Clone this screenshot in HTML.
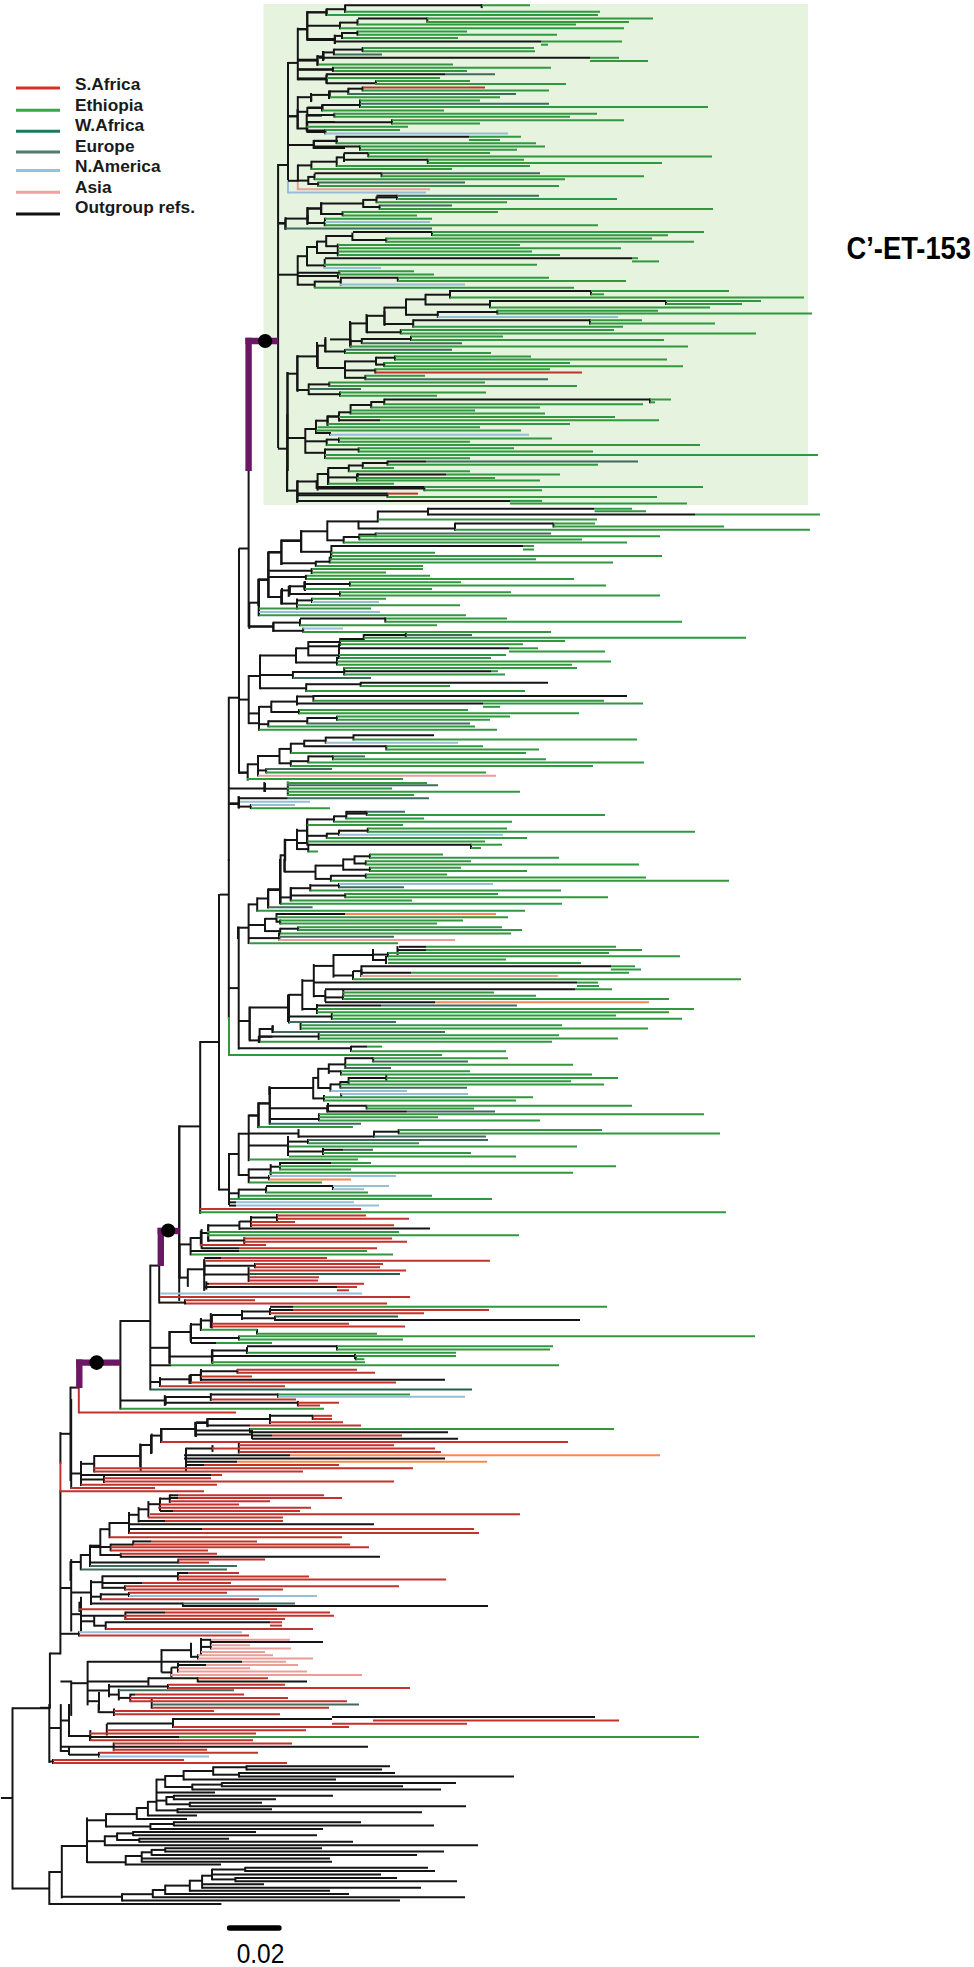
<!DOCTYPE html>
<html><head><meta charset="utf-8"><style>
html,body{margin:0;padding:0;background:#fff;}
body{width:974px;height:1967px;overflow:hidden;position:relative;font-family:"Liberation Sans",sans-serif;}
svg{position:absolute;left:0;top:0;}
.lg{font-family:"Liberation Sans",sans-serif;font-weight:bold;font-size:17.3px;fill:#1a1a1a;}
</style></head><body>
<svg width="974" height="1967" viewBox="0 0 974 1967" shape-rendering="geometricPrecision">
<rect x="263.5" y="4" width="544.5" height="501" fill="#e5f3df"/>
<g stroke-linecap="butt">
<line x1="60.4" y1="1432.1" x2="60.4" y2="1463.7" stroke="#151515" stroke-width="2.0"/>
<line x1="71.2" y1="1399.1" x2="71.2" y2="1488.9" stroke="#151515" stroke-width="2.0"/>
<line x1="81.0" y1="1461.1" x2="81.0" y2="1485.9" stroke="#151515" stroke-width="2.0"/>
<line x1="94.2" y1="1455.1" x2="94.2" y2="1472.5" stroke="#151515" stroke-width="2.0"/>
<line x1="140.2" y1="1443.5" x2="140.2" y2="1466.9" stroke="#151515" stroke-width="2.0"/>
<line x1="151.7" y1="1433.6" x2="151.7" y2="1453.5" stroke="#151515" stroke-width="2.0"/>
<line x1="161.5" y1="1428.7" x2="161.5" y2="1441.9" stroke="#151515" stroke-width="2.0"/>
<line x1="196.0" y1="1422.1" x2="196.0" y2="1436.9" stroke="#151515" stroke-width="2.0"/>
<line x1="207.5" y1="1418.8" x2="207.5" y2="1427.2" stroke="#151515" stroke-width="2.0"/>
<line x1="212.5" y1="1445.1" x2="212.5" y2="1451.9" stroke="#151515" stroke-width="2.0"/>
<line x1="238.8" y1="1441.8" x2="238.8" y2="1453.5" stroke="#151515" stroke-width="2.0"/>
<line x1="252.0" y1="1430.1" x2="252.0" y2="1438.9" stroke="#151515" stroke-width="2.0"/>
<line x1="270.0" y1="1413.9" x2="270.0" y2="1423.9" stroke="#151515" stroke-width="2.0"/>
<line x1="104.0" y1="1476.1" x2="104.0" y2="1482.9" stroke="#151515" stroke-width="2.0"/>
<line x1="138.6" y1="1507.1" x2="138.6" y2="1522.4" stroke="#151515" stroke-width="2.0"/>
<line x1="148.4" y1="1501.1" x2="148.4" y2="1517.5" stroke="#151515" stroke-width="2.0"/>
<line x1="160.0" y1="1497.6" x2="160.0" y2="1510.9" stroke="#151515" stroke-width="2.0"/>
<line x1="169.8" y1="1494.4" x2="169.8" y2="1502.9" stroke="#151515" stroke-width="2.0"/>
<line x1="60.4" y1="1490.4" x2="60.4" y2="1654.4" stroke="#151515" stroke-width="2.0"/>
<line x1="49.9" y1="1652.6" x2="49.9" y2="1708.7" stroke="#151515" stroke-width="2.0"/>
<line x1="71.2" y1="1559.1" x2="71.2" y2="1631.5" stroke="#151515" stroke-width="2.0"/>
<line x1="81.0" y1="1596.8" x2="81.0" y2="1631.5" stroke="#151515" stroke-width="2.0"/>
<line x1="79.4" y1="1601.7" x2="79.4" y2="1611.9" stroke="#151515" stroke-width="2.0"/>
<line x1="91.0" y1="1580.1" x2="91.0" y2="1604.9" stroke="#151515" stroke-width="2.0"/>
<line x1="102.4" y1="1575.5" x2="102.4" y2="1588.9" stroke="#151515" stroke-width="2.0"/>
<line x1="100.8" y1="1593.1" x2="100.8" y2="1600.2" stroke="#151515" stroke-width="2.0"/>
<line x1="94.2" y1="1616.1" x2="94.2" y2="1626.5" stroke="#151515" stroke-width="2.0"/>
<line x1="125.4" y1="1611.6" x2="125.4" y2="1619.9" stroke="#151515" stroke-width="2.0"/>
<line x1="105.7" y1="1621.4" x2="105.7" y2="1629.9" stroke="#151515" stroke-width="2.0"/>
<line x1="87.6" y1="1660.9" x2="87.6" y2="1705.4" stroke="#151515" stroke-width="2.0"/>
<line x1="161.5" y1="1649.1" x2="161.5" y2="1672.5" stroke="#151515" stroke-width="2.0"/>
<line x1="191.0" y1="1642.8" x2="191.0" y2="1657.7" stroke="#151515" stroke-width="2.0"/>
<line x1="201.0" y1="1638.1" x2="201.0" y2="1654.9" stroke="#151515" stroke-width="2.0"/>
<line x1="210.8" y1="1639.1" x2="210.8" y2="1645.9" stroke="#151515" stroke-width="2.0"/>
<line x1="171.4" y1="1667.4" x2="171.4" y2="1677.5" stroke="#151515" stroke-width="2.0"/>
<line x1="178.0" y1="1662.5" x2="178.0" y2="1672.5" stroke="#151515" stroke-width="2.0"/>
<line x1="71.2" y1="1680.6" x2="71.2" y2="1715.9" stroke="#151515" stroke-width="2.0"/>
<line x1="99.0" y1="1692.1" x2="99.0" y2="1710.3" stroke="#151515" stroke-width="2.0"/>
<line x1="109.0" y1="1683.9" x2="109.0" y2="1697.2" stroke="#151515" stroke-width="2.0"/>
<line x1="118.8" y1="1688.8" x2="118.8" y2="1700.4" stroke="#151515" stroke-width="2.0"/>
<line x1="130.3" y1="1693.7" x2="130.3" y2="1702.1" stroke="#151515" stroke-width="2.0"/>
<line x1="151.7" y1="1698.6" x2="151.7" y2="1708.7" stroke="#151515" stroke-width="2.0"/>
<line x1="148.4" y1="1677.3" x2="148.4" y2="1685.7" stroke="#151515" stroke-width="2.0"/>
<line x1="114.0" y1="1708.5" x2="114.0" y2="1715.9" stroke="#151515" stroke-width="2.0"/>
<line x1="12.5" y1="1707.4" x2="12.5" y2="1889.5" stroke="#151515" stroke-width="2.0"/>
<line x1="49.3" y1="1704.1" x2="49.3" y2="1762.9" stroke="#151515" stroke-width="2.0"/>
<line x1="60.8" y1="1704.1" x2="60.8" y2="1751.9" stroke="#151515" stroke-width="2.0"/>
<line x1="69.0" y1="1704.1" x2="69.0" y2="1736.9" stroke="#151515" stroke-width="2.0"/>
<line x1="90.3" y1="1730.1" x2="90.3" y2="1739.9" stroke="#151515" stroke-width="2.0"/>
<line x1="106.8" y1="1723.8" x2="106.8" y2="1735.5" stroke="#151515" stroke-width="2.0"/>
<line x1="98.6" y1="1704.1" x2="98.6" y2="1712.9" stroke="#151515" stroke-width="2.0"/>
<line x1="69.0" y1="1747.1" x2="69.0" y2="1754.9" stroke="#151515" stroke-width="2.0"/>
<line x1="61.8" y1="1845.1" x2="61.8" y2="1898.4" stroke="#151515" stroke-width="2.0"/>
<line x1="106.0" y1="1813.2" x2="106.0" y2="1827.4" stroke="#151515" stroke-width="2.0"/>
<line x1="136.8" y1="1807.1" x2="136.8" y2="1819.9" stroke="#151515" stroke-width="2.0"/>
<line x1="147.9" y1="1800.9" x2="147.9" y2="1816.4" stroke="#151515" stroke-width="2.0"/>
<line x1="156.5" y1="1778.7" x2="156.5" y2="1811.3" stroke="#151515" stroke-width="2.0"/>
<line x1="165.2" y1="1775.1" x2="165.2" y2="1787.9" stroke="#151515" stroke-width="2.0"/>
<line x1="183.6" y1="1770.1" x2="183.6" y2="1780.5" stroke="#151515" stroke-width="2.0"/>
<line x1="213.2" y1="1766.4" x2="213.2" y2="1775.6" stroke="#151515" stroke-width="2.0"/>
<line x1="246.5" y1="1765.3" x2="246.5" y2="1770.5" stroke="#151515" stroke-width="2.0"/>
<line x1="239.0" y1="1772.0" x2="239.0" y2="1777.5" stroke="#151515" stroke-width="2.0"/>
<line x1="192.3" y1="1783.7" x2="192.3" y2="1790.4" stroke="#151515" stroke-width="2.0"/>
<line x1="221.8" y1="1782.2" x2="221.8" y2="1787.2" stroke="#151515" stroke-width="2.0"/>
<line x1="166.4" y1="1796.1" x2="166.4" y2="1805.2" stroke="#151515" stroke-width="2.0"/>
<line x1="173.8" y1="1794.9" x2="173.8" y2="1800.2" stroke="#151515" stroke-width="2.0"/>
<line x1="189.8" y1="1801.9" x2="189.8" y2="1807.1" stroke="#151515" stroke-width="2.0"/>
<line x1="177.5" y1="1808.3" x2="177.5" y2="1813.2" stroke="#151515" stroke-width="2.0"/>
<line x1="150.4" y1="1823.1" x2="150.4" y2="1829.8" stroke="#151515" stroke-width="2.0"/>
<line x1="173.8" y1="1821.3" x2="173.8" y2="1826.3" stroke="#151515" stroke-width="2.0"/>
<line x1="87.0" y1="1817.4" x2="87.0" y2="1863.1" stroke="#151515" stroke-width="2.0"/>
<line x1="104.8" y1="1835.4" x2="104.8" y2="1846.1" stroke="#151515" stroke-width="2.0"/>
<line x1="117.1" y1="1832.5" x2="117.1" y2="1840.9" stroke="#151515" stroke-width="2.0"/>
<line x1="133.1" y1="1831.1" x2="133.1" y2="1836.1" stroke="#151515" stroke-width="2.0"/>
<line x1="139.3" y1="1837.8" x2="139.3" y2="1842.7" stroke="#151515" stroke-width="2.0"/>
<line x1="125.7" y1="1855.1" x2="125.7" y2="1865.5" stroke="#151515" stroke-width="2.0"/>
<line x1="141.7" y1="1851.4" x2="141.7" y2="1862.6" stroke="#151515" stroke-width="2.0"/>
<line x1="151.6" y1="1849.0" x2="151.6" y2="1855.8" stroke="#151515" stroke-width="2.0"/>
<line x1="165.2" y1="1847.4" x2="165.2" y2="1852.5" stroke="#151515" stroke-width="2.0"/>
<line x1="49.3" y1="1871.1" x2="49.3" y2="1904.9" stroke="#151515" stroke-width="2.0"/>
<line x1="122.0" y1="1893.3" x2="122.0" y2="1901.4" stroke="#151515" stroke-width="2.0"/>
<line x1="152.8" y1="1889.1" x2="152.8" y2="1898.1" stroke="#151515" stroke-width="2.0"/>
<line x1="165.2" y1="1884.7" x2="165.2" y2="1895.0" stroke="#151515" stroke-width="2.0"/>
<line x1="189.8" y1="1879.8" x2="189.8" y2="1891.7" stroke="#151515" stroke-width="2.0"/>
<line x1="202.1" y1="1874.8" x2="202.1" y2="1888.7" stroke="#151515" stroke-width="2.0"/>
<line x1="212.0" y1="1868.7" x2="212.0" y2="1880.3" stroke="#151515" stroke-width="2.0"/>
<line x1="245.2" y1="1866.9" x2="245.2" y2="1872.0" stroke="#151515" stroke-width="2.0"/>
<line x1="235.4" y1="1877.0" x2="235.4" y2="1882.2" stroke="#151515" stroke-width="2.0"/>
<line x1="384.5" y1="311.1" x2="384.5" y2="325.9" stroke="#151515" stroke-width="2.0"/>
<line x1="366.5" y1="314.1" x2="366.5" y2="332.9" stroke="#151515" stroke-width="2.0"/>
<line x1="350.0" y1="321.1" x2="350.0" y2="345.9" stroke="#151515" stroke-width="2.0"/>
<line x1="325.4" y1="337.1" x2="325.4" y2="351.9" stroke="#151515" stroke-width="2.0"/>
<line x1="317.0" y1="342.1" x2="317.0" y2="366.9" stroke="#151515" stroke-width="2.0"/>
<line x1="297.5" y1="355.1" x2="297.5" y2="391.9" stroke="#151515" stroke-width="2.0"/>
<line x1="287.6" y1="372.1" x2="287.6" y2="470.9" stroke="#151515" stroke-width="2.0"/>
<line x1="287.0" y1="467.1" x2="287.0" y2="491.9" stroke="#151515" stroke-width="2.0"/>
<line x1="297.6" y1="480.1" x2="297.6" y2="501.9" stroke="#151515" stroke-width="2.0"/>
<line x1="316.6" y1="480.1" x2="316.6" y2="488.9" stroke="#151515" stroke-width="2.0"/>
<line x1="328.0" y1="469.1" x2="328.0" y2="484.9" stroke="#151515" stroke-width="2.0"/>
<line x1="357.7" y1="473.1" x2="357.7" y2="479.9" stroke="#151515" stroke-width="2.0"/>
<line x1="248.6" y1="470.1" x2="248.6" y2="627.2" stroke="#151515" stroke-width="2.0"/>
<line x1="239.0" y1="548.5" x2="239.0" y2="773.7" stroke="#151515" stroke-width="2.0"/>
<line x1="259.0" y1="579.1" x2="259.0" y2="614.9" stroke="#151515" stroke-width="2.0"/>
<line x1="249.3" y1="602.1" x2="249.3" y2="628.9" stroke="#151515" stroke-width="2.0"/>
<line x1="282.0" y1="588.1" x2="282.0" y2="603.9" stroke="#151515" stroke-width="2.0"/>
<line x1="288.7" y1="586.1" x2="288.7" y2="596.9" stroke="#151515" stroke-width="2.0"/>
<line x1="305.0" y1="581.1" x2="305.0" y2="590.9" stroke="#151515" stroke-width="2.0"/>
<line x1="297.0" y1="599.1" x2="297.0" y2="606.9" stroke="#151515" stroke-width="2.0"/>
<line x1="264.3" y1="782.1" x2="264.3" y2="791.9" stroke="#151515" stroke-width="2.0"/>
<line x1="238.0" y1="926.6" x2="238.0" y2="938.9" stroke="#151515" stroke-width="2.0"/>
<line x1="249.7" y1="1007.1" x2="249.7" y2="1039.9" stroke="#151515" stroke-width="2.0"/>
<line x1="272.7" y1="1025.1" x2="272.7" y2="1032.9" stroke="#151515" stroke-width="2.0"/>
<line x1="289.0" y1="994.1" x2="289.0" y2="1023.6" stroke="#151515" stroke-width="2.0"/>
<line x1="302.3" y1="979.1" x2="302.3" y2="1010.5" stroke="#151515" stroke-width="2.0"/>
<line x1="313.8" y1="964.1" x2="313.8" y2="997.3" stroke="#151515" stroke-width="2.0"/>
<line x1="333.5" y1="954.1" x2="333.5" y2="977.6" stroke="#151515" stroke-width="2.0"/>
<line x1="373.0" y1="949.1" x2="373.0" y2="960.9" stroke="#151515" stroke-width="2.0"/>
<line x1="397.5" y1="946.1" x2="397.5" y2="954.9" stroke="#151515" stroke-width="2.0"/>
<line x1="386.0" y1="956.1" x2="386.0" y2="963.9" stroke="#151515" stroke-width="2.0"/>
<line x1="353.0" y1="971.1" x2="353.0" y2="979.9" stroke="#151515" stroke-width="2.0"/>
<line x1="361.4" y1="969.1" x2="361.4" y2="976.9" stroke="#151515" stroke-width="2.0"/>
<line x1="325.3" y1="990.1" x2="325.3" y2="1001.9" stroke="#151515" stroke-width="2.0"/>
<line x1="343.3" y1="989.1" x2="343.3" y2="996.9" stroke="#151515" stroke-width="2.0"/>
<line x1="317.0" y1="1004.1" x2="317.0" y2="1013.9" stroke="#151515" stroke-width="2.0"/>
<line x1="331.8" y1="1013.1" x2="331.8" y2="1019.9" stroke="#151515" stroke-width="2.0"/>
<line x1="300.6" y1="1022.1" x2="300.6" y2="1029.9" stroke="#151515" stroke-width="2.0"/>
<line x1="318.7" y1="1033.1" x2="318.7" y2="1039.9" stroke="#151515" stroke-width="2.0"/>
<line x1="259.6" y1="1028.1" x2="259.6" y2="1042.9" stroke="#151515" stroke-width="2.0"/>
<line x1="269.4" y1="1086.1" x2="269.4" y2="1094.9" stroke="#151515" stroke-width="2.0"/>
<line x1="298.5" y1="1129.1" x2="298.5" y2="1137.9" stroke="#151515" stroke-width="2.0"/>
<line x1="328.0" y1="1103.1" x2="328.0" y2="1111.9" stroke="#151515" stroke-width="2.0"/>
<line x1="323.0" y1="1148.1" x2="323.0" y2="1154.9" stroke="#151515" stroke-width="2.0"/>
<line x1="201.6" y1="1229.1" x2="201.6" y2="1248.9" stroke="#151515" stroke-width="2.0"/>
<line x1="208.2" y1="1224.1" x2="208.2" y2="1241.9" stroke="#151515" stroke-width="2.0"/>
<line x1="239.4" y1="1221.1" x2="239.4" y2="1229.9" stroke="#151515" stroke-width="2.0"/>
<line x1="251.0" y1="1216.1" x2="251.0" y2="1226.9" stroke="#151515" stroke-width="2.0"/>
<line x1="277.0" y1="1214.1" x2="277.0" y2="1220.9" stroke="#151515" stroke-width="2.0"/>
<line x1="244.3" y1="1237.1" x2="244.3" y2="1243.9" stroke="#151515" stroke-width="2.0"/>
<line x1="179.6" y1="1244.1" x2="179.6" y2="1278.9" stroke="#151515" stroke-width="2.0"/>
<line x1="204.2" y1="1259.1" x2="204.2" y2="1290.9" stroke="#151515" stroke-width="2.0"/>
<line x1="248.6" y1="1267.1" x2="248.6" y2="1281.9" stroke="#151515" stroke-width="2.0"/>
<line x1="201.0" y1="1318.1" x2="201.0" y2="1330.9" stroke="#151515" stroke-width="2.0"/>
<line x1="191.0" y1="1323.1" x2="191.0" y2="1342.9" stroke="#151515" stroke-width="2.0"/>
<line x1="210.8" y1="1313.1" x2="210.8" y2="1327.9" stroke="#151515" stroke-width="2.0"/>
<line x1="242.0" y1="1310.1" x2="242.0" y2="1319.9" stroke="#151515" stroke-width="2.0"/>
<line x1="270.0" y1="1308.1" x2="270.0" y2="1314.9" stroke="#151515" stroke-width="2.0"/>
<line x1="169.7" y1="1331.1" x2="169.7" y2="1363.9" stroke="#151515" stroke-width="2.0"/>
<line x1="212.4" y1="1349.1" x2="212.4" y2="1363.9" stroke="#151515" stroke-width="2.0"/>
<line x1="247.0" y1="1347.1" x2="247.0" y2="1353.9" stroke="#151515" stroke-width="2.0"/>
<line x1="355.0" y1="1354.1" x2="355.0" y2="1358.9" stroke="#151515" stroke-width="2.0"/>
<line x1="160.0" y1="1377.1" x2="160.0" y2="1386.9" stroke="#151515" stroke-width="2.0"/>
<line x1="189.4" y1="1375.1" x2="189.4" y2="1383.9" stroke="#151515" stroke-width="2.0"/>
<line x1="201.0" y1="1369.1" x2="201.0" y2="1380.9" stroke="#151515" stroke-width="2.0"/>
<line x1="164.8" y1="1395.1" x2="164.8" y2="1405.9" stroke="#151515" stroke-width="2.0"/>
<line x1="210.8" y1="1393.1" x2="210.8" y2="1400.9" stroke="#151515" stroke-width="2.0"/>
<line x1="237.5" y1="1368.9" x2="237.5" y2="1373.7" stroke="#151515" stroke-width="2.0"/>
<line x1="355.8" y1="1355.3" x2="355.8" y2="1360.3" stroke="#151515" stroke-width="2.0"/>
<line x1="190.7" y1="1376.1" x2="190.7" y2="1383.5" stroke="#151515" stroke-width="2.0"/>
<line x1="297.9" y1="1400.9" x2="297.9" y2="1406.4" stroke="#151515" stroke-width="2.0"/>
<line x1="278.0" y1="1393.6" x2="278.0" y2="1397.7" stroke="#151515" stroke-width="2.0"/>
<line x1="307.3" y1="11.1" x2="307.3" y2="40.9" stroke="#151515" stroke-width="2.0"/>
<line x1="297.8" y1="27.7" x2="297.8" y2="80.3" stroke="#151515" stroke-width="2.0"/>
<line x1="288.0" y1="62.0" x2="288.0" y2="181.9" stroke="#151515" stroke-width="2.0"/>
<line x1="297.8" y1="96.1" x2="297.8" y2="128.9" stroke="#151515" stroke-width="2.0"/>
<line x1="307.3" y1="107.1" x2="307.3" y2="116.5" stroke="#151515" stroke-width="2.0"/>
<line x1="307.3" y1="121.1" x2="307.3" y2="132.9" stroke="#151515" stroke-width="2.0"/>
<line x1="313.7" y1="140.1" x2="313.7" y2="148.9" stroke="#151515" stroke-width="2.0"/>
<line x1="278.1" y1="164.1" x2="278.1" y2="447.9" stroke="#151515" stroke-width="2.0"/>
<line x1="297.8" y1="179.1" x2="297.8" y2="190.2" stroke="#e99e98" stroke-width="2.0"/>
<line x1="288.0" y1="180.1" x2="288.0" y2="193.4" stroke="#95bfd6" stroke-width="2.0"/>
<line x1="285.5" y1="217.1" x2="285.5" y2="229.9" stroke="#151515" stroke-width="2.0"/>
<line x1="307.3" y1="207.1" x2="307.3" y2="224.9" stroke="#151515" stroke-width="2.0"/>
<line x1="321.3" y1="202.1" x2="321.3" y2="214.9" stroke="#151515" stroke-width="2.0"/>
<line x1="334.7" y1="34.7" x2="334.7" y2="43.9" stroke="#151515" stroke-width="2.0"/>
<line x1="317.5" y1="55.1" x2="317.5" y2="65.9" stroke="#151515" stroke-width="2.0"/>
<line x1="323.0" y1="51.1" x2="323.0" y2="60.9" stroke="#151515" stroke-width="2.0"/>
<line x1="326.4" y1="75.1" x2="326.4" y2="83.5" stroke="#151515" stroke-width="2.0"/>
<line x1="311.0" y1="93.1" x2="311.0" y2="101.9" stroke="#151515" stroke-width="2.0"/>
<line x1="329.0" y1="90.6" x2="329.0" y2="98.9" stroke="#151515" stroke-width="2.0"/>
<line x1="322.0" y1="104.6" x2="322.0" y2="111.4" stroke="#151515" stroke-width="2.0"/>
<line x1="326.4" y1="9.1" x2="326.4" y2="15.9" stroke="#151515" stroke-width="2.0"/>
<line x1="345.0" y1="4.4" x2="345.0" y2="12.7" stroke="#151515" stroke-width="2.0"/>
<line x1="287.2" y1="414.1" x2="287.2" y2="491.5" stroke="#151515" stroke-width="2.0"/>
<line x1="305.3" y1="428.1" x2="305.3" y2="453.7" stroke="#151515" stroke-width="2.0"/>
<line x1="316.0" y1="419.8" x2="316.0" y2="433.9" stroke="#151515" stroke-width="2.0"/>
<line x1="327.5" y1="415.7" x2="327.5" y2="424.9" stroke="#151515" stroke-width="2.0"/>
<line x1="339.0" y1="414.1" x2="339.0" y2="421.6" stroke="#151515" stroke-width="2.0"/>
<line x1="330.0" y1="432.1" x2="330.0" y2="435.6" stroke="#151515" stroke-width="2.0"/>
<line x1="326.7" y1="438.7" x2="326.7" y2="445.9" stroke="#151515" stroke-width="2.0"/>
<line x1="339.0" y1="437.6" x2="339.0" y2="442.7" stroke="#151515" stroke-width="2.0"/>
<line x1="325.0" y1="448.6" x2="325.0" y2="459.1" stroke="#151515" stroke-width="2.0"/>
<line x1="358.7" y1="447.4" x2="358.7" y2="452.5" stroke="#151515" stroke-width="2.0"/>
<line x1="387.5" y1="460.6" x2="387.5" y2="465.7" stroke="#151515" stroke-width="2.0"/>
<line x1="362.8" y1="462.1" x2="362.8" y2="468.9" stroke="#151515" stroke-width="2.0"/>
<line x1="348.8" y1="464.6" x2="348.8" y2="472.2" stroke="#151515" stroke-width="2.0"/>
<line x1="328.3" y1="467.1" x2="328.3" y2="484.9" stroke="#151515" stroke-width="2.0"/>
<line x1="357.0" y1="473.7" x2="357.0" y2="481.4" stroke="#151515" stroke-width="2.0"/>
<line x1="317.6" y1="473.1" x2="317.6" y2="490.6" stroke="#151515" stroke-width="2.0"/>
<line x1="424.4" y1="486.1" x2="424.4" y2="491.2" stroke="#151515" stroke-width="2.0"/>
<line x1="297.1" y1="480.6" x2="297.1" y2="502.9" stroke="#151515" stroke-width="2.0"/>
<line x1="387.5" y1="492.7" x2="387.5" y2="497.9" stroke="#151515" stroke-width="2.0"/>
<line x1="351.0" y1="1045.7" x2="351.0" y2="1052.1" stroke="#151515" stroke-width="2.0"/>
<line x1="345.3" y1="1057.3" x2="345.3" y2="1068.9" stroke="#151515" stroke-width="2.0"/>
<line x1="373.2" y1="1057.3" x2="373.2" y2="1062.4" stroke="#151515" stroke-width="2.0"/>
<line x1="328.8" y1="1063.5" x2="328.8" y2="1073.9" stroke="#151515" stroke-width="2.0"/>
<line x1="341.0" y1="1070.4" x2="341.0" y2="1075.5" stroke="#151515" stroke-width="2.0"/>
<line x1="318.2" y1="1067.9" x2="318.2" y2="1088.9" stroke="#151515" stroke-width="2.0"/>
<line x1="330.5" y1="1083.5" x2="330.5" y2="1091.9" stroke="#151515" stroke-width="2.0"/>
<line x1="340.3" y1="1081.1" x2="340.3" y2="1088.6" stroke="#151515" stroke-width="2.0"/>
<line x1="348.6" y1="1077.0" x2="348.6" y2="1084.5" stroke="#151515" stroke-width="2.0"/>
<line x1="386.3" y1="1075.1" x2="386.3" y2="1080.9" stroke="#151515" stroke-width="2.0"/>
<line x1="313.2" y1="1077.0" x2="313.2" y2="1099.3" stroke="#151515" stroke-width="2.0"/>
<line x1="324.0" y1="1095.1" x2="324.0" y2="1101.4" stroke="#151515" stroke-width="2.0"/>
<line x1="341.2" y1="1093.1" x2="341.2" y2="1098.1" stroke="#151515" stroke-width="2.0"/>
<line x1="269.7" y1="1087.1" x2="269.7" y2="1124.7" stroke="#151515" stroke-width="2.0"/>
<line x1="327.2" y1="1104.9" x2="327.2" y2="1112.5" stroke="#151515" stroke-width="2.0"/>
<line x1="366.6" y1="1104.9" x2="366.6" y2="1109.5" stroke="#151515" stroke-width="2.0"/>
<line x1="319.0" y1="1113.3" x2="319.0" y2="1121.3" stroke="#151515" stroke-width="2.0"/>
<line x1="258.2" y1="1102.4" x2="258.2" y2="1128.0" stroke="#151515" stroke-width="2.0"/>
<line x1="428.0" y1="507.8" x2="428.0" y2="515.4" stroke="#151515" stroke-width="2.0"/>
<line x1="377.8" y1="510.7" x2="377.8" y2="522.4" stroke="#151515" stroke-width="2.0"/>
<line x1="358.5" y1="520.6" x2="358.5" y2="529.4" stroke="#151515" stroke-width="2.0"/>
<line x1="455.0" y1="522.7" x2="455.0" y2="530.7" stroke="#151515" stroke-width="2.0"/>
<line x1="553.5" y1="522.7" x2="553.5" y2="527.5" stroke="#151515" stroke-width="2.0"/>
<line x1="258.3" y1="578.8" x2="258.3" y2="605.9" stroke="#151515" stroke-width="2.0"/>
<line x1="268.1" y1="551.7" x2="268.1" y2="597.9" stroke="#151515" stroke-width="2.0"/>
<line x1="281.3" y1="539.4" x2="281.3" y2="565.0" stroke="#151515" stroke-width="2.0"/>
<line x1="301.0" y1="530.4" x2="301.0" y2="552.7" stroke="#151515" stroke-width="2.0"/>
<line x1="327.3" y1="520.5" x2="327.3" y2="541.2" stroke="#151515" stroke-width="2.0"/>
<line x1="343.7" y1="536.1" x2="343.7" y2="543.5" stroke="#151515" stroke-width="2.0"/>
<line x1="359.3" y1="533.7" x2="359.3" y2="540.3" stroke="#151515" stroke-width="2.0"/>
<line x1="375.7" y1="532.5" x2="375.7" y2="537.2" stroke="#151515" stroke-width="2.0"/>
<line x1="331.4" y1="545.1" x2="331.4" y2="555.2" stroke="#151515" stroke-width="2.0"/>
<line x1="315.8" y1="560.8" x2="315.8" y2="566.8" stroke="#151515" stroke-width="2.0"/>
<line x1="329.7" y1="556.7" x2="329.7" y2="563.5" stroke="#151515" stroke-width="2.0"/>
<line x1="311.7" y1="568.1" x2="311.7" y2="574.1" stroke="#151515" stroke-width="2.0"/>
<line x1="305.9" y1="574.8" x2="305.9" y2="579.9" stroke="#151515" stroke-width="2.0"/>
<line x1="289.5" y1="585.4" x2="289.5" y2="595.4" stroke="#151515" stroke-width="2.0"/>
<line x1="304.3" y1="581.4" x2="304.3" y2="589.9" stroke="#151515" stroke-width="2.0"/>
<line x1="281.3" y1="589.5" x2="281.3" y2="604.5" stroke="#151515" stroke-width="2.0"/>
<line x1="297.0" y1="598.6" x2="297.0" y2="609.5" stroke="#151515" stroke-width="2.0"/>
<line x1="273.4" y1="621.7" x2="273.4" y2="631.7" stroke="#151515" stroke-width="2.0"/>
<line x1="300.0" y1="619.1" x2="300.0" y2="626.2" stroke="#151515" stroke-width="2.0"/>
<line x1="385.3" y1="617.6" x2="385.3" y2="622.6" stroke="#151515" stroke-width="2.0"/>
<line x1="303.2" y1="627.7" x2="303.2" y2="632.8" stroke="#151515" stroke-width="2.0"/>
<line x1="260.0" y1="654.5" x2="260.0" y2="689.2" stroke="#151515" stroke-width="2.0"/>
<line x1="296.0" y1="647.4" x2="296.0" y2="663.5" stroke="#151515" stroke-width="2.0"/>
<line x1="308.3" y1="641.1" x2="308.3" y2="656.3" stroke="#151515" stroke-width="2.0"/>
<line x1="340.1" y1="638.1" x2="340.1" y2="646.1" stroke="#151515" stroke-width="2.0"/>
<line x1="363.7" y1="634.2" x2="363.7" y2="641.9" stroke="#151515" stroke-width="2.0"/>
<line x1="405.8" y1="632.6" x2="405.8" y2="637.9" stroke="#151515" stroke-width="2.0"/>
<line x1="339.0" y1="647.4" x2="339.0" y2="658.9" stroke="#151515" stroke-width="2.0"/>
<line x1="337.0" y1="660.5" x2="337.0" y2="665.6" stroke="#151515" stroke-width="2.0"/>
<line x1="292.9" y1="671.0" x2="292.9" y2="678.9" stroke="#151515" stroke-width="2.0"/>
<line x1="344.2" y1="667.1" x2="344.2" y2="675.5" stroke="#151515" stroke-width="2.0"/>
<line x1="306.2" y1="683.3" x2="306.2" y2="691.9" stroke="#151515" stroke-width="2.0"/>
<line x1="360.7" y1="681.9" x2="360.7" y2="686.9" stroke="#151515" stroke-width="2.0"/>
<line x1="271.3" y1="700.7" x2="271.3" y2="712.9" stroke="#151515" stroke-width="2.0"/>
<line x1="297.0" y1="695.6" x2="297.0" y2="705.6" stroke="#151515" stroke-width="2.0"/>
<line x1="313.4" y1="695.1" x2="313.4" y2="701.7" stroke="#151515" stroke-width="2.0"/>
<line x1="299.0" y1="709.1" x2="299.0" y2="714.2" stroke="#151515" stroke-width="2.0"/>
<line x1="259.0" y1="705.9" x2="259.0" y2="720.9" stroke="#151515" stroke-width="2.0"/>
<line x1="248.7" y1="675.1" x2="248.7" y2="724.1" stroke="#151515" stroke-width="2.0"/>
<line x1="259.0" y1="714.1" x2="259.0" y2="730.7" stroke="#151515" stroke-width="2.0"/>
<line x1="268.3" y1="720.3" x2="268.3" y2="727.3" stroke="#151515" stroke-width="2.0"/>
<line x1="307.3" y1="717.1" x2="307.3" y2="724.3" stroke="#151515" stroke-width="2.0"/>
<line x1="337.0" y1="715.7" x2="337.0" y2="720.7" stroke="#151515" stroke-width="2.0"/>
<line x1="247.7" y1="763.4" x2="247.7" y2="780.6" stroke="#151515" stroke-width="2.0"/>
<line x1="258.0" y1="755.1" x2="258.0" y2="776.6" stroke="#151515" stroke-width="2.0"/>
<line x1="266.2" y1="768.1" x2="266.2" y2="773.4" stroke="#151515" stroke-width="2.0"/>
<line x1="279.5" y1="748.0" x2="279.5" y2="764.2" stroke="#151515" stroke-width="2.0"/>
<line x1="290.8" y1="742.8" x2="290.8" y2="753.8" stroke="#151515" stroke-width="2.0"/>
<line x1="304.2" y1="739.8" x2="304.2" y2="747.1" stroke="#151515" stroke-width="2.0"/>
<line x1="325.7" y1="736.7" x2="325.7" y2="743.7" stroke="#151515" stroke-width="2.0"/>
<line x1="353.5" y1="734.4" x2="353.5" y2="740.5" stroke="#151515" stroke-width="2.0"/>
<line x1="386.3" y1="745.3" x2="386.3" y2="750.4" stroke="#151515" stroke-width="2.0"/>
<line x1="290.8" y1="760.3" x2="290.8" y2="766.8" stroke="#151515" stroke-width="2.0"/>
<line x1="308.3" y1="755.5" x2="308.3" y2="763.3" stroke="#151515" stroke-width="2.0"/>
<line x1="333.0" y1="755.5" x2="333.0" y2="760.2" stroke="#151515" stroke-width="2.0"/>
<line x1="287.8" y1="781.5" x2="287.8" y2="795.9" stroke="#151515" stroke-width="2.0"/>
<line x1="238.5" y1="796.1" x2="238.5" y2="808.3" stroke="#151515" stroke-width="2.0"/>
<line x1="250.8" y1="804.1" x2="250.8" y2="809.1" stroke="#151515" stroke-width="2.0"/>
<line x1="307.3" y1="818.5" x2="307.3" y2="842.9" stroke="#151515" stroke-width="2.0"/>
<line x1="334.0" y1="815.4" x2="334.0" y2="822.6" stroke="#151515" stroke-width="2.0"/>
<line x1="346.3" y1="810.9" x2="346.3" y2="819.3" stroke="#151515" stroke-width="2.0"/>
<line x1="366.8" y1="810.9" x2="366.8" y2="815.9" stroke="#151515" stroke-width="2.0"/>
<line x1="326.8" y1="832.8" x2="326.8" y2="838.9" stroke="#151515" stroke-width="2.0"/>
<line x1="339.0" y1="829.8" x2="339.0" y2="835.7" stroke="#151515" stroke-width="2.0"/>
<line x1="367.8" y1="827.7" x2="367.8" y2="832.7" stroke="#151515" stroke-width="2.0"/>
<line x1="297.0" y1="829.8" x2="297.0" y2="850.0" stroke="#151515" stroke-width="2.0"/>
<line x1="308.3" y1="843.8" x2="308.3" y2="852.4" stroke="#151515" stroke-width="2.0"/>
<line x1="471.0" y1="843.8" x2="471.0" y2="848.9" stroke="#151515" stroke-width="2.0"/>
<line x1="284.7" y1="839.1" x2="284.7" y2="872.6" stroke="#151515" stroke-width="2.0"/>
<line x1="315.5" y1="864.7" x2="315.5" y2="879.8" stroke="#151515" stroke-width="2.0"/>
<line x1="343.2" y1="858.5" x2="343.2" y2="870.6" stroke="#151515" stroke-width="2.0"/>
<line x1="354.5" y1="855.4" x2="354.5" y2="864.4" stroke="#151515" stroke-width="2.0"/>
<line x1="369.9" y1="853.7" x2="369.9" y2="858.7" stroke="#151515" stroke-width="2.0"/>
<line x1="365.8" y1="860.3" x2="365.8" y2="865.3" stroke="#151515" stroke-width="2.0"/>
<line x1="369.9" y1="866.8" x2="369.9" y2="871.9" stroke="#151515" stroke-width="2.0"/>
<line x1="330.9" y1="874.9" x2="330.9" y2="881.7" stroke="#151515" stroke-width="2.0"/>
<line x1="365.8" y1="873.5" x2="365.8" y2="878.4" stroke="#151515" stroke-width="2.0"/>
<line x1="280.6" y1="854.4" x2="280.6" y2="904.7" stroke="#151515" stroke-width="2.0"/>
<line x1="268.3" y1="888.3" x2="268.3" y2="905.9" stroke="#151515" stroke-width="2.0"/>
<line x1="290.8" y1="887.3" x2="290.8" y2="901.4" stroke="#151515" stroke-width="2.0"/>
<line x1="310.3" y1="884.1" x2="310.3" y2="891.4" stroke="#151515" stroke-width="2.0"/>
<line x1="339.0" y1="883.1" x2="339.0" y2="888.2" stroke="#151515" stroke-width="2.0"/>
<line x1="345.3" y1="893.1" x2="345.3" y2="898.2" stroke="#151515" stroke-width="2.0"/>
<line x1="60.4" y1="1461.9" x2="60.4" y2="1492.2" stroke="#c2332b" stroke-width="2.0"/>
<line x1="70.5" y1="1561.1" x2="70.5" y2="1580.9" stroke="#151515" stroke-width="2.0"/>
<line x1="80.8" y1="1554.1" x2="80.8" y2="1570.3" stroke="#151515" stroke-width="2.0"/>
<line x1="90.0" y1="1544.8" x2="90.0" y2="1566.9" stroke="#151515" stroke-width="2.0"/>
<line x1="100.3" y1="1528.3" x2="100.3" y2="1555.9" stroke="#151515" stroke-width="2.0"/>
<line x1="120.8" y1="1552.8" x2="120.8" y2="1557.7" stroke="#151515" stroke-width="2.0"/>
<line x1="109.5" y1="1522.1" x2="109.5" y2="1538.2" stroke="#151515" stroke-width="2.0"/>
<line x1="129.0" y1="1512.1" x2="129.0" y2="1533.9" stroke="#151515" stroke-width="2.0"/>
<line x1="110.6" y1="1543.7" x2="110.6" y2="1551.3" stroke="#151515" stroke-width="2.0"/>
<line x1="133.2" y1="1540.5" x2="133.2" y2="1545.3" stroke="#151515" stroke-width="2.0"/>
<line x1="178.3" y1="1558.7" x2="178.3" y2="1563.5" stroke="#151515" stroke-width="2.0"/>
<line x1="432.0" y1="231.0" x2="432.0" y2="236.1" stroke="#151515" stroke-width="2.0"/>
<line x1="398.7" y1="1129.1" x2="398.7" y2="1134.3" stroke="#151515" stroke-width="2.0"/>
<line x1="374.0" y1="1130.8" x2="374.0" y2="1137.5" stroke="#151515" stroke-width="2.0"/>
<line x1="333.0" y1="1185.1" x2="333.0" y2="1190.1" stroke="#151515" stroke-width="2.0"/>
<line x1="257.0" y1="1328.9" x2="257.0" y2="1334.6" stroke="#151515" stroke-width="2.0"/>
<line x1="337.0" y1="1345.3" x2="337.0" y2="1350.4" stroke="#151515" stroke-width="2.0"/>
<line x1="183.0" y1="1602.7" x2="183.0" y2="1606.9" stroke="#151515" stroke-width="2.0"/>
<line x1="173.0" y1="1718.1" x2="173.0" y2="1727.9" stroke="#151515" stroke-width="2.0"/>
<line x1="113.7" y1="1742.5" x2="113.7" y2="1751.2" stroke="#151515" stroke-width="2.0"/>
<line x1="361.4" y1="965.4" x2="361.4" y2="976.9" stroke="#151515" stroke-width="2.0"/>
<line x1="312.7" y1="1414.9" x2="312.7" y2="1419.9" stroke="#151515" stroke-width="2.0"/>
<line x1="197.7" y1="1677.3" x2="197.7" y2="1682.4" stroke="#151515" stroke-width="2.0"/>
<line x1="248.6" y1="903.5" x2="248.6" y2="944.1" stroke="#151515" stroke-width="2.0"/>
<line x1="257.2" y1="897.4" x2="257.2" y2="911.7" stroke="#151515" stroke-width="2.0"/>
<line x1="265.0" y1="917.9" x2="265.0" y2="932.0" stroke="#151515" stroke-width="2.0"/>
<line x1="276.5" y1="913.1" x2="276.5" y2="922.6" stroke="#151515" stroke-width="2.0"/>
<line x1="280.2" y1="919.5" x2="280.2" y2="924.5" stroke="#151515" stroke-width="2.0"/>
<line x1="280.2" y1="927.8" x2="280.2" y2="934.4" stroke="#151515" stroke-width="2.0"/>
<line x1="298.2" y1="926.3" x2="298.2" y2="931.0" stroke="#151515" stroke-width="2.0"/>
<line x1="279.4" y1="935.8" x2="279.4" y2="940.8" stroke="#151515" stroke-width="2.0"/>
<line x1="228.8" y1="696.8" x2="228.8" y2="860.9" stroke="#151515" stroke-width="2.0"/>
<line x1="258.7" y1="578.7" x2="258.7" y2="616.3" stroke="#151515" stroke-width="2.0"/>
<line x1="268.7" y1="551.1" x2="268.7" y2="596.9" stroke="#151515" stroke-width="2.0"/>
<line x1="281.5" y1="540.1" x2="281.5" y2="564.9" stroke="#151515" stroke-width="2.0"/>
<line x1="301.3" y1="530.1" x2="301.3" y2="551.9" stroke="#151515" stroke-width="2.0"/>
<line x1="281.5" y1="589.7" x2="281.5" y2="604.4" stroke="#151515" stroke-width="2.0"/>
<line x1="289.8" y1="585.1" x2="289.8" y2="595.2" stroke="#151515" stroke-width="2.0"/>
<line x1="273.3" y1="622.7" x2="273.3" y2="631.9" stroke="#151515" stroke-width="2.0"/>
<line x1="265.0" y1="782.9" x2="265.0" y2="791.9" stroke="#151515" stroke-width="2.0"/>
<line x1="239.0" y1="796.6" x2="239.0" y2="808.5" stroke="#151515" stroke-width="2.0"/>
<line x1="285.2" y1="838.7" x2="285.2" y2="860.9" stroke="#151515" stroke-width="2.0"/>
<line x1="297.0" y1="828.7" x2="297.0" y2="846.9" stroke="#151515" stroke-width="2.0"/>
<line x1="307.0" y1="818.7" x2="307.0" y2="841.5" stroke="#151515" stroke-width="2.0"/>
<line x1="228.8" y1="859.1" x2="228.8" y2="1018.9" stroke="#151515" stroke-width="2.0"/>
<line x1="229.0" y1="1017.1" x2="229.0" y2="1055.9" stroke="#31983f" stroke-width="2.0"/>
<line x1="219.0" y1="893.9" x2="219.0" y2="1190.5" stroke="#151515" stroke-width="2.0"/>
<line x1="200.2" y1="1041.1" x2="200.2" y2="1213.9" stroke="#151515" stroke-width="2.0"/>
<line x1="179.2" y1="1125.5" x2="179.2" y2="1300.9" stroke="#151515" stroke-width="2.0"/>
<line x1="238.7" y1="926.8" x2="238.7" y2="1049.5" stroke="#151515" stroke-width="2.0"/>
<line x1="268.0" y1="889.1" x2="268.0" y2="908.5" stroke="#151515" stroke-width="2.0"/>
<line x1="280.0" y1="859.1" x2="280.0" y2="903.9" stroke="#151515" stroke-width="2.0"/>
<line x1="284.4" y1="859.1" x2="284.4" y2="871.9" stroke="#151515" stroke-width="2.0"/>
<line x1="290.8" y1="887.1" x2="290.8" y2="900.3" stroke="#151515" stroke-width="2.0"/>
<line x1="249.6" y1="1006.5" x2="249.6" y2="1041.3" stroke="#151515" stroke-width="2.0"/>
<line x1="288.0" y1="994.6" x2="288.0" y2="1021.9" stroke="#151515" stroke-width="2.0"/>
<line x1="258.8" y1="1035.8" x2="258.8" y2="1042.9" stroke="#151515" stroke-width="2.0"/>
<line x1="272.5" y1="1025.7" x2="272.5" y2="1032.9" stroke="#151515" stroke-width="2.0"/>
<line x1="229.0" y1="1153.1" x2="229.0" y2="1205.1" stroke="#151515" stroke-width="2.0"/>
<line x1="238.7" y1="1132.8" x2="238.7" y2="1175.9" stroke="#151515" stroke-width="2.0"/>
<line x1="248.7" y1="1114.5" x2="248.7" y2="1161.2" stroke="#151515" stroke-width="2.0"/>
<line x1="258.8" y1="1102.6" x2="258.8" y2="1128.2" stroke="#151515" stroke-width="2.0"/>
<line x1="269.8" y1="1088.1" x2="269.8" y2="1123.6" stroke="#151515" stroke-width="2.0"/>
<line x1="288.0" y1="1136.1" x2="288.0" y2="1155.9" stroke="#151515" stroke-width="2.0"/>
<line x1="248.7" y1="1168.5" x2="248.7" y2="1183.2" stroke="#151515" stroke-width="2.0"/>
<line x1="270.7" y1="1164.1" x2="270.7" y2="1175.9" stroke="#151515" stroke-width="2.0"/>
<line x1="280.0" y1="1163.1" x2="280.0" y2="1170.3" stroke="#151515" stroke-width="2.0"/>
<line x1="238.7" y1="1188.7" x2="238.7" y2="1197.9" stroke="#151515" stroke-width="2.0"/>
<line x1="266.1" y1="1186.8" x2="266.1" y2="1193.2" stroke="#151515" stroke-width="2.0"/>
<line x1="179.3" y1="1125.5" x2="179.3" y2="1278.5" stroke="#151515" stroke-width="2.0"/>
<line x1="150.3" y1="1264.7" x2="150.3" y2="1390.3" stroke="#151515" stroke-width="2.0"/>
<line x1="159.2" y1="1264.7" x2="159.2" y2="1303.5" stroke="#151515" stroke-width="2.0"/>
<line x1="120.4" y1="1320.1" x2="120.4" y2="1409.7" stroke="#151515" stroke-width="2.0"/>
<line x1="78.8" y1="1386.7" x2="78.8" y2="1413.4" stroke="#c2332b" stroke-width="2.0"/>
<line x1="70.5" y1="1386.7" x2="70.5" y2="1480.9" stroke="#151515" stroke-width="2.0"/>
<line x1="169.4" y1="1331.1" x2="169.4" y2="1363.5" stroke="#151515" stroke-width="2.0"/>
<line x1="190.6" y1="1324.7" x2="190.6" y2="1341.3" stroke="#151515" stroke-width="2.0"/>
<line x1="200.8" y1="1319.1" x2="200.8" y2="1330.3" stroke="#151515" stroke-width="2.0"/>
<line x1="211.9" y1="1314.6" x2="211.9" y2="1328.4" stroke="#151515" stroke-width="2.0"/>
<line x1="211.9" y1="1349.7" x2="211.9" y2="1362.6" stroke="#151515" stroke-width="2.0"/>
<line x1="160.0" y1="1378.4" x2="160.0" y2="1386.7" stroke="#151515" stroke-width="2.0"/>
<line x1="190.6" y1="1375.6" x2="190.6" y2="1383.9" stroke="#151515" stroke-width="2.0"/>
<line x1="200.8" y1="1371.1" x2="200.8" y2="1380.2" stroke="#151515" stroke-width="2.0"/>
<line x1="165.7" y1="1396.9" x2="165.7" y2="1405.1" stroke="#151515" stroke-width="2.0"/>
<line x1="190.6" y1="1237.1" x2="190.6" y2="1255.4" stroke="#151515" stroke-width="2.0"/>
<line x1="200.8" y1="1230.5" x2="200.8" y2="1246.2" stroke="#151515" stroke-width="2.0"/>
<line x1="208.2" y1="1225.1" x2="208.2" y2="1240.6" stroke="#151515" stroke-width="2.0"/>
<line x1="187.8" y1="1268.4" x2="187.8" y2="1286.9" stroke="#151515" stroke-width="2.0"/>
<line x1="204.5" y1="1260.1" x2="204.5" y2="1275.9" stroke="#151515" stroke-width="2.0"/>
<line x1="206.3" y1="1281.3" x2="206.3" y2="1289.6" stroke="#151515" stroke-width="2.0"/>
<line x1="151.0" y1="1434.7" x2="151.0" y2="1454.1" stroke="#151515" stroke-width="2.0"/>
<line x1="161.0" y1="1428.1" x2="161.0" y2="1442.9" stroke="#151515" stroke-width="2.0"/>
<line x1="195.2" y1="1421.8" x2="195.2" y2="1436.5" stroke="#151515" stroke-width="2.0"/>
<line x1="207.3" y1="1418.1" x2="207.3" y2="1426.5" stroke="#151515" stroke-width="2.0"/>
<line x1="140.7" y1="1444.1" x2="140.7" y2="1470.9" stroke="#151515" stroke-width="2.0"/>
<line x1="186.0" y1="1447.7" x2="186.0" y2="1470.9" stroke="#151515" stroke-width="2.0"/>
<line x1="285.4" y1="219.1" x2="285.4" y2="229.4" stroke="#151515" stroke-width="2.0"/>
<line x1="307.7" y1="215.1" x2="307.7" y2="223.9" stroke="#151515" stroke-width="2.0"/>
<line x1="324.7" y1="220.9" x2="324.7" y2="226.2" stroke="#151515" stroke-width="2.0"/>
<line x1="297.7" y1="255.3" x2="297.7" y2="285.6" stroke="#151515" stroke-width="2.0"/>
<line x1="307.0" y1="246.1" x2="307.0" y2="266.3" stroke="#151515" stroke-width="2.0"/>
<line x1="317.0" y1="240.7" x2="317.0" y2="253.9" stroke="#151515" stroke-width="2.0"/>
<line x1="326.2" y1="235.1" x2="326.2" y2="247.1" stroke="#151515" stroke-width="2.0"/>
<line x1="352.4" y1="232.6" x2="352.4" y2="240.9" stroke="#151515" stroke-width="2.0"/>
<line x1="386.3" y1="237.6" x2="386.3" y2="242.5" stroke="#151515" stroke-width="2.0"/>
<line x1="337.8" y1="243.7" x2="337.8" y2="256.3" stroke="#151515" stroke-width="2.0"/>
<line x1="324.7" y1="258.8" x2="324.7" y2="268.6" stroke="#151515" stroke-width="2.0"/>
<line x1="339.3" y1="270.7" x2="339.3" y2="274.9" stroke="#151515" stroke-width="2.0"/>
<line x1="314.7" y1="280.7" x2="314.7" y2="287.9" stroke="#151515" stroke-width="2.0"/>
<line x1="340.8" y1="278.4" x2="340.8" y2="285.6" stroke="#151515" stroke-width="2.0"/>
<line x1="397.8" y1="276.9" x2="397.8" y2="281.7" stroke="#151515" stroke-width="2.0"/>
<line x1="481.7" y1="4.4" x2="481.7" y2="8.1" stroke="#151515" stroke-width="2.0"/>
<line x1="345.2" y1="6.3" x2="345.2" y2="12.7" stroke="#151515" stroke-width="2.0"/>
<line x1="326.7" y1="8.3" x2="326.7" y2="16.0" stroke="#151515" stroke-width="2.0"/>
<line x1="307.2" y1="11.4" x2="307.2" y2="39.9" stroke="#151515" stroke-width="2.0"/>
<line x1="427.3" y1="17.5" x2="427.3" y2="22.8" stroke="#151515" stroke-width="2.0"/>
<line x1="357.5" y1="19.2" x2="357.5" y2="25.5" stroke="#151515" stroke-width="2.0"/>
<line x1="340.0" y1="21.7" x2="340.0" y2="29.2" stroke="#151515" stroke-width="2.0"/>
<line x1="357.5" y1="30.6" x2="357.5" y2="35.7" stroke="#151515" stroke-width="2.0"/>
<line x1="342.0" y1="32.1" x2="342.0" y2="39.0" stroke="#151515" stroke-width="2.0"/>
<line x1="335.0" y1="35.0" x2="335.0" y2="44.0" stroke="#151515" stroke-width="2.0"/>
<line x1="362.6" y1="47.1" x2="362.6" y2="52.1" stroke="#151515" stroke-width="2.0"/>
<line x1="333.9" y1="48.7" x2="333.9" y2="55.4" stroke="#151515" stroke-width="2.0"/>
<line x1="323.6" y1="51.5" x2="323.6" y2="60.4" stroke="#151515" stroke-width="2.0"/>
<line x1="317.5" y1="55.6" x2="317.5" y2="65.3" stroke="#151515" stroke-width="2.0"/>
<line x1="332.9" y1="66.8" x2="332.9" y2="71.9" stroke="#151515" stroke-width="2.0"/>
<line x1="326.7" y1="73.3" x2="326.7" y2="84.1" stroke="#151515" stroke-width="2.0"/>
<line x1="376.0" y1="80.2" x2="376.0" y2="85.0" stroke="#151515" stroke-width="2.0"/>
<line x1="362.6" y1="86.5" x2="362.6" y2="91.4" stroke="#151515" stroke-width="2.0"/>
<line x1="348.3" y1="87.8" x2="348.3" y2="94.9" stroke="#151515" stroke-width="2.0"/>
<line x1="329.8" y1="90.5" x2="329.8" y2="98.1" stroke="#151515" stroke-width="2.0"/>
<line x1="311.3" y1="94.0" x2="311.3" y2="101.5" stroke="#151515" stroke-width="2.0"/>
<line x1="322.6" y1="104.1" x2="322.6" y2="110.9" stroke="#151515" stroke-width="2.0"/>
<line x1="334.4" y1="112.8" x2="334.4" y2="117.6" stroke="#151515" stroke-width="2.0"/>
<line x1="306.7" y1="114.1" x2="306.7" y2="131.4" stroke="#151515" stroke-width="2.0"/>
<line x1="392.0" y1="119.3" x2="392.0" y2="124.4" stroke="#151515" stroke-width="2.0"/>
<line x1="325.2" y1="129.2" x2="325.2" y2="134.3" stroke="#151515" stroke-width="2.0"/>
<line x1="297.5" y1="109.1" x2="297.5" y2="129.4" stroke="#151515" stroke-width="2.0"/>
<line x1="336.5" y1="135.8" x2="336.5" y2="144.1" stroke="#151515" stroke-width="2.0"/>
<line x1="313.9" y1="139.9" x2="313.9" y2="148.9" stroke="#151515" stroke-width="2.0"/>
<line x1="360.0" y1="145.6" x2="360.0" y2="150.7" stroke="#151515" stroke-width="2.0"/>
<line x1="368.3" y1="152.2" x2="368.3" y2="157.3" stroke="#151515" stroke-width="2.0"/>
<line x1="427.8" y1="158.8" x2="427.8" y2="163.9" stroke="#151515" stroke-width="2.0"/>
<line x1="397.0" y1="194.8" x2="397.0" y2="199.9" stroke="#151515" stroke-width="2.0"/>
<line x1="376.5" y1="196.5" x2="376.5" y2="203.2" stroke="#151515" stroke-width="2.0"/>
<line x1="379.6" y1="204.7" x2="379.6" y2="209.8" stroke="#151515" stroke-width="2.0"/>
<line x1="363.2" y1="199.1" x2="363.2" y2="207.9" stroke="#151515" stroke-width="2.0"/>
<line x1="321.0" y1="202.5" x2="321.0" y2="214.9" stroke="#151515" stroke-width="2.0"/>
<line x1="342.6" y1="211.2" x2="342.6" y2="216.3" stroke="#151515" stroke-width="2.0"/>
<line x1="307.7" y1="207.7" x2="307.7" y2="219.7" stroke="#151515" stroke-width="2.0"/>
<line x1="314.5" y1="173.7" x2="314.5" y2="180.1" stroke="#151515" stroke-width="2.0"/>
<line x1="308.3" y1="176.0" x2="308.3" y2="184.9" stroke="#151515" stroke-width="2.0"/>
<line x1="318.2" y1="181.7" x2="318.2" y2="186.8" stroke="#151515" stroke-width="2.0"/>
<line x1="297.9" y1="164.5" x2="297.9" y2="181.5" stroke="#151515" stroke-width="2.0"/>
<line x1="311.4" y1="160.8" x2="311.4" y2="169.8" stroke="#151515" stroke-width="2.0"/>
<line x1="336.7" y1="156.5" x2="336.7" y2="166.9" stroke="#151515" stroke-width="2.0"/>
<line x1="344.0" y1="153.4" x2="344.0" y2="161.9" stroke="#151515" stroke-width="2.0"/>
<line x1="381.6" y1="172.4" x2="381.6" y2="177.2" stroke="#151515" stroke-width="2.0"/>
<line x1="450.0" y1="290.1" x2="450.0" y2="298.5" stroke="#151515" stroke-width="2.0"/>
<line x1="425.5" y1="293.8" x2="425.5" y2="305.4" stroke="#151515" stroke-width="2.0"/>
<line x1="490.0" y1="300.0" x2="490.0" y2="308.3" stroke="#151515" stroke-width="2.0"/>
<line x1="666.0" y1="300.0" x2="666.0" y2="305.0" stroke="#151515" stroke-width="2.0"/>
<line x1="406.0" y1="298.5" x2="406.0" y2="315.7" stroke="#151515" stroke-width="2.0"/>
<line x1="437.8" y1="311.1" x2="437.8" y2="317.9" stroke="#151515" stroke-width="2.0"/>
<line x1="497.4" y1="309.8" x2="497.4" y2="314.5" stroke="#151515" stroke-width="2.0"/>
<line x1="384.4" y1="306.7" x2="384.4" y2="324.9" stroke="#151515" stroke-width="2.0"/>
<line x1="413.2" y1="319.3" x2="413.2" y2="327.7" stroke="#151515" stroke-width="2.0"/>
<line x1="367.0" y1="314.9" x2="367.0" y2="333.2" stroke="#151515" stroke-width="2.0"/>
<line x1="400.8" y1="329.1" x2="400.8" y2="334.3" stroke="#151515" stroke-width="2.0"/>
<line x1="350.5" y1="322.5" x2="350.5" y2="347.4" stroke="#151515" stroke-width="2.0"/>
<line x1="411.0" y1="335.7" x2="411.0" y2="340.9" stroke="#151515" stroke-width="2.0"/>
<line x1="361.8" y1="338.1" x2="361.8" y2="344.1" stroke="#151515" stroke-width="2.0"/>
<line x1="590.0" y1="319.3" x2="590.0" y2="324.4" stroke="#151515" stroke-width="2.0"/>
<line x1="591.0" y1="290.1" x2="591.0" y2="295.2" stroke="#151515" stroke-width="2.0"/>
<line x1="350.6" y1="339.1" x2="350.6" y2="347.5" stroke="#151515" stroke-width="2.0"/>
<line x1="325.2" y1="339.1" x2="325.2" y2="352.4" stroke="#151515" stroke-width="2.0"/>
<line x1="345.0" y1="348.9" x2="345.0" y2="353.9" stroke="#151515" stroke-width="2.0"/>
<line x1="317.8" y1="344.8" x2="317.8" y2="368.9" stroke="#151515" stroke-width="2.0"/>
<line x1="297.2" y1="355.5" x2="297.2" y2="390.9" stroke="#151515" stroke-width="2.0"/>
<line x1="287.4" y1="372.1" x2="287.4" y2="470.9" stroke="#151515" stroke-width="2.0"/>
<line x1="345.0" y1="360.5" x2="345.0" y2="378.7" stroke="#151515" stroke-width="2.0"/>
<line x1="376.0" y1="356.8" x2="376.0" y2="365.5" stroke="#151515" stroke-width="2.0"/>
<line x1="395.0" y1="355.5" x2="395.0" y2="360.5" stroke="#151515" stroke-width="2.0"/>
<line x1="384.3" y1="362.1" x2="384.3" y2="367.1" stroke="#151515" stroke-width="2.0"/>
<line x1="375.3" y1="368.4" x2="375.3" y2="373.5" stroke="#151515" stroke-width="2.0"/>
<line x1="365.4" y1="374.9" x2="365.4" y2="380.2" stroke="#151515" stroke-width="2.0"/>
<line x1="308.7" y1="383.5" x2="308.7" y2="395.1" stroke="#151515" stroke-width="2.0"/>
<line x1="329.3" y1="381.7" x2="329.3" y2="386.9" stroke="#151515" stroke-width="2.0"/>
<line x1="340.0" y1="391.6" x2="340.0" y2="396.7" stroke="#151515" stroke-width="2.0"/>
<line x1="384.3" y1="398.6" x2="384.3" y2="405.1" stroke="#151515" stroke-width="2.0"/>
<line x1="371.2" y1="401.1" x2="371.2" y2="408.3" stroke="#151515" stroke-width="2.0"/>
<line x1="350.6" y1="404.1" x2="350.6" y2="414.5" stroke="#151515" stroke-width="2.0"/>
<line x1="339.0" y1="411.4" x2="339.0" y2="420.9" stroke="#151515" stroke-width="2.0"/>
<line x1="327.6" y1="415.5" x2="327.6" y2="425.9" stroke="#151515" stroke-width="2.0"/>
<line x1="650.0" y1="398.6" x2="650.0" y2="403.2" stroke="#151515" stroke-width="2.0"/>
<line x1="360.0" y1="99.6" x2="360.0" y2="108.0" stroke="#151515" stroke-width="2.0"/>
<line x1="325.0" y1="217.8" x2="325.0" y2="222.9" stroke="#151515" stroke-width="2.0"/>
<line x1="338.0" y1="273.6" x2="338.0" y2="278.7" stroke="#151515" stroke-width="2.0"/>
<line x1="331.0" y1="551.8" x2="331.0" y2="560.2" stroke="#151515" stroke-width="2.0"/>
<line x1="350.0" y1="581.4" x2="350.0" y2="586.5" stroke="#151515" stroke-width="2.0"/>
<line x1="340.0" y1="591.3" x2="340.0" y2="596.4" stroke="#151515" stroke-width="2.0"/>
<line x1="312.0" y1="597.8" x2="312.0" y2="602.9" stroke="#151515" stroke-width="2.0"/>
<line x1="339.0" y1="643.4" x2="339.0" y2="649.2" stroke="#151515" stroke-width="2.0"/>
<line x1="337.0" y1="657.1" x2="337.0" y2="662.3" stroke="#151515" stroke-width="2.0"/>
<line x1="307.3" y1="840.5" x2="307.3" y2="845.6" stroke="#151515" stroke-width="2.0"/>
<line x1="279.0" y1="932.6" x2="279.0" y2="937.6" stroke="#151515" stroke-width="2.0"/>
<line x1="388.0" y1="952.1" x2="388.0" y2="957.2" stroke="#151515" stroke-width="2.0"/>
<line x1="343.0" y1="994.9" x2="343.0" y2="999.9" stroke="#151515" stroke-width="2.0"/>
<line x1="308.0" y1="1139.1" x2="308.0" y2="1144.1" stroke="#151515" stroke-width="2.0"/>
<line x1="269.0" y1="1175.1" x2="269.0" y2="1180.3" stroke="#151515" stroke-width="2.0"/>
<line x1="255.0" y1="1263.1" x2="255.0" y2="1268.2" stroke="#151515" stroke-width="2.0"/>
<line x1="185.0" y1="1299.3" x2="185.0" y2="1304.4" stroke="#151515" stroke-width="2.0"/>
<line x1="275.0" y1="1315.7" x2="275.0" y2="1320.9" stroke="#151515" stroke-width="2.0"/>
<line x1="239.0" y1="1335.4" x2="239.0" y2="1340.5" stroke="#151515" stroke-width="2.0"/>
<line x1="250.0" y1="1428.1" x2="250.0" y2="1433.1" stroke="#151515" stroke-width="2.0"/>
<line x1="178.0" y1="1572.1" x2="178.0" y2="1580.5" stroke="#151515" stroke-width="2.0"/>
<line x1="125.0" y1="1585.3" x2="125.0" y2="1590.4" stroke="#151515" stroke-width="2.0"/>
<line x1="129.0" y1="1591.9" x2="129.0" y2="1596.9" stroke="#151515" stroke-width="2.0"/>
<line x1="79.0" y1="1631.3" x2="79.0" y2="1636.4" stroke="#151515" stroke-width="2.0"/>
<line x1="211.0" y1="1644.4" x2="211.0" y2="1649.5" stroke="#151515" stroke-width="2.0"/>
<line x1="198.0" y1="1654.3" x2="198.0" y2="1659.4" stroke="#151515" stroke-width="2.0"/>
<line x1="168.0" y1="1683.9" x2="168.0" y2="1688.9" stroke="#151515" stroke-width="2.0"/>
<line x1="90.0" y1="1736.1" x2="90.0" y2="1741.1" stroke="#151515" stroke-width="2.0"/>
<line x1="99.0" y1="1751.9" x2="99.0" y2="1757.5" stroke="#151515" stroke-width="2.0"/>
<line x1="53.0" y1="1759.1" x2="53.0" y2="1763.9" stroke="#151515" stroke-width="2.0"/>
<line x1="49.9" y1="1653.5" x2="60.4" y2="1653.5" stroke="#151515" stroke-width="2.0"/>
<line x1="40.0" y1="1707.8" x2="49.9" y2="1707.8" stroke="#151515" stroke-width="2.0"/>
<line x1="60.4" y1="1588.0" x2="71.2" y2="1588.0" stroke="#151515" stroke-width="2.0"/>
<line x1="87.6" y1="1661.8" x2="161.5" y2="1661.8" stroke="#151515" stroke-width="2.0"/>
<line x1="60.4" y1="1681.5" x2="71.2" y2="1681.5" stroke="#151515" stroke-width="2.0"/>
<line x1="12.5" y1="1708.3" x2="49.9" y2="1708.3" stroke="#151515" stroke-width="2.0"/>
<line x1="1.0" y1="1798.0" x2="12.5" y2="1798.0" stroke="#151515" stroke-width="2.0"/>
<line x1="69.0" y1="1736.0" x2="90.3" y2="1736.0" stroke="#151515" stroke-width="2.0"/>
<line x1="60.8" y1="1751.0" x2="69.0" y2="1751.0" stroke="#151515" stroke-width="2.0"/>
<line x1="61.8" y1="1846.0" x2="87.0" y2="1846.0" stroke="#151515" stroke-width="2.0"/>
<line x1="87.0" y1="1820.3" x2="106.0" y2="1820.3" stroke="#151515" stroke-width="2.0"/>
<line x1="106.0" y1="1814.1" x2="136.8" y2="1814.1" stroke="#151515" stroke-width="2.0"/>
<line x1="106.0" y1="1826.5" x2="150.4" y2="1826.5" stroke="#151515" stroke-width="2.0"/>
<line x1="136.8" y1="1808.0" x2="147.9" y2="1808.0" stroke="#151515" stroke-width="2.0"/>
<line x1="147.9" y1="1801.8" x2="156.5" y2="1801.8" stroke="#151515" stroke-width="2.0"/>
<line x1="156.5" y1="1779.6" x2="165.2" y2="1779.6" stroke="#151515" stroke-width="2.0"/>
<line x1="156.5" y1="1800.6" x2="166.4" y2="1800.6" stroke="#151515" stroke-width="2.0"/>
<line x1="156.5" y1="1810.4" x2="177.5" y2="1810.4" stroke="#151515" stroke-width="2.0"/>
<line x1="165.2" y1="1776.0" x2="183.6" y2="1776.0" stroke="#151515" stroke-width="2.0"/>
<line x1="165.2" y1="1787.0" x2="192.3" y2="1787.0" stroke="#151515" stroke-width="2.0"/>
<line x1="183.6" y1="1771.0" x2="213.2" y2="1771.0" stroke="#151515" stroke-width="2.0"/>
<line x1="213.2" y1="1767.3" x2="246.5" y2="1767.3" stroke="#151515" stroke-width="2.0"/>
<line x1="213.2" y1="1774.7" x2="239.0" y2="1774.7" stroke="#151515" stroke-width="2.0"/>
<line x1="192.3" y1="1784.6" x2="221.8" y2="1784.6" stroke="#151515" stroke-width="2.0"/>
<line x1="166.4" y1="1797.0" x2="173.8" y2="1797.0" stroke="#151515" stroke-width="2.0"/>
<line x1="166.4" y1="1804.3" x2="189.8" y2="1804.3" stroke="#151515" stroke-width="2.0"/>
<line x1="150.4" y1="1824.0" x2="173.8" y2="1824.0" stroke="#151515" stroke-width="2.0"/>
<line x1="87.0" y1="1841.2" x2="104.8" y2="1841.2" stroke="#151515" stroke-width="2.0"/>
<line x1="104.8" y1="1836.3" x2="117.1" y2="1836.3" stroke="#151515" stroke-width="2.0"/>
<line x1="117.1" y1="1833.4" x2="133.1" y2="1833.4" stroke="#151515" stroke-width="2.0"/>
<line x1="117.1" y1="1840.0" x2="139.3" y2="1840.0" stroke="#151515" stroke-width="2.0"/>
<line x1="87.0" y1="1862.2" x2="125.7" y2="1862.2" stroke="#151515" stroke-width="2.0"/>
<line x1="125.7" y1="1856.0" x2="141.7" y2="1856.0" stroke="#151515" stroke-width="2.0"/>
<line x1="141.7" y1="1852.3" x2="151.6" y2="1852.3" stroke="#151515" stroke-width="2.0"/>
<line x1="151.6" y1="1849.9" x2="165.2" y2="1849.9" stroke="#151515" stroke-width="2.0"/>
<line x1="12.5" y1="1888.6" x2="49.3" y2="1888.6" stroke="#151515" stroke-width="2.0"/>
<line x1="49.3" y1="1872.0" x2="61.8" y2="1872.0" stroke="#151515" stroke-width="2.0"/>
<line x1="61.8" y1="1846.0" x2="87.0" y2="1846.0" stroke="#151515" stroke-width="2.0"/>
<line x1="61.8" y1="1896.7" x2="122.0" y2="1896.7" stroke="#151515" stroke-width="2.0"/>
<line x1="122.0" y1="1894.2" x2="152.8" y2="1894.2" stroke="#151515" stroke-width="2.0"/>
<line x1="152.8" y1="1890.0" x2="165.2" y2="1890.0" stroke="#151515" stroke-width="2.0"/>
<line x1="165.2" y1="1885.6" x2="189.8" y2="1885.6" stroke="#151515" stroke-width="2.0"/>
<line x1="189.8" y1="1880.7" x2="202.1" y2="1880.7" stroke="#151515" stroke-width="2.0"/>
<line x1="202.1" y1="1875.7" x2="212.0" y2="1875.7" stroke="#151515" stroke-width="2.0"/>
<line x1="212.0" y1="1869.6" x2="245.2" y2="1869.6" stroke="#151515" stroke-width="2.0"/>
<line x1="212.0" y1="1879.4" x2="235.4" y2="1879.4" stroke="#151515" stroke-width="2.0"/>
<line x1="238.8" y1="548.5" x2="248.6" y2="548.5" stroke="#151515" stroke-width="2.0"/>
<line x1="259.0" y1="579.7" x2="269.0" y2="579.7" stroke="#151515" stroke-width="2.0"/>
<line x1="249.3" y1="602.7" x2="259.0" y2="602.7" stroke="#151515" stroke-width="2.0"/>
<line x1="220.0" y1="894.6" x2="229.0" y2="894.6" stroke="#151515" stroke-width="2.0"/>
<line x1="307.3" y1="12.3" x2="326.4" y2="12.3" stroke="#151515" stroke-width="2.0"/>
<line x1="297.8" y1="29.0" x2="307.3" y2="29.0" stroke="#151515" stroke-width="2.0"/>
<line x1="307.3" y1="40.0" x2="334.7" y2="40.0" stroke="#151515" stroke-width="2.0"/>
<line x1="288.0" y1="62.9" x2="297.8" y2="62.9" stroke="#151515" stroke-width="2.0"/>
<line x1="297.8" y1="59.7" x2="317.5" y2="59.7" stroke="#151515" stroke-width="2.0"/>
<line x1="297.8" y1="69.2" x2="334.0" y2="69.2" stroke="#151515" stroke-width="2.0"/>
<line x1="297.8" y1="79.4" x2="326.4" y2="79.4" stroke="#151515" stroke-width="2.0"/>
<line x1="297.8" y1="97.2" x2="311.0" y2="97.2" stroke="#151515" stroke-width="2.0"/>
<line x1="297.8" y1="111.8" x2="307.3" y2="111.8" stroke="#151515" stroke-width="2.0"/>
<line x1="307.3" y1="115.6" x2="322.0" y2="115.6" stroke="#151515" stroke-width="2.0"/>
<line x1="288.0" y1="116.3" x2="297.8" y2="116.3" stroke="#151515" stroke-width="2.0"/>
<line x1="307.3" y1="122.0" x2="335.0" y2="122.0" stroke="#151515" stroke-width="2.0"/>
<line x1="307.3" y1="132.0" x2="326.4" y2="132.0" stroke="#151515" stroke-width="2.0"/>
<line x1="288.0" y1="145.0" x2="313.7" y2="145.0" stroke="#151515" stroke-width="2.0"/>
<line x1="313.7" y1="141.0" x2="337.8" y2="141.0" stroke="#151515" stroke-width="2.0"/>
<line x1="313.7" y1="148.0" x2="345.0" y2="148.0" stroke="#151515" stroke-width="2.0"/>
<line x1="278.1" y1="165.0" x2="288.0" y2="165.0" stroke="#151515" stroke-width="2.0"/>
<line x1="307.3" y1="208.4" x2="321.3" y2="208.4" stroke="#151515" stroke-width="2.0"/>
<line x1="285.5" y1="218.6" x2="307.3" y2="218.6" stroke="#151515" stroke-width="2.0"/>
<line x1="278.1" y1="223.6" x2="285.5" y2="223.6" stroke="#151515" stroke-width="2.0"/>
<line x1="277.9" y1="448.7" x2="287.2" y2="448.7" stroke="#151515" stroke-width="2.0"/>
<line x1="287.2" y1="490.6" x2="297.1" y2="490.6" stroke="#151515" stroke-width="2.0"/>
<line x1="287.2" y1="438.0" x2="305.3" y2="438.0" stroke="#151515" stroke-width="2.0"/>
<line x1="305.3" y1="429.0" x2="316.0" y2="429.0" stroke="#151515" stroke-width="2.0"/>
<line x1="305.3" y1="441.3" x2="326.7" y2="441.3" stroke="#151515" stroke-width="2.0"/>
<line x1="305.3" y1="452.8" x2="325.0" y2="452.8" stroke="#151515" stroke-width="2.0"/>
<line x1="316.0" y1="420.7" x2="327.5" y2="420.7" stroke="#151515" stroke-width="2.0"/>
<line x1="316.0" y1="433.0" x2="330.0" y2="433.0" stroke="#151515" stroke-width="2.0"/>
<line x1="327.5" y1="416.6" x2="339.0" y2="416.6" stroke="#151515" stroke-width="2.0"/>
<line x1="326.7" y1="439.6" x2="339.0" y2="439.6" stroke="#151515" stroke-width="2.0"/>
<line x1="325.0" y1="449.5" x2="358.7" y2="449.5" stroke="#151515" stroke-width="2.0"/>
<line x1="362.8" y1="463.0" x2="387.5" y2="463.0" stroke="#151515" stroke-width="2.0"/>
<line x1="348.8" y1="465.5" x2="362.8" y2="465.5" stroke="#151515" stroke-width="2.0"/>
<line x1="328.3" y1="468.0" x2="348.8" y2="468.0" stroke="#151515" stroke-width="2.0"/>
<line x1="328.3" y1="477.4" x2="357.0" y2="477.4" stroke="#151515" stroke-width="2.0"/>
<line x1="317.6" y1="474.0" x2="328.3" y2="474.0" stroke="#151515" stroke-width="2.0"/>
<line x1="317.6" y1="488.6" x2="424.4" y2="488.6" stroke="#151515" stroke-width="2.0"/>
<line x1="297.1" y1="481.5" x2="317.6" y2="481.5" stroke="#151515" stroke-width="2.0"/>
<line x1="297.1" y1="495.3" x2="387.5" y2="495.3" stroke="#151515" stroke-width="2.0"/>
<line x1="328.8" y1="1064.4" x2="345.3" y2="1064.4" stroke="#151515" stroke-width="2.0"/>
<line x1="318.2" y1="1068.8" x2="328.8" y2="1068.8" stroke="#151515" stroke-width="2.0"/>
<line x1="318.2" y1="1088.0" x2="330.5" y2="1088.0" stroke="#151515" stroke-width="2.0"/>
<line x1="330.5" y1="1084.4" x2="340.3" y2="1084.4" stroke="#151515" stroke-width="2.0"/>
<line x1="340.3" y1="1082.0" x2="348.6" y2="1082.0" stroke="#151515" stroke-width="2.0"/>
<line x1="313.2" y1="1077.9" x2="318.2" y2="1077.9" stroke="#151515" stroke-width="2.0"/>
<line x1="313.2" y1="1098.4" x2="324.0" y2="1098.4" stroke="#151515" stroke-width="2.0"/>
<line x1="269.7" y1="1088.0" x2="313.2" y2="1088.0" stroke="#151515" stroke-width="2.0"/>
<line x1="269.7" y1="1108.2" x2="327.2" y2="1108.2" stroke="#151515" stroke-width="2.0"/>
<line x1="269.7" y1="1118.9" x2="319.0" y2="1118.9" stroke="#151515" stroke-width="2.0"/>
<line x1="258.2" y1="1103.3" x2="269.7" y2="1103.3" stroke="#151515" stroke-width="2.0"/>
<line x1="249.3" y1="1115.6" x2="258.2" y2="1115.6" stroke="#151515" stroke-width="2.0"/>
<line x1="377.8" y1="511.6" x2="428.0" y2="511.6" stroke="#151515" stroke-width="2.0"/>
<line x1="358.5" y1="521.5" x2="377.8" y2="521.5" stroke="#151515" stroke-width="2.0"/>
<line x1="358.5" y1="528.5" x2="455.0" y2="528.5" stroke="#151515" stroke-width="2.0"/>
<line x1="258.3" y1="579.7" x2="268.1" y2="579.7" stroke="#151515" stroke-width="2.0"/>
<line x1="268.1" y1="552.6" x2="281.3" y2="552.6" stroke="#151515" stroke-width="2.0"/>
<line x1="281.3" y1="540.3" x2="301.0" y2="540.3" stroke="#151515" stroke-width="2.0"/>
<line x1="281.3" y1="563.3" x2="315.8" y2="563.3" stroke="#151515" stroke-width="2.0"/>
<line x1="301.0" y1="531.3" x2="327.3" y2="531.3" stroke="#151515" stroke-width="2.0"/>
<line x1="301.0" y1="551.8" x2="331.4" y2="551.8" stroke="#151515" stroke-width="2.0"/>
<line x1="327.3" y1="521.4" x2="358.5" y2="521.4" stroke="#151515" stroke-width="2.0"/>
<line x1="327.3" y1="540.3" x2="343.7" y2="540.3" stroke="#151515" stroke-width="2.0"/>
<line x1="343.7" y1="537.0" x2="359.3" y2="537.0" stroke="#151515" stroke-width="2.0"/>
<line x1="359.3" y1="534.6" x2="375.7" y2="534.6" stroke="#151515" stroke-width="2.0"/>
<line x1="315.8" y1="561.7" x2="329.7" y2="561.7" stroke="#151515" stroke-width="2.0"/>
<line x1="268.1" y1="570.7" x2="311.7" y2="570.7" stroke="#151515" stroke-width="2.0"/>
<line x1="268.1" y1="577.0" x2="305.9" y2="577.0" stroke="#151515" stroke-width="2.0"/>
<line x1="289.5" y1="586.3" x2="304.3" y2="586.3" stroke="#151515" stroke-width="2.0"/>
<line x1="268.1" y1="597.0" x2="281.3" y2="597.0" stroke="#151515" stroke-width="2.0"/>
<line x1="281.3" y1="590.4" x2="289.5" y2="590.4" stroke="#151515" stroke-width="2.0"/>
<line x1="281.3" y1="603.6" x2="297.0" y2="603.6" stroke="#151515" stroke-width="2.0"/>
<line x1="248.7" y1="626.7" x2="273.4" y2="626.7" stroke="#151515" stroke-width="2.0"/>
<line x1="273.4" y1="622.6" x2="300.0" y2="622.6" stroke="#151515" stroke-width="2.0"/>
<line x1="273.4" y1="630.8" x2="303.2" y2="630.8" stroke="#151515" stroke-width="2.0"/>
<line x1="260.0" y1="655.4" x2="296.0" y2="655.4" stroke="#151515" stroke-width="2.0"/>
<line x1="260.0" y1="675.0" x2="292.9" y2="675.0" stroke="#151515" stroke-width="2.0"/>
<line x1="260.0" y1="688.3" x2="306.2" y2="688.3" stroke="#151515" stroke-width="2.0"/>
<line x1="296.0" y1="648.3" x2="308.3" y2="648.3" stroke="#151515" stroke-width="2.0"/>
<line x1="296.0" y1="662.6" x2="337.0" y2="662.6" stroke="#151515" stroke-width="2.0"/>
<line x1="308.3" y1="642.0" x2="340.1" y2="642.0" stroke="#151515" stroke-width="2.0"/>
<line x1="308.3" y1="655.4" x2="339.0" y2="655.4" stroke="#151515" stroke-width="2.0"/>
<line x1="340.1" y1="639.0" x2="363.7" y2="639.0" stroke="#151515" stroke-width="2.0"/>
<line x1="292.9" y1="671.9" x2="344.2" y2="671.9" stroke="#151515" stroke-width="2.0"/>
<line x1="306.2" y1="684.2" x2="360.7" y2="684.2" stroke="#151515" stroke-width="2.0"/>
<line x1="248.7" y1="676.0" x2="260.0" y2="676.0" stroke="#151515" stroke-width="2.0"/>
<line x1="271.3" y1="701.6" x2="297.0" y2="701.6" stroke="#151515" stroke-width="2.0"/>
<line x1="271.3" y1="712.0" x2="299.0" y2="712.0" stroke="#151515" stroke-width="2.0"/>
<line x1="297.0" y1="696.5" x2="313.4" y2="696.5" stroke="#151515" stroke-width="2.0"/>
<line x1="259.0" y1="706.8" x2="271.3" y2="706.8" stroke="#151515" stroke-width="2.0"/>
<line x1="239.0" y1="699.6" x2="248.7" y2="699.6" stroke="#151515" stroke-width="2.0"/>
<line x1="248.7" y1="723.2" x2="259.0" y2="723.2" stroke="#151515" stroke-width="2.0"/>
<line x1="259.0" y1="724.2" x2="268.3" y2="724.2" stroke="#151515" stroke-width="2.0"/>
<line x1="268.3" y1="721.2" x2="307.3" y2="721.2" stroke="#151515" stroke-width="2.0"/>
<line x1="307.3" y1="718.0" x2="337.0" y2="718.0" stroke="#151515" stroke-width="2.0"/>
<line x1="239.0" y1="772.5" x2="247.7" y2="772.5" stroke="#151515" stroke-width="2.0"/>
<line x1="247.7" y1="764.3" x2="258.0" y2="764.3" stroke="#151515" stroke-width="2.0"/>
<line x1="258.0" y1="756.0" x2="279.5" y2="756.0" stroke="#151515" stroke-width="2.0"/>
<line x1="258.0" y1="770.4" x2="266.2" y2="770.4" stroke="#151515" stroke-width="2.0"/>
<line x1="279.5" y1="748.9" x2="290.8" y2="748.9" stroke="#151515" stroke-width="2.0"/>
<line x1="279.5" y1="763.3" x2="290.8" y2="763.3" stroke="#151515" stroke-width="2.0"/>
<line x1="290.8" y1="743.7" x2="304.2" y2="743.7" stroke="#151515" stroke-width="2.0"/>
<line x1="304.2" y1="740.7" x2="325.7" y2="740.7" stroke="#151515" stroke-width="2.0"/>
<line x1="325.7" y1="737.6" x2="353.5" y2="737.6" stroke="#151515" stroke-width="2.0"/>
<line x1="290.8" y1="761.2" x2="308.3" y2="761.2" stroke="#151515" stroke-width="2.0"/>
<line x1="229.2" y1="803.3" x2="238.5" y2="803.3" stroke="#151515" stroke-width="2.0"/>
<line x1="307.3" y1="819.4" x2="334.0" y2="819.4" stroke="#151515" stroke-width="2.0"/>
<line x1="307.3" y1="835.8" x2="326.8" y2="835.8" stroke="#151515" stroke-width="2.0"/>
<line x1="334.0" y1="816.3" x2="346.3" y2="816.3" stroke="#151515" stroke-width="2.0"/>
<line x1="346.3" y1="813.6" x2="366.8" y2="813.6" stroke="#151515" stroke-width="2.0"/>
<line x1="326.8" y1="833.7" x2="339.0" y2="833.7" stroke="#151515" stroke-width="2.0"/>
<line x1="339.0" y1="830.7" x2="367.8" y2="830.7" stroke="#151515" stroke-width="2.0"/>
<line x1="297.0" y1="830.7" x2="307.3" y2="830.7" stroke="#151515" stroke-width="2.0"/>
<line x1="297.0" y1="849.1" x2="308.3" y2="849.1" stroke="#151515" stroke-width="2.0"/>
<line x1="284.7" y1="840.0" x2="297.0" y2="840.0" stroke="#151515" stroke-width="2.0"/>
<line x1="284.7" y1="871.7" x2="315.5" y2="871.7" stroke="#151515" stroke-width="2.0"/>
<line x1="315.5" y1="865.6" x2="343.2" y2="865.6" stroke="#151515" stroke-width="2.0"/>
<line x1="315.5" y1="878.9" x2="330.9" y2="878.9" stroke="#151515" stroke-width="2.0"/>
<line x1="343.2" y1="859.4" x2="354.5" y2="859.4" stroke="#151515" stroke-width="2.0"/>
<line x1="343.2" y1="869.7" x2="369.9" y2="869.7" stroke="#151515" stroke-width="2.0"/>
<line x1="354.5" y1="856.3" x2="369.9" y2="856.3" stroke="#151515" stroke-width="2.0"/>
<line x1="354.5" y1="863.5" x2="365.8" y2="863.5" stroke="#151515" stroke-width="2.0"/>
<line x1="330.9" y1="875.8" x2="365.8" y2="875.8" stroke="#151515" stroke-width="2.0"/>
<line x1="280.6" y1="855.3" x2="284.7" y2="855.3" stroke="#151515" stroke-width="2.0"/>
<line x1="280.6" y1="897.4" x2="290.8" y2="897.4" stroke="#151515" stroke-width="2.0"/>
<line x1="268.3" y1="889.2" x2="280.6" y2="889.2" stroke="#151515" stroke-width="2.0"/>
<line x1="290.8" y1="888.2" x2="310.3" y2="888.2" stroke="#151515" stroke-width="2.0"/>
<line x1="310.3" y1="885.5" x2="339.0" y2="885.5" stroke="#151515" stroke-width="2.0"/>
<line x1="290.8" y1="895.6" x2="345.3" y2="895.6" stroke="#151515" stroke-width="2.0"/>
<line x1="70.5" y1="1562.0" x2="80.8" y2="1562.0" stroke="#151515" stroke-width="2.0"/>
<line x1="80.8" y1="1555.0" x2="90.0" y2="1555.0" stroke="#151515" stroke-width="2.0"/>
<line x1="90.0" y1="1545.7" x2="100.3" y2="1545.7" stroke="#151515" stroke-width="2.0"/>
<line x1="100.3" y1="1529.2" x2="109.5" y2="1529.2" stroke="#151515" stroke-width="2.0"/>
<line x1="100.3" y1="1555.0" x2="120.8" y2="1555.0" stroke="#151515" stroke-width="2.0"/>
<line x1="109.5" y1="1523.0" x2="129.0" y2="1523.0" stroke="#151515" stroke-width="2.0"/>
<line x1="90.0" y1="1547.0" x2="110.6" y2="1547.0" stroke="#151515" stroke-width="2.0"/>
<line x1="110.6" y1="1544.6" x2="133.2" y2="1544.6" stroke="#151515" stroke-width="2.0"/>
<line x1="374.0" y1="1131.7" x2="398.7" y2="1131.7" stroke="#151515" stroke-width="2.0"/>
<line x1="106.8" y1="1723.4" x2="173.0" y2="1723.4" stroke="#151515" stroke-width="2.0"/>
<line x1="248.6" y1="904.4" x2="257.2" y2="904.4" stroke="#151515" stroke-width="2.0"/>
<line x1="248.6" y1="925.0" x2="265.0" y2="925.0" stroke="#151515" stroke-width="2.0"/>
<line x1="265.0" y1="918.8" x2="276.5" y2="918.8" stroke="#151515" stroke-width="2.0"/>
<line x1="265.0" y1="931.1" x2="280.2" y2="931.1" stroke="#151515" stroke-width="2.0"/>
<line x1="276.5" y1="921.7" x2="280.2" y2="921.7" stroke="#151515" stroke-width="2.0"/>
<line x1="280.2" y1="928.7" x2="298.2" y2="928.7" stroke="#151515" stroke-width="2.0"/>
<line x1="248.6" y1="938.1" x2="279.4" y2="938.1" stroke="#151515" stroke-width="2.0"/>
<line x1="249.0" y1="626.3" x2="273.3" y2="626.3" stroke="#151515" stroke-width="2.0"/>
<line x1="228.8" y1="697.7" x2="239.0" y2="697.7" stroke="#151515" stroke-width="2.0"/>
<line x1="239.0" y1="772.8" x2="247.7" y2="772.8" stroke="#151515" stroke-width="2.0"/>
<line x1="258.7" y1="579.6" x2="268.7" y2="579.6" stroke="#151515" stroke-width="2.0"/>
<line x1="268.7" y1="552.0" x2="281.5" y2="552.0" stroke="#151515" stroke-width="2.0"/>
<line x1="281.5" y1="541.0" x2="301.3" y2="541.0" stroke="#151515" stroke-width="2.0"/>
<line x1="228.8" y1="788.4" x2="265.0" y2="788.4" stroke="#151515" stroke-width="2.0"/>
<line x1="228.8" y1="804.0" x2="239.0" y2="804.0" stroke="#151515" stroke-width="2.0"/>
<line x1="229.0" y1="1055.0" x2="240.0" y2="1055.0" stroke="#31983f" stroke-width="2.0"/>
<line x1="200.2" y1="1042.0" x2="219.0" y2="1042.0" stroke="#151515" stroke-width="2.0"/>
<line x1="219.0" y1="1189.6" x2="229.0" y2="1189.6" stroke="#151515" stroke-width="2.0"/>
<line x1="179.2" y1="1126.4" x2="200.2" y2="1126.4" stroke="#151515" stroke-width="2.0"/>
<line x1="238.7" y1="927.7" x2="248.7" y2="927.7" stroke="#151515" stroke-width="2.0"/>
<line x1="238.7" y1="1021.0" x2="249.6" y2="1021.0" stroke="#151515" stroke-width="2.0"/>
<line x1="257.0" y1="898.5" x2="268.0" y2="898.5" stroke="#151515" stroke-width="2.0"/>
<line x1="268.0" y1="890.0" x2="280.0" y2="890.0" stroke="#151515" stroke-width="2.0"/>
<line x1="249.6" y1="1007.4" x2="288.0" y2="1007.4" stroke="#151515" stroke-width="2.0"/>
<line x1="249.6" y1="1040.4" x2="258.8" y2="1040.4" stroke="#151515" stroke-width="2.0"/>
<line x1="258.8" y1="1036.7" x2="272.5" y2="1036.7" stroke="#151515" stroke-width="2.0"/>
<line x1="229.0" y1="1154.0" x2="238.7" y2="1154.0" stroke="#151515" stroke-width="2.0"/>
<line x1="238.7" y1="1133.7" x2="248.7" y2="1133.7" stroke="#151515" stroke-width="2.0"/>
<line x1="238.7" y1="1175.0" x2="248.7" y2="1175.0" stroke="#151515" stroke-width="2.0"/>
<line x1="248.7" y1="1115.4" x2="258.8" y2="1115.4" stroke="#151515" stroke-width="2.0"/>
<line x1="248.7" y1="1145.6" x2="288.0" y2="1145.6" stroke="#151515" stroke-width="2.0"/>
<line x1="258.8" y1="1103.5" x2="269.8" y2="1103.5" stroke="#151515" stroke-width="2.0"/>
<line x1="248.7" y1="1169.4" x2="270.7" y2="1169.4" stroke="#151515" stroke-width="2.0"/>
<line x1="238.7" y1="1189.6" x2="266.1" y2="1189.6" stroke="#151515" stroke-width="2.0"/>
<line x1="179.3" y1="1277.6" x2="187.8" y2="1277.6" stroke="#151515" stroke-width="2.0"/>
<line x1="150.3" y1="1265.6" x2="160.0" y2="1265.6" stroke="#151515" stroke-width="2.0"/>
<line x1="120.4" y1="1321.0" x2="150.3" y2="1321.0" stroke="#151515" stroke-width="2.0"/>
<line x1="120.4" y1="1400.5" x2="165.7" y2="1400.5" stroke="#151515" stroke-width="2.0"/>
<line x1="70.5" y1="1387.6" x2="79.0" y2="1387.6" stroke="#151515" stroke-width="2.0"/>
<line x1="60.3" y1="1433.8" x2="70.5" y2="1433.8" stroke="#151515" stroke-width="2.0"/>
<line x1="150.3" y1="1347.8" x2="169.4" y2="1347.8" stroke="#151515" stroke-width="2.0"/>
<line x1="169.4" y1="1332.0" x2="190.6" y2="1332.0" stroke="#151515" stroke-width="2.0"/>
<line x1="160.0" y1="1379.3" x2="190.6" y2="1379.3" stroke="#151515" stroke-width="2.0"/>
<line x1="150.3" y1="1389.4" x2="472.0" y2="1389.4" stroke="#22604c" stroke-width="2.0"/>
<line x1="179.3" y1="1244.4" x2="190.6" y2="1244.4" stroke="#151515" stroke-width="2.0"/>
<line x1="190.6" y1="1238.0" x2="200.8" y2="1238.0" stroke="#151515" stroke-width="2.0"/>
<line x1="187.8" y1="1269.3" x2="204.5" y2="1269.3" stroke="#151515" stroke-width="2.0"/>
<line x1="159.2" y1="1302.6" x2="186.0" y2="1302.6" stroke="#151515" stroke-width="2.0"/>
<line x1="151.0" y1="1435.6" x2="161.0" y2="1435.6" stroke="#151515" stroke-width="2.0"/>
<line x1="161.0" y1="1429.0" x2="195.2" y2="1429.0" stroke="#151515" stroke-width="2.0"/>
<line x1="140.7" y1="1445.0" x2="151.0" y2="1445.0" stroke="#151515" stroke-width="2.0"/>
<line x1="94.5" y1="1456.0" x2="140.7" y2="1456.0" stroke="#151515" stroke-width="2.0"/>
<line x1="277.7" y1="223.0" x2="285.4" y2="223.0" stroke="#151515" stroke-width="2.0"/>
<line x1="307.7" y1="223.0" x2="324.7" y2="223.0" stroke="#151515" stroke-width="2.0"/>
<line x1="277.7" y1="274.7" x2="297.7" y2="274.7" stroke="#151515" stroke-width="2.0"/>
<line x1="297.7" y1="256.2" x2="307.0" y2="256.2" stroke="#151515" stroke-width="2.0"/>
<line x1="297.7" y1="284.7" x2="314.7" y2="284.7" stroke="#151515" stroke-width="2.0"/>
<line x1="307.0" y1="247.0" x2="317.0" y2="247.0" stroke="#151515" stroke-width="2.0"/>
<line x1="307.0" y1="265.4" x2="324.7" y2="265.4" stroke="#151515" stroke-width="2.0"/>
<line x1="317.0" y1="241.6" x2="326.2" y2="241.6" stroke="#151515" stroke-width="2.0"/>
<line x1="317.0" y1="253.0" x2="337.8" y2="253.0" stroke="#151515" stroke-width="2.0"/>
<line x1="326.2" y1="236.0" x2="352.4" y2="236.0" stroke="#151515" stroke-width="2.0"/>
<line x1="326.2" y1="246.2" x2="337.8" y2="246.2" stroke="#151515" stroke-width="2.0"/>
<line x1="314.7" y1="281.6" x2="340.8" y2="281.6" stroke="#151515" stroke-width="2.0"/>
<line x1="326.7" y1="9.2" x2="345.2" y2="9.2" stroke="#151515" stroke-width="2.0"/>
<line x1="307.2" y1="12.3" x2="326.7" y2="12.3" stroke="#151515" stroke-width="2.0"/>
<line x1="307.2" y1="25.7" x2="340.0" y2="25.7" stroke="#151515" stroke-width="2.0"/>
<line x1="307.2" y1="39.0" x2="335.0" y2="39.0" stroke="#151515" stroke-width="2.0"/>
<line x1="297.8" y1="29.4" x2="307.2" y2="29.4" stroke="#151515" stroke-width="2.0"/>
<line x1="340.0" y1="22.6" x2="357.5" y2="22.6" stroke="#151515" stroke-width="2.0"/>
<line x1="342.0" y1="33.0" x2="357.5" y2="33.0" stroke="#151515" stroke-width="2.0"/>
<line x1="335.0" y1="35.9" x2="342.0" y2="35.9" stroke="#151515" stroke-width="2.0"/>
<line x1="333.9" y1="49.6" x2="362.6" y2="49.6" stroke="#151515" stroke-width="2.0"/>
<line x1="323.6" y1="52.4" x2="333.9" y2="52.4" stroke="#151515" stroke-width="2.0"/>
<line x1="317.5" y1="56.5" x2="323.6" y2="56.5" stroke="#151515" stroke-width="2.0"/>
<line x1="297.8" y1="60.6" x2="317.5" y2="60.6" stroke="#151515" stroke-width="2.0"/>
<line x1="297.8" y1="69.8" x2="332.9" y2="69.8" stroke="#151515" stroke-width="2.0"/>
<line x1="297.8" y1="78.4" x2="326.7" y2="78.4" stroke="#151515" stroke-width="2.0"/>
<line x1="326.7" y1="83.2" x2="376.0" y2="83.2" stroke="#151515" stroke-width="2.0"/>
<line x1="348.3" y1="88.7" x2="362.6" y2="88.7" stroke="#151515" stroke-width="2.0"/>
<line x1="329.8" y1="91.4" x2="348.3" y2="91.4" stroke="#151515" stroke-width="2.0"/>
<line x1="311.3" y1="94.9" x2="329.8" y2="94.9" stroke="#151515" stroke-width="2.0"/>
<line x1="322.6" y1="105.0" x2="359.5" y2="105.0" stroke="#151515" stroke-width="2.0"/>
<line x1="306.7" y1="115.0" x2="334.4" y2="115.0" stroke="#151515" stroke-width="2.0"/>
<line x1="306.7" y1="122.3" x2="392.0" y2="122.3" stroke="#151515" stroke-width="2.0"/>
<line x1="306.7" y1="130.5" x2="325.2" y2="130.5" stroke="#151515" stroke-width="2.0"/>
<line x1="297.5" y1="128.5" x2="306.7" y2="128.5" stroke="#151515" stroke-width="2.0"/>
<line x1="288.2" y1="116.2" x2="297.5" y2="116.2" stroke="#151515" stroke-width="2.0"/>
<line x1="313.9" y1="140.8" x2="336.5" y2="140.8" stroke="#151515" stroke-width="2.0"/>
<line x1="288.2" y1="145.0" x2="313.9" y2="145.0" stroke="#151515" stroke-width="2.0"/>
<line x1="376.5" y1="197.4" x2="397.0" y2="197.4" stroke="#151515" stroke-width="2.0"/>
<line x1="363.2" y1="207.0" x2="379.6" y2="207.0" stroke="#151515" stroke-width="2.0"/>
<line x1="321.0" y1="203.4" x2="363.2" y2="203.4" stroke="#151515" stroke-width="2.0"/>
<line x1="321.0" y1="214.0" x2="342.6" y2="214.0" stroke="#151515" stroke-width="2.0"/>
<line x1="307.7" y1="208.6" x2="321.0" y2="208.6" stroke="#151515" stroke-width="2.0"/>
<line x1="308.3" y1="176.9" x2="314.5" y2="176.9" stroke="#151515" stroke-width="2.0"/>
<line x1="308.3" y1="184.0" x2="318.2" y2="184.0" stroke="#151515" stroke-width="2.0"/>
<line x1="297.9" y1="180.6" x2="308.3" y2="180.6" stroke="#151515" stroke-width="2.0"/>
<line x1="297.9" y1="165.4" x2="311.4" y2="165.4" stroke="#151515" stroke-width="2.0"/>
<line x1="311.4" y1="161.7" x2="336.7" y2="161.7" stroke="#151515" stroke-width="2.0"/>
<line x1="336.7" y1="157.4" x2="344.0" y2="157.4" stroke="#151515" stroke-width="2.0"/>
<line x1="288.0" y1="180.8" x2="297.9" y2="180.8" stroke="#151515" stroke-width="2.0"/>
<line x1="425.5" y1="294.7" x2="450.0" y2="294.7" stroke="#151515" stroke-width="2.0"/>
<line x1="425.5" y1="304.5" x2="490.0" y2="304.5" stroke="#151515" stroke-width="2.0"/>
<line x1="406.0" y1="299.4" x2="425.5" y2="299.4" stroke="#151515" stroke-width="2.0"/>
<line x1="406.0" y1="314.8" x2="437.8" y2="314.8" stroke="#151515" stroke-width="2.0"/>
<line x1="437.8" y1="312.0" x2="497.4" y2="312.0" stroke="#151515" stroke-width="2.0"/>
<line x1="384.4" y1="307.6" x2="406.0" y2="307.6" stroke="#151515" stroke-width="2.0"/>
<line x1="384.4" y1="324.0" x2="413.2" y2="324.0" stroke="#151515" stroke-width="2.0"/>
<line x1="367.0" y1="315.8" x2="384.4" y2="315.8" stroke="#151515" stroke-width="2.0"/>
<line x1="367.0" y1="332.3" x2="400.8" y2="332.3" stroke="#151515" stroke-width="2.0"/>
<line x1="350.5" y1="323.4" x2="367.0" y2="323.4" stroke="#151515" stroke-width="2.0"/>
<line x1="330.0" y1="339.4" x2="350.5" y2="339.4" stroke="#151515" stroke-width="2.0"/>
<line x1="361.8" y1="339.0" x2="411.0" y2="339.0" stroke="#151515" stroke-width="2.0"/>
<line x1="325.2" y1="351.5" x2="345.0" y2="351.5" stroke="#151515" stroke-width="2.0"/>
<line x1="317.8" y1="345.7" x2="325.2" y2="345.7" stroke="#151515" stroke-width="2.0"/>
<line x1="317.8" y1="368.0" x2="345.0" y2="368.0" stroke="#151515" stroke-width="2.0"/>
<line x1="297.2" y1="356.4" x2="317.8" y2="356.4" stroke="#151515" stroke-width="2.0"/>
<line x1="297.2" y1="390.0" x2="308.7" y2="390.0" stroke="#151515" stroke-width="2.0"/>
<line x1="287.4" y1="373.7" x2="297.2" y2="373.7" stroke="#151515" stroke-width="2.0"/>
<line x1="345.0" y1="361.4" x2="376.0" y2="361.4" stroke="#151515" stroke-width="2.0"/>
<line x1="345.0" y1="370.4" x2="375.3" y2="370.4" stroke="#151515" stroke-width="2.0"/>
<line x1="345.0" y1="377.8" x2="365.4" y2="377.8" stroke="#151515" stroke-width="2.0"/>
<line x1="376.0" y1="357.7" x2="395.0" y2="357.7" stroke="#151515" stroke-width="2.0"/>
<line x1="376.0" y1="364.6" x2="384.3" y2="364.6" stroke="#151515" stroke-width="2.0"/>
<line x1="308.7" y1="384.4" x2="329.3" y2="384.4" stroke="#151515" stroke-width="2.0"/>
<line x1="308.7" y1="394.2" x2="340.0" y2="394.2" stroke="#151515" stroke-width="2.0"/>
<line x1="371.2" y1="402.0" x2="384.3" y2="402.0" stroke="#151515" stroke-width="2.0"/>
<line x1="350.6" y1="405.0" x2="371.2" y2="405.0" stroke="#151515" stroke-width="2.0"/>
<line x1="339.0" y1="412.3" x2="350.6" y2="412.3" stroke="#151515" stroke-width="2.0"/>
<line x1="327.6" y1="416.4" x2="339.0" y2="416.4" stroke="#151515" stroke-width="2.0"/>
<line x1="71.2" y1="1473.5" x2="81.0" y2="1473.5" stroke="#151515" stroke-width="2.0"/>
<line x1="81.0" y1="1463.8" x2="94.2" y2="1463.8" stroke="#151515" stroke-width="2.0"/>
<line x1="196.0" y1="1423.0" x2="207.5" y2="1423.0" stroke="#151515" stroke-width="2.0"/>
<line x1="186.0" y1="1448.5" x2="212.5" y2="1448.5" stroke="#151515" stroke-width="2.0"/>
<line x1="196.0" y1="1434.5" x2="252.0" y2="1434.5" stroke="#151515" stroke-width="2.0"/>
<line x1="207.5" y1="1418.9" x2="270.0" y2="1418.9" stroke="#151515" stroke-width="2.0"/>
<line x1="81.0" y1="1479.5" x2="104.0" y2="1479.5" stroke="#151515" stroke-width="2.0"/>
<line x1="129.0" y1="1514.8" x2="138.6" y2="1514.8" stroke="#151515" stroke-width="2.0"/>
<line x1="138.6" y1="1509.3" x2="148.4" y2="1509.3" stroke="#151515" stroke-width="2.0"/>
<line x1="148.4" y1="1504.2" x2="160.0" y2="1504.2" stroke="#151515" stroke-width="2.0"/>
<line x1="160.0" y1="1498.7" x2="169.8" y2="1498.7" stroke="#151515" stroke-width="2.0"/>
<line x1="71.2" y1="1614.2" x2="81.0" y2="1614.2" stroke="#151515" stroke-width="2.0"/>
<line x1="71.2" y1="1592.5" x2="91.0" y2="1592.5" stroke="#151515" stroke-width="2.0"/>
<line x1="91.0" y1="1582.2" x2="102.4" y2="1582.2" stroke="#151515" stroke-width="2.0"/>
<line x1="91.0" y1="1596.7" x2="100.8" y2="1596.7" stroke="#151515" stroke-width="2.0"/>
<line x1="81.0" y1="1621.3" x2="94.2" y2="1621.3" stroke="#151515" stroke-width="2.0"/>
<line x1="81.0" y1="1615.8" x2="125.4" y2="1615.8" stroke="#151515" stroke-width="2.0"/>
<line x1="94.2" y1="1625.7" x2="105.7" y2="1625.7" stroke="#151515" stroke-width="2.0"/>
<line x1="71.2" y1="1683.2" x2="87.6" y2="1683.2" stroke="#151515" stroke-width="2.0"/>
<line x1="161.5" y1="1650.2" x2="191.0" y2="1650.2" stroke="#151515" stroke-width="2.0"/>
<line x1="161.5" y1="1672.4" x2="171.4" y2="1672.4" stroke="#151515" stroke-width="2.0"/>
<line x1="171.4" y1="1667.5" x2="178.0" y2="1667.5" stroke="#151515" stroke-width="2.0"/>
<line x1="87.6" y1="1701.2" x2="99.0" y2="1701.2" stroke="#151515" stroke-width="2.0"/>
<line x1="87.6" y1="1690.5" x2="109.0" y2="1690.5" stroke="#151515" stroke-width="2.0"/>
<line x1="109.0" y1="1694.6" x2="118.8" y2="1694.6" stroke="#151515" stroke-width="2.0"/>
<line x1="118.8" y1="1697.9" x2="130.3" y2="1697.9" stroke="#151515" stroke-width="2.0"/>
<line x1="87.6" y1="1681.5" x2="148.4" y2="1681.5" stroke="#151515" stroke-width="2.0"/>
<line x1="98.6" y1="1712.2" x2="114.0" y2="1712.2" stroke="#151515" stroke-width="2.0"/>
<line x1="49.3" y1="1728.0" x2="60.8" y2="1728.0" stroke="#151515" stroke-width="2.0"/>
<line x1="60.8" y1="1720.5" x2="69.0" y2="1720.5" stroke="#151515" stroke-width="2.0"/>
<line x1="259.6" y1="1029.0" x2="272.7" y2="1029.0" stroke="#151515" stroke-width="2.0"/>
<line x1="289.0" y1="994.8" x2="302.3" y2="994.8" stroke="#151515" stroke-width="2.0"/>
<line x1="302.3" y1="980.7" x2="313.8" y2="980.7" stroke="#151515" stroke-width="2.0"/>
<line x1="313.8" y1="965.9" x2="333.5" y2="965.9" stroke="#151515" stroke-width="2.0"/>
<line x1="333.5" y1="955.0" x2="373.0" y2="955.0" stroke="#151515" stroke-width="2.0"/>
<line x1="373.0" y1="960.0" x2="386.0" y2="960.0" stroke="#151515" stroke-width="2.0"/>
<line x1="333.5" y1="975.5" x2="353.0" y2="975.5" stroke="#151515" stroke-width="2.0"/>
<line x1="313.8" y1="996.0" x2="325.3" y2="996.0" stroke="#151515" stroke-width="2.0"/>
<line x1="302.3" y1="1009.0" x2="317.0" y2="1009.0" stroke="#151515" stroke-width="2.0"/>
<line x1="289.0" y1="1016.5" x2="331.8" y2="1016.5" stroke="#151515" stroke-width="2.0"/>
<line x1="259.6" y1="1036.5" x2="318.7" y2="1036.5" stroke="#151515" stroke-width="2.0"/>
<line x1="248.7" y1="1133.5" x2="298.5" y2="1133.5" stroke="#151515" stroke-width="2.0"/>
<line x1="288.0" y1="1151.5" x2="323.0" y2="1151.5" stroke="#151515" stroke-width="2.0"/>
<line x1="201.6" y1="1233.0" x2="208.2" y2="1233.0" stroke="#151515" stroke-width="2.0"/>
<line x1="208.2" y1="1225.5" x2="239.4" y2="1225.5" stroke="#151515" stroke-width="2.0"/>
<line x1="239.4" y1="1221.5" x2="251.0" y2="1221.5" stroke="#151515" stroke-width="2.0"/>
<line x1="251.0" y1="1217.5" x2="277.0" y2="1217.5" stroke="#151515" stroke-width="2.0"/>
<line x1="208.2" y1="1240.5" x2="244.3" y2="1240.5" stroke="#151515" stroke-width="2.0"/>
<line x1="204.5" y1="1274.5" x2="248.6" y2="1274.5" stroke="#151515" stroke-width="2.0"/>
<line x1="191.0" y1="1324.5" x2="201.0" y2="1324.5" stroke="#151515" stroke-width="2.0"/>
<line x1="201.0" y1="1320.5" x2="210.8" y2="1320.5" stroke="#151515" stroke-width="2.0"/>
<line x1="211.9" y1="1315.0" x2="242.0" y2="1315.0" stroke="#151515" stroke-width="2.0"/>
<line x1="242.0" y1="1311.5" x2="270.0" y2="1311.5" stroke="#151515" stroke-width="2.0"/>
<line x1="169.7" y1="1356.5" x2="212.4" y2="1356.5" stroke="#151515" stroke-width="2.0"/>
<line x1="212.4" y1="1350.5" x2="247.0" y2="1350.5" stroke="#151515" stroke-width="2.0"/>
<line x1="150.3" y1="1382.0" x2="160.0" y2="1382.0" stroke="#151515" stroke-width="2.0"/>
<line x1="189.4" y1="1375.0" x2="201.0" y2="1375.0" stroke="#151515" stroke-width="2.0"/>
<line x1="165.7" y1="1397.0" x2="210.8" y2="1397.0" stroke="#151515" stroke-width="2.0"/>
<line x1="201.0" y1="1371.3" x2="237.5" y2="1371.3" stroke="#151515" stroke-width="2.0"/>
<line x1="307.3" y1="108.0" x2="322.0" y2="108.0" stroke="#151515" stroke-width="2.0"/>
<line x1="248.7" y1="713.4" x2="259.0" y2="713.4" stroke="#151515" stroke-width="2.0"/>
<line x1="265.0" y1="788.7" x2="287.8" y2="788.7" stroke="#151515" stroke-width="2.0"/>
<line x1="239.0" y1="806.6" x2="250.8" y2="806.6" stroke="#151515" stroke-width="2.0"/>
<line x1="60.8" y1="1746.8" x2="113.7" y2="1746.8" stroke="#151515" stroke-width="2.0"/>
<line x1="353.0" y1="971.1" x2="361.4" y2="971.1" stroke="#151515" stroke-width="2.0"/>
<line x1="228.8" y1="988.1" x2="238.7" y2="988.1" stroke="#151515" stroke-width="2.0"/>
<line x1="270.7" y1="1166.7" x2="280.0" y2="1166.7" stroke="#151515" stroke-width="2.0"/>
<line x1="229.0" y1="1193.3" x2="238.7" y2="1193.3" stroke="#151515" stroke-width="2.0"/>
<line x1="196.0" y1="1422.3" x2="207.3" y2="1422.3" stroke="#151515" stroke-width="2.0"/>
<line x1="352.4" y1="240.1" x2="386.3" y2="240.1" stroke="#151515" stroke-width="2.0"/>
<line x1="297.7" y1="272.8" x2="339.3" y2="272.8" stroke="#151515" stroke-width="2.0"/>
<line x1="307.3" y1="107.5" x2="322.6" y2="107.5" stroke="#151515" stroke-width="2.0"/>
<line x1="363.2" y1="199.9" x2="376.5" y2="199.9" stroke="#151515" stroke-width="2.0"/>
<line x1="350.6" y1="341.1" x2="361.8" y2="341.1" stroke="#151515" stroke-width="2.0"/>
<line x1="297.7" y1="276.1" x2="338.0" y2="276.1" stroke="#151515" stroke-width="2.0"/>
<line x1="305.0" y1="584.0" x2="350.0" y2="584.0" stroke="#151515" stroke-width="2.0"/>
<line x1="289.8" y1="593.9" x2="340.0" y2="593.9" stroke="#151515" stroke-width="2.0"/>
<line x1="297.0" y1="600.4" x2="312.0" y2="600.4" stroke="#151515" stroke-width="2.0"/>
<line x1="308.3" y1="646.3" x2="339.0" y2="646.3" stroke="#151515" stroke-width="2.0"/>
<line x1="297.0" y1="843.0" x2="307.3" y2="843.0" stroke="#151515" stroke-width="2.0"/>
<line x1="373.0" y1="954.6" x2="388.0" y2="954.6" stroke="#151515" stroke-width="2.0"/>
<line x1="325.3" y1="997.4" x2="343.0" y2="997.4" stroke="#151515" stroke-width="2.0"/>
<line x1="288.0" y1="1141.6" x2="308.0" y2="1141.6" stroke="#151515" stroke-width="2.0"/>
<line x1="248.7" y1="1177.7" x2="269.0" y2="1177.7" stroke="#151515" stroke-width="2.0"/>
<line x1="204.5" y1="1265.7" x2="255.0" y2="1265.7" stroke="#151515" stroke-width="2.0"/>
<line x1="242.0" y1="1318.3" x2="275.0" y2="1318.3" stroke="#151515" stroke-width="2.0"/>
<line x1="191.0" y1="1337.9" x2="239.0" y2="1337.9" stroke="#151515" stroke-width="2.0"/>
<line x1="196.0" y1="1430.6" x2="250.0" y2="1430.6" stroke="#151515" stroke-width="2.0"/>
<line x1="102.4" y1="1576.3" x2="178.0" y2="1576.3" stroke="#151515" stroke-width="2.0"/>
<line x1="102.4" y1="1587.8" x2="125.0" y2="1587.8" stroke="#151515" stroke-width="2.0"/>
<line x1="100.8" y1="1594.4" x2="129.0" y2="1594.4" stroke="#151515" stroke-width="2.0"/>
<line x1="60.4" y1="1633.8" x2="79.0" y2="1633.8" stroke="#151515" stroke-width="2.0"/>
<line x1="201.0" y1="1646.9" x2="211.0" y2="1646.9" stroke="#151515" stroke-width="2.0"/>
<line x1="191.0" y1="1656.8" x2="198.0" y2="1656.8" stroke="#151515" stroke-width="2.0"/>
<line x1="109.0" y1="1686.4" x2="168.0" y2="1686.4" stroke="#151515" stroke-width="2.0"/>
<line x1="69.0" y1="1754.7" x2="99.0" y2="1754.7" stroke="#151515" stroke-width="2.0"/>
<line x1="49.3" y1="1761.5" x2="53.0" y2="1761.5" stroke="#151515" stroke-width="2.0"/>
<line x1="345.0" y1="5.3" x2="482.0" y2="5.3" stroke="#151515" stroke-width="2.0"/>
<line x1="482.0" y1="5.3" x2="530.0" y2="5.3" stroke="#31983f" stroke-width="2.0"/>
<line x1="345.0" y1="11.8" x2="600.0" y2="11.8" stroke="#31983f" stroke-width="2.0"/>
<line x1="327.0" y1="15.1" x2="598.0" y2="15.1" stroke="#31983f" stroke-width="2.0"/>
<line x1="358.0" y1="18.4" x2="427.0" y2="18.4" stroke="#151515" stroke-width="2.0"/>
<line x1="427.0" y1="18.4" x2="653.0" y2="18.4" stroke="#31983f" stroke-width="2.0"/>
<line x1="427.0" y1="21.9" x2="629.0" y2="21.9" stroke="#31983f" stroke-width="2.0"/>
<line x1="357.5" y1="24.6" x2="576.0" y2="24.6" stroke="#31983f" stroke-width="2.0"/>
<line x1="340.0" y1="28.3" x2="624.0" y2="28.3" stroke="#31983f" stroke-width="2.0"/>
<line x1="358.0" y1="31.5" x2="467.0" y2="31.5" stroke="#31983f" stroke-width="2.0"/>
<line x1="358.0" y1="34.8" x2="557.0" y2="34.8" stroke="#31983f" stroke-width="2.0"/>
<line x1="343.0" y1="38.1" x2="458.0" y2="38.1" stroke="#31983f" stroke-width="2.0"/>
<line x1="335.0" y1="41.4" x2="541.0" y2="41.4" stroke="#151515" stroke-width="2.0"/>
<line x1="541.0" y1="41.4" x2="622.0" y2="41.4" stroke="#31983f" stroke-width="2.0"/>
<line x1="541.0" y1="44.7" x2="548.0" y2="44.7" stroke="#31983f" stroke-width="2.0"/>
<line x1="363.0" y1="48.0" x2="534.0" y2="48.0" stroke="#31983f" stroke-width="2.0"/>
<line x1="363.0" y1="51.2" x2="535.0" y2="51.2" stroke="#31983f" stroke-width="2.0"/>
<line x1="335.0" y1="54.5" x2="382.0" y2="54.5" stroke="#3f6b5b" stroke-width="2.0"/>
<line x1="319.0" y1="57.8" x2="590.0" y2="57.8" stroke="#151515" stroke-width="2.0"/>
<line x1="590.0" y1="57.8" x2="619.0" y2="57.8" stroke="#31983f" stroke-width="2.0"/>
<line x1="590.0" y1="61.1" x2="648.0" y2="61.1" stroke="#31983f" stroke-width="2.0"/>
<line x1="319.0" y1="64.4" x2="453.0" y2="64.4" stroke="#31983f" stroke-width="2.0"/>
<line x1="334.0" y1="67.7" x2="551.0" y2="67.7" stroke="#31983f" stroke-width="2.0"/>
<line x1="334.0" y1="71.0" x2="467.0" y2="71.0" stroke="#31983f" stroke-width="2.0"/>
<line x1="327.0" y1="74.2" x2="445.0" y2="74.2" stroke="#151515" stroke-width="2.0"/>
<line x1="445.0" y1="74.2" x2="495.0" y2="74.2" stroke="#3f6b5b" stroke-width="2.0"/>
<line x1="327.0" y1="78.0" x2="440.0" y2="78.0" stroke="#31983f" stroke-width="2.0"/>
<line x1="376.0" y1="81.1" x2="470.0" y2="81.1" stroke="#31983f" stroke-width="2.0"/>
<line x1="375.0" y1="84.1" x2="566.0" y2="84.1" stroke="#31983f" stroke-width="2.0"/>
<line x1="363.0" y1="87.4" x2="485.0" y2="87.4" stroke="#c2332b" stroke-width="2.0"/>
<line x1="362.6" y1="90.5" x2="549.0" y2="90.5" stroke="#31983f" stroke-width="2.0"/>
<line x1="348.0" y1="94.0" x2="516.0" y2="94.0" stroke="#3f6b5b" stroke-width="2.0"/>
<line x1="330.0" y1="97.2" x2="500.0" y2="97.2" stroke="#31983f" stroke-width="2.0"/>
<line x1="360.0" y1="100.5" x2="480.0" y2="100.5" stroke="#31983f" stroke-width="2.0"/>
<line x1="360.0" y1="103.8" x2="549.0" y2="103.8" stroke="#3f6b5b" stroke-width="2.0"/>
<line x1="360.0" y1="107.1" x2="708.0" y2="107.1" stroke="#31983f" stroke-width="2.0"/>
<line x1="322.0" y1="110.4" x2="444.0" y2="110.4" stroke="#31983f" stroke-width="2.0"/>
<line x1="334.4" y1="113.7" x2="597.0" y2="113.7" stroke="#31983f" stroke-width="2.0"/>
<line x1="334.4" y1="116.7" x2="570.0" y2="116.7" stroke="#31983f" stroke-width="2.0"/>
<line x1="392.0" y1="120.2" x2="624.0" y2="120.2" stroke="#31983f" stroke-width="2.0"/>
<line x1="392.0" y1="123.5" x2="480.0" y2="123.5" stroke="#31983f" stroke-width="2.0"/>
<line x1="306.7" y1="126.8" x2="408.0" y2="126.8" stroke="#31983f" stroke-width="2.0"/>
<line x1="325.2" y1="130.1" x2="400.0" y2="130.1" stroke="#31983f" stroke-width="2.0"/>
<line x1="325.2" y1="133.4" x2="508.0" y2="133.4" stroke="#95bfd6" stroke-width="2.0"/>
<line x1="336.5" y1="136.7" x2="469.0" y2="136.7" stroke="#151515" stroke-width="2.0"/>
<line x1="469.0" y1="136.7" x2="521.0" y2="136.7" stroke="#31983f" stroke-width="2.0"/>
<line x1="469.0" y1="140.0" x2="500.0" y2="140.0" stroke="#31983f" stroke-width="2.0"/>
<line x1="336.5" y1="143.2" x2="536.0" y2="143.2" stroke="#31983f" stroke-width="2.0"/>
<line x1="313.9" y1="146.5" x2="360.0" y2="146.5" stroke="#151515" stroke-width="2.0"/>
<line x1="360.0" y1="146.5" x2="545.0" y2="146.5" stroke="#31983f" stroke-width="2.0"/>
<line x1="360.0" y1="149.8" x2="517.0" y2="149.8" stroke="#31983f" stroke-width="2.0"/>
<line x1="343.7" y1="153.1" x2="368.3" y2="153.1" stroke="#151515" stroke-width="2.0"/>
<line x1="368.3" y1="153.1" x2="490.0" y2="153.1" stroke="#31983f" stroke-width="2.0"/>
<line x1="368.3" y1="156.4" x2="712.0" y2="156.4" stroke="#31983f" stroke-width="2.0"/>
<line x1="343.7" y1="159.7" x2="427.8" y2="159.7" stroke="#151515" stroke-width="2.0"/>
<line x1="427.8" y1="159.7" x2="524.0" y2="159.7" stroke="#31983f" stroke-width="2.0"/>
<line x1="427.8" y1="163.0" x2="662.0" y2="163.0" stroke="#31983f" stroke-width="2.0"/>
<line x1="336.7" y1="166.0" x2="530.0" y2="166.0" stroke="#31983f" stroke-width="2.0"/>
<line x1="311.4" y1="168.9" x2="452.0" y2="168.9" stroke="#31983f" stroke-width="2.0"/>
<line x1="314.5" y1="173.3" x2="381.6" y2="173.3" stroke="#151515" stroke-width="2.0"/>
<line x1="381.6" y1="173.3" x2="540.0" y2="173.3" stroke="#3f6b5b" stroke-width="2.0"/>
<line x1="381.6" y1="176.3" x2="644.0" y2="176.3" stroke="#31983f" stroke-width="2.0"/>
<line x1="314.5" y1="179.2" x2="565.0" y2="179.2" stroke="#31983f" stroke-width="2.0"/>
<line x1="318.2" y1="182.6" x2="465.0" y2="182.6" stroke="#3f6b5b" stroke-width="2.0"/>
<line x1="318.2" y1="185.9" x2="559.0" y2="185.9" stroke="#31983f" stroke-width="2.0"/>
<line x1="297.5" y1="189.2" x2="430.0" y2="189.2" stroke="#e99e98" stroke-width="2.0"/>
<line x1="288.2" y1="192.5" x2="426.0" y2="192.5" stroke="#95bfd6" stroke-width="2.0"/>
<line x1="376.5" y1="195.7" x2="397.0" y2="195.7" stroke="#151515" stroke-width="2.0"/>
<line x1="397.0" y1="195.7" x2="539.0" y2="195.7" stroke="#3f6b5b" stroke-width="2.0"/>
<line x1="397.0" y1="199.0" x2="617.0" y2="199.0" stroke="#31983f" stroke-width="2.0"/>
<line x1="376.5" y1="202.3" x2="507.0" y2="202.3" stroke="#31983f" stroke-width="2.0"/>
<line x1="379.6" y1="205.6" x2="452.0" y2="205.6" stroke="#3f6b5b" stroke-width="2.0"/>
<line x1="379.6" y1="208.9" x2="713.0" y2="208.9" stroke="#31983f" stroke-width="2.0"/>
<line x1="342.6" y1="212.1" x2="498.0" y2="212.1" stroke="#31983f" stroke-width="2.0"/>
<line x1="342.6" y1="215.4" x2="417.0" y2="215.4" stroke="#31983f" stroke-width="2.0"/>
<line x1="325.0" y1="218.7" x2="432.0" y2="218.7" stroke="#31983f" stroke-width="2.0"/>
<line x1="325.0" y1="222.0" x2="430.0" y2="222.0" stroke="#95bfd6" stroke-width="2.0"/>
<line x1="325.0" y1="225.3" x2="598.0" y2="225.3" stroke="#31983f" stroke-width="2.0"/>
<line x1="285.4" y1="228.6" x2="432.0" y2="228.6" stroke="#3f6b5b" stroke-width="2.0"/>
<line x1="353.0" y1="231.9" x2="432.0" y2="231.9" stroke="#151515" stroke-width="2.0"/>
<line x1="432.0" y1="231.9" x2="704.0" y2="231.9" stroke="#31983f" stroke-width="2.0"/>
<line x1="432.0" y1="235.2" x2="668.0" y2="235.2" stroke="#31983f" stroke-width="2.0"/>
<line x1="386.0" y1="238.4" x2="652.0" y2="238.4" stroke="#31983f" stroke-width="2.0"/>
<line x1="386.0" y1="241.7" x2="694.0" y2="241.7" stroke="#31983f" stroke-width="2.0"/>
<line x1="338.0" y1="245.0" x2="520.0" y2="245.0" stroke="#31983f" stroke-width="2.0"/>
<line x1="338.0" y1="248.3" x2="621.0" y2="248.3" stroke="#31983f" stroke-width="2.0"/>
<line x1="338.0" y1="251.6" x2="532.0" y2="251.6" stroke="#31983f" stroke-width="2.0"/>
<line x1="338.0" y1="254.9" x2="560.0" y2="254.9" stroke="#31983f" stroke-width="2.0"/>
<line x1="325.0" y1="258.2" x2="632.0" y2="258.2" stroke="#151515" stroke-width="2.0"/>
<line x1="632.0" y1="258.2" x2="638.0" y2="258.2" stroke="#31983f" stroke-width="2.0"/>
<line x1="632.0" y1="261.4" x2="659.0" y2="261.4" stroke="#31983f" stroke-width="2.0"/>
<line x1="324.0" y1="264.7" x2="537.0" y2="264.7" stroke="#31983f" stroke-width="2.0"/>
<line x1="324.0" y1="268.0" x2="381.0" y2="268.0" stroke="#95bfd6" stroke-width="2.0"/>
<line x1="338.0" y1="271.2" x2="414.0" y2="271.2" stroke="#31983f" stroke-width="2.0"/>
<line x1="338.0" y1="274.5" x2="434.0" y2="274.5" stroke="#31983f" stroke-width="2.0"/>
<line x1="340.0" y1="277.8" x2="398.0" y2="277.8" stroke="#151515" stroke-width="2.0"/>
<line x1="398.0" y1="277.8" x2="549.0" y2="277.8" stroke="#31983f" stroke-width="2.0"/>
<line x1="398.0" y1="281.1" x2="626.0" y2="281.1" stroke="#31983f" stroke-width="2.0"/>
<line x1="340.0" y1="284.4" x2="465.0" y2="284.4" stroke="#95bfd6" stroke-width="2.0"/>
<line x1="314.0" y1="287.7" x2="574.0" y2="287.7" stroke="#31983f" stroke-width="2.0"/>
<line x1="450.0" y1="291.0" x2="591.0" y2="291.0" stroke="#151515" stroke-width="2.0"/>
<line x1="591.0" y1="291.0" x2="729.0" y2="291.0" stroke="#31983f" stroke-width="2.0"/>
<line x1="591.0" y1="294.3" x2="604.0" y2="294.3" stroke="#31983f" stroke-width="2.0"/>
<line x1="450.0" y1="297.6" x2="804.0" y2="297.6" stroke="#31983f" stroke-width="2.0"/>
<line x1="490.0" y1="300.9" x2="666.0" y2="300.9" stroke="#151515" stroke-width="2.0"/>
<line x1="666.0" y1="300.9" x2="761.0" y2="300.9" stroke="#31983f" stroke-width="2.0"/>
<line x1="666.0" y1="304.1" x2="742.0" y2="304.1" stroke="#31983f" stroke-width="2.0"/>
<line x1="490.0" y1="307.4" x2="710.0" y2="307.4" stroke="#31983f" stroke-width="2.0"/>
<line x1="497.4" y1="310.7" x2="658.0" y2="310.7" stroke="#31983f" stroke-width="2.0"/>
<line x1="497.4" y1="313.6" x2="812.0" y2="313.6" stroke="#31983f" stroke-width="2.0"/>
<line x1="437.8" y1="317.0" x2="618.0" y2="317.0" stroke="#95bfd6" stroke-width="2.0"/>
<line x1="413.2" y1="320.2" x2="590.0" y2="320.2" stroke="#151515" stroke-width="2.0"/>
<line x1="590.0" y1="320.2" x2="642.0" y2="320.2" stroke="#31983f" stroke-width="2.0"/>
<line x1="590.0" y1="323.5" x2="715.0" y2="323.5" stroke="#31983f" stroke-width="2.0"/>
<line x1="413.2" y1="326.8" x2="623.0" y2="326.8" stroke="#31983f" stroke-width="2.0"/>
<line x1="400.8" y1="330.0" x2="614.0" y2="330.0" stroke="#31983f" stroke-width="2.0"/>
<line x1="400.8" y1="333.4" x2="756.0" y2="333.4" stroke="#31983f" stroke-width="2.0"/>
<line x1="411.0" y1="336.6" x2="503.0" y2="336.6" stroke="#31983f" stroke-width="2.0"/>
<line x1="411.0" y1="340.0" x2="664.0" y2="340.0" stroke="#31983f" stroke-width="2.0"/>
<line x1="362.0" y1="343.2" x2="462.0" y2="343.2" stroke="#3f6b5b" stroke-width="2.0"/>
<line x1="350.0" y1="346.5" x2="688.0" y2="346.5" stroke="#31983f" stroke-width="2.0"/>
<line x1="345.0" y1="349.8" x2="452.0" y2="349.8" stroke="#3f6b5b" stroke-width="2.0"/>
<line x1="345.0" y1="353.0" x2="491.0" y2="353.0" stroke="#31983f" stroke-width="2.0"/>
<line x1="395.0" y1="356.4" x2="531.0" y2="356.4" stroke="#31983f" stroke-width="2.0"/>
<line x1="395.0" y1="359.6" x2="667.0" y2="359.6" stroke="#31983f" stroke-width="2.0"/>
<line x1="384.3" y1="363.0" x2="570.0" y2="363.0" stroke="#31983f" stroke-width="2.0"/>
<line x1="384.3" y1="366.2" x2="683.0" y2="366.2" stroke="#31983f" stroke-width="2.0"/>
<line x1="375.3" y1="369.3" x2="550.0" y2="369.3" stroke="#31983f" stroke-width="2.0"/>
<line x1="375.3" y1="372.6" x2="582.0" y2="372.6" stroke="#c2332b" stroke-width="2.0"/>
<line x1="365.4" y1="375.8" x2="425.0" y2="375.8" stroke="#31983f" stroke-width="2.0"/>
<line x1="365.4" y1="379.3" x2="548.0" y2="379.3" stroke="#3f6b5b" stroke-width="2.0"/>
<line x1="329.3" y1="382.6" x2="485.0" y2="382.6" stroke="#31983f" stroke-width="2.0"/>
<line x1="329.3" y1="386.0" x2="577.0" y2="386.0" stroke="#31983f" stroke-width="2.0"/>
<line x1="308.7" y1="389.0" x2="361.0" y2="389.0" stroke="#3f6b5b" stroke-width="2.0"/>
<line x1="340.0" y1="392.5" x2="486.0" y2="392.5" stroke="#31983f" stroke-width="2.0"/>
<line x1="340.0" y1="395.8" x2="437.0" y2="395.8" stroke="#31983f" stroke-width="2.0"/>
<line x1="384.3" y1="399.5" x2="650.0" y2="399.5" stroke="#151515" stroke-width="2.0"/>
<line x1="650.0" y1="399.5" x2="671.0" y2="399.5" stroke="#31983f" stroke-width="2.0"/>
<line x1="650.0" y1="402.3" x2="655.0" y2="402.3" stroke="#31983f" stroke-width="2.0"/>
<line x1="384.3" y1="404.2" x2="643.0" y2="404.2" stroke="#31983f" stroke-width="2.0"/>
<line x1="371.2" y1="407.4" x2="540.0" y2="407.4" stroke="#31983f" stroke-width="2.0"/>
<line x1="350.6" y1="410.6" x2="475.0" y2="410.6" stroke="#31983f" stroke-width="2.0"/>
<line x1="350.6" y1="413.6" x2="545.0" y2="413.6" stroke="#31983f" stroke-width="2.0"/>
<line x1="339.0" y1="416.9" x2="615.0" y2="416.9" stroke="#31983f" stroke-width="2.0"/>
<line x1="339.0" y1="420.2" x2="380.0" y2="420.2" stroke="#151515" stroke-width="2.0"/>
<line x1="380.0" y1="420.2" x2="659.0" y2="420.2" stroke="#31983f" stroke-width="2.0"/>
<line x1="327.5" y1="424.0" x2="570.0" y2="424.0" stroke="#31983f" stroke-width="2.0"/>
<line x1="317.6" y1="427.3" x2="480.0" y2="427.3" stroke="#31983f" stroke-width="2.0"/>
<line x1="316.0" y1="430.6" x2="521.0" y2="430.6" stroke="#31983f" stroke-width="2.0"/>
<line x1="330.0" y1="434.7" x2="529.0" y2="434.7" stroke="#95bfd6" stroke-width="2.0"/>
<line x1="339.0" y1="438.5" x2="552.0" y2="438.5" stroke="#31983f" stroke-width="2.0"/>
<line x1="339.0" y1="441.8" x2="470.0" y2="441.8" stroke="#31983f" stroke-width="2.0"/>
<line x1="326.7" y1="445.0" x2="700.0" y2="445.0" stroke="#31983f" stroke-width="2.0"/>
<line x1="358.7" y1="448.3" x2="514.0" y2="448.3" stroke="#31983f" stroke-width="2.0"/>
<line x1="358.7" y1="451.6" x2="593.0" y2="451.6" stroke="#31983f" stroke-width="2.0"/>
<line x1="325.0" y1="455.0" x2="818.0" y2="455.0" stroke="#31983f" stroke-width="2.0"/>
<line x1="325.0" y1="458.2" x2="470.0" y2="458.2" stroke="#31983f" stroke-width="2.0"/>
<line x1="387.5" y1="461.5" x2="426.0" y2="461.5" stroke="#151515" stroke-width="2.0"/>
<line x1="426.0" y1="461.5" x2="638.0" y2="461.5" stroke="#3f6b5b" stroke-width="2.0"/>
<line x1="387.5" y1="464.8" x2="598.0" y2="464.8" stroke="#31983f" stroke-width="2.0"/>
<line x1="362.8" y1="468.0" x2="394.0" y2="468.0" stroke="#31983f" stroke-width="2.0"/>
<line x1="348.8" y1="471.3" x2="470.0" y2="471.3" stroke="#31983f" stroke-width="2.0"/>
<line x1="357.0" y1="474.6" x2="446.0" y2="474.6" stroke="#151515" stroke-width="2.0"/>
<line x1="446.0" y1="474.6" x2="560.0" y2="474.6" stroke="#31983f" stroke-width="2.0"/>
<line x1="357.0" y1="477.9" x2="495.0" y2="477.9" stroke="#31983f" stroke-width="2.0"/>
<line x1="357.0" y1="480.5" x2="540.0" y2="480.5" stroke="#31983f" stroke-width="2.0"/>
<line x1="328.3" y1="483.8" x2="394.0" y2="483.8" stroke="#31983f" stroke-width="2.0"/>
<line x1="317.6" y1="487.0" x2="424.4" y2="487.0" stroke="#151515" stroke-width="2.0"/>
<line x1="424.4" y1="487.0" x2="703.0" y2="487.0" stroke="#31983f" stroke-width="2.0"/>
<line x1="424.4" y1="490.3" x2="542.0" y2="490.3" stroke="#31983f" stroke-width="2.0"/>
<line x1="297.1" y1="493.6" x2="387.5" y2="493.6" stroke="#151515" stroke-width="2.0"/>
<line x1="387.5" y1="493.6" x2="418.0" y2="493.6" stroke="#c2332b" stroke-width="2.0"/>
<line x1="387.5" y1="497.0" x2="657.0" y2="497.0" stroke="#31983f" stroke-width="2.0"/>
<line x1="297.1" y1="500.9" x2="510.0" y2="500.9" stroke="#151515" stroke-width="2.0"/>
<line x1="510.0" y1="500.9" x2="542.0" y2="500.9" stroke="#31983f" stroke-width="2.0"/>
<line x1="510.0" y1="503.5" x2="687.0" y2="503.5" stroke="#31983f" stroke-width="2.0"/>
<line x1="428.0" y1="508.7" x2="594.6" y2="508.7" stroke="#151515" stroke-width="2.0"/>
<line x1="594.6" y1="508.7" x2="632.0" y2="508.7" stroke="#31983f" stroke-width="2.0"/>
<line x1="594.6" y1="511.2" x2="646.0" y2="511.2" stroke="#31983f" stroke-width="2.0"/>
<line x1="428.0" y1="514.5" x2="695.0" y2="514.5" stroke="#151515" stroke-width="2.0"/>
<line x1="695.0" y1="514.5" x2="820.0" y2="514.5" stroke="#31983f" stroke-width="2.0"/>
<line x1="377.8" y1="519.4" x2="597.0" y2="519.4" stroke="#31983f" stroke-width="2.0"/>
<line x1="455.0" y1="523.6" x2="553.5" y2="523.6" stroke="#151515" stroke-width="2.0"/>
<line x1="553.5" y1="523.6" x2="595.0" y2="523.6" stroke="#31983f" stroke-width="2.0"/>
<line x1="553.5" y1="526.6" x2="724.0" y2="526.6" stroke="#31983f" stroke-width="2.0"/>
<line x1="455.0" y1="529.8" x2="810.0" y2="529.8" stroke="#31983f" stroke-width="2.0"/>
<line x1="375.7" y1="533.4" x2="551.0" y2="533.4" stroke="#3f6b5b" stroke-width="2.0"/>
<line x1="359.3" y1="536.3" x2="660.0" y2="536.3" stroke="#31983f" stroke-width="2.0"/>
<line x1="359.3" y1="539.4" x2="582.0" y2="539.4" stroke="#31983f" stroke-width="2.0"/>
<line x1="343.7" y1="542.6" x2="627.0" y2="542.6" stroke="#31983f" stroke-width="2.0"/>
<line x1="331.0" y1="546.0" x2="523.0" y2="546.0" stroke="#151515" stroke-width="2.0"/>
<line x1="523.0" y1="546.0" x2="534.0" y2="546.0" stroke="#31983f" stroke-width="2.0"/>
<line x1="523.0" y1="549.5" x2="534.0" y2="549.5" stroke="#31983f" stroke-width="2.0"/>
<line x1="331.0" y1="552.7" x2="435.0" y2="552.7" stroke="#31983f" stroke-width="2.0"/>
<line x1="331.0" y1="556.0" x2="662.0" y2="556.0" stroke="#31983f" stroke-width="2.0"/>
<line x1="330.0" y1="559.3" x2="536.0" y2="559.3" stroke="#31983f" stroke-width="2.0"/>
<line x1="330.0" y1="562.6" x2="613.0" y2="562.6" stroke="#31983f" stroke-width="2.0"/>
<line x1="317.0" y1="565.9" x2="423.0" y2="565.9" stroke="#31983f" stroke-width="2.0"/>
<line x1="312.0" y1="569.0" x2="423.0" y2="569.0" stroke="#31983f" stroke-width="2.0"/>
<line x1="312.0" y1="572.5" x2="386.0" y2="572.5" stroke="#31983f" stroke-width="2.0"/>
<line x1="307.0" y1="575.7" x2="430.0" y2="575.7" stroke="#31983f" stroke-width="2.0"/>
<line x1="307.0" y1="579.0" x2="574.0" y2="579.0" stroke="#31983f" stroke-width="2.0"/>
<line x1="350.0" y1="582.3" x2="461.0" y2="582.3" stroke="#31983f" stroke-width="2.0"/>
<line x1="350.0" y1="585.6" x2="606.0" y2="585.6" stroke="#31983f" stroke-width="2.0"/>
<line x1="305.0" y1="589.0" x2="432.0" y2="589.0" stroke="#31983f" stroke-width="2.0"/>
<line x1="340.0" y1="592.2" x2="511.0" y2="592.2" stroke="#31983f" stroke-width="2.0"/>
<line x1="340.0" y1="595.5" x2="660.0" y2="595.5" stroke="#31983f" stroke-width="2.0"/>
<line x1="312.0" y1="598.7" x2="386.0" y2="598.7" stroke="#31983f" stroke-width="2.0"/>
<line x1="312.0" y1="602.0" x2="379.0" y2="602.0" stroke="#95bfd6" stroke-width="2.0"/>
<line x1="297.0" y1="605.3" x2="460.0" y2="605.3" stroke="#31983f" stroke-width="2.0"/>
<line x1="259.0" y1="608.6" x2="371.0" y2="608.6" stroke="#31983f" stroke-width="2.0"/>
<line x1="259.0" y1="612.0" x2="380.0" y2="612.0" stroke="#95bfd6" stroke-width="2.0"/>
<line x1="259.0" y1="615.2" x2="466.0" y2="615.2" stroke="#31983f" stroke-width="2.0"/>
<line x1="300.0" y1="618.5" x2="386.0" y2="618.5" stroke="#151515" stroke-width="2.0"/>
<line x1="386.0" y1="618.5" x2="507.0" y2="618.5" stroke="#31983f" stroke-width="2.0"/>
<line x1="385.3" y1="621.7" x2="682.0" y2="621.7" stroke="#31983f" stroke-width="2.0"/>
<line x1="300.0" y1="625.3" x2="437.0" y2="625.3" stroke="#31983f" stroke-width="2.0"/>
<line x1="303.2" y1="628.6" x2="343.0" y2="628.6" stroke="#95bfd6" stroke-width="2.0"/>
<line x1="303.2" y1="631.9" x2="551.0" y2="631.9" stroke="#31983f" stroke-width="2.0"/>
<line x1="363.7" y1="635.1" x2="405.8" y2="635.1" stroke="#151515" stroke-width="2.0"/>
<line x1="405.8" y1="635.1" x2="472.0" y2="635.1" stroke="#3f6b5b" stroke-width="2.0"/>
<line x1="363.7" y1="637.8" x2="746.0" y2="637.8" stroke="#31983f" stroke-width="2.0"/>
<line x1="340.1" y1="641.0" x2="565.0" y2="641.0" stroke="#31983f" stroke-width="2.0"/>
<line x1="340.1" y1="644.3" x2="523.0" y2="644.3" stroke="#31983f" stroke-width="2.0"/>
<line x1="339.0" y1="648.3" x2="509.0" y2="648.3" stroke="#151515" stroke-width="2.0"/>
<line x1="509.0" y1="648.3" x2="538.0" y2="648.3" stroke="#31983f" stroke-width="2.0"/>
<line x1="509.0" y1="651.6" x2="605.0" y2="651.6" stroke="#31983f" stroke-width="2.0"/>
<line x1="339.0" y1="654.9" x2="506.0" y2="654.9" stroke="#31983f" stroke-width="2.0"/>
<line x1="339.0" y1="658.0" x2="491.0" y2="658.0" stroke="#31983f" stroke-width="2.0"/>
<line x1="337.0" y1="661.4" x2="611.0" y2="661.4" stroke="#31983f" stroke-width="2.0"/>
<line x1="337.0" y1="664.7" x2="572.0" y2="664.7" stroke="#31983f" stroke-width="2.0"/>
<line x1="344.2" y1="668.0" x2="577.0" y2="668.0" stroke="#31983f" stroke-width="2.0"/>
<line x1="344.2" y1="671.2" x2="491.0" y2="671.2" stroke="#151515" stroke-width="2.0"/>
<line x1="491.0" y1="671.2" x2="498.0" y2="671.2" stroke="#31983f" stroke-width="2.0"/>
<line x1="344.2" y1="674.6" x2="505.0" y2="674.6" stroke="#31983f" stroke-width="2.0"/>
<line x1="292.9" y1="678.0" x2="371.0" y2="678.0" stroke="#3f6b5b" stroke-width="2.0"/>
<line x1="360.7" y1="682.8" x2="548.0" y2="682.8" stroke="#151515" stroke-width="2.0"/>
<line x1="360.7" y1="686.0" x2="450.0" y2="686.0" stroke="#31983f" stroke-width="2.0"/>
<line x1="306.2" y1="691.0" x2="525.0" y2="691.0" stroke="#31983f" stroke-width="2.0"/>
<line x1="313.4" y1="696.0" x2="627.0" y2="696.0" stroke="#151515" stroke-width="2.0"/>
<line x1="313.4" y1="700.8" x2="604.0" y2="700.8" stroke="#31983f" stroke-width="2.0"/>
<line x1="297.0" y1="703.5" x2="483.0" y2="703.5" stroke="#151515" stroke-width="2.0"/>
<line x1="483.0" y1="703.5" x2="643.0" y2="703.5" stroke="#31983f" stroke-width="2.0"/>
<line x1="483.0" y1="706.8" x2="500.0" y2="706.8" stroke="#31983f" stroke-width="2.0"/>
<line x1="299.0" y1="710.0" x2="468.0" y2="710.0" stroke="#31983f" stroke-width="2.0"/>
<line x1="299.0" y1="713.3" x2="579.0" y2="713.3" stroke="#31983f" stroke-width="2.0"/>
<line x1="337.0" y1="716.6" x2="510.0" y2="716.6" stroke="#31983f" stroke-width="2.0"/>
<line x1="337.0" y1="719.8" x2="490.0" y2="719.8" stroke="#31983f" stroke-width="2.0"/>
<line x1="307.3" y1="723.4" x2="470.0" y2="723.4" stroke="#3f6b5b" stroke-width="2.0"/>
<line x1="268.3" y1="726.4" x2="475.0" y2="726.4" stroke="#31983f" stroke-width="2.0"/>
<line x1="259.0" y1="729.8" x2="497.0" y2="729.8" stroke="#31983f" stroke-width="2.0"/>
<line x1="353.5" y1="735.3" x2="434.0" y2="735.3" stroke="#151515" stroke-width="2.0"/>
<line x1="353.5" y1="739.6" x2="637.0" y2="739.6" stroke="#31983f" stroke-width="2.0"/>
<line x1="325.7" y1="742.8" x2="458.0" y2="742.8" stroke="#95bfd6" stroke-width="2.0"/>
<line x1="304.2" y1="746.2" x2="386.3" y2="746.2" stroke="#151515" stroke-width="2.0"/>
<line x1="386.3" y1="746.2" x2="483.0" y2="746.2" stroke="#31983f" stroke-width="2.0"/>
<line x1="386.3" y1="749.5" x2="539.0" y2="749.5" stroke="#31983f" stroke-width="2.0"/>
<line x1="290.8" y1="752.9" x2="526.0" y2="752.9" stroke="#31983f" stroke-width="2.0"/>
<line x1="308.3" y1="756.4" x2="333.0" y2="756.4" stroke="#151515" stroke-width="2.0"/>
<line x1="333.0" y1="756.4" x2="365.0" y2="756.4" stroke="#3f6b5b" stroke-width="2.0"/>
<line x1="333.0" y1="759.3" x2="546.0" y2="759.3" stroke="#31983f" stroke-width="2.0"/>
<line x1="308.3" y1="762.4" x2="644.0" y2="762.4" stroke="#31983f" stroke-width="2.0"/>
<line x1="290.8" y1="765.9" x2="593.0" y2="765.9" stroke="#31983f" stroke-width="2.0"/>
<line x1="266.0" y1="769.0" x2="332.0" y2="769.0" stroke="#3f6b5b" stroke-width="2.0"/>
<line x1="266.0" y1="772.5" x2="486.0" y2="772.5" stroke="#31983f" stroke-width="2.0"/>
<line x1="258.0" y1="775.7" x2="496.0" y2="775.7" stroke="#e99e98" stroke-width="2.0"/>
<line x1="247.0" y1="779.0" x2="403.0" y2="779.0" stroke="#31983f" stroke-width="2.0"/>
<line x1="287.0" y1="783.0" x2="427.0" y2="783.0" stroke="#31983f" stroke-width="2.0"/>
<line x1="287.0" y1="785.2" x2="438.0" y2="785.2" stroke="#3f6b5b" stroke-width="2.0"/>
<line x1="287.0" y1="788.5" x2="392.0" y2="788.5" stroke="#31983f" stroke-width="2.0"/>
<line x1="287.0" y1="791.8" x2="520.0" y2="791.8" stroke="#31983f" stroke-width="2.0"/>
<line x1="287.0" y1="795.0" x2="414.0" y2="795.0" stroke="#31983f" stroke-width="2.0"/>
<line x1="238.5" y1="798.2" x2="287.8" y2="798.2" stroke="#151515" stroke-width="2.0"/>
<line x1="287.8" y1="798.2" x2="429.0" y2="798.2" stroke="#3f6b5b" stroke-width="2.0"/>
<line x1="240.0" y1="801.7" x2="310.0" y2="801.7" stroke="#95bfd6" stroke-width="2.0"/>
<line x1="251.0" y1="805.0" x2="295.0" y2="805.0" stroke="#95bfd6" stroke-width="2.0"/>
<line x1="251.0" y1="808.2" x2="330.0" y2="808.2" stroke="#31983f" stroke-width="2.0"/>
<line x1="346.3" y1="811.8" x2="366.8" y2="811.8" stroke="#151515" stroke-width="2.0"/>
<line x1="366.8" y1="811.8" x2="405.0" y2="811.8" stroke="#3f6b5b" stroke-width="2.0"/>
<line x1="366.8" y1="815.0" x2="605.0" y2="815.0" stroke="#31983f" stroke-width="2.0"/>
<line x1="346.3" y1="818.4" x2="424.0" y2="818.4" stroke="#31983f" stroke-width="2.0"/>
<line x1="334.0" y1="821.7" x2="512.0" y2="821.7" stroke="#31983f" stroke-width="2.0"/>
<line x1="307.3" y1="825.0" x2="403.0" y2="825.0" stroke="#31983f" stroke-width="2.0"/>
<line x1="367.8" y1="828.6" x2="507.0" y2="828.6" stroke="#31983f" stroke-width="2.0"/>
<line x1="367.8" y1="831.8" x2="695.0" y2="831.8" stroke="#31983f" stroke-width="2.0"/>
<line x1="339.0" y1="834.8" x2="503.0" y2="834.8" stroke="#95bfd6" stroke-width="2.0"/>
<line x1="326.8" y1="838.0" x2="527.0" y2="838.0" stroke="#31983f" stroke-width="2.0"/>
<line x1="307.3" y1="841.4" x2="485.0" y2="841.4" stroke="#31983f" stroke-width="2.0"/>
<line x1="308.3" y1="844.7" x2="471.0" y2="844.7" stroke="#151515" stroke-width="2.0"/>
<line x1="471.0" y1="844.7" x2="502.0" y2="844.7" stroke="#31983f" stroke-width="2.0"/>
<line x1="471.0" y1="848.0" x2="481.0" y2="848.0" stroke="#31983f" stroke-width="2.0"/>
<line x1="308.3" y1="851.5" x2="318.0" y2="851.5" stroke="#31983f" stroke-width="2.0"/>
<line x1="369.9" y1="854.6" x2="443.0" y2="854.6" stroke="#31983f" stroke-width="2.0"/>
<line x1="369.9" y1="857.8" x2="559.0" y2="857.8" stroke="#31983f" stroke-width="2.0"/>
<line x1="365.8" y1="861.2" x2="471.0" y2="861.2" stroke="#31983f" stroke-width="2.0"/>
<line x1="365.8" y1="864.4" x2="639.0" y2="864.4" stroke="#31983f" stroke-width="2.0"/>
<line x1="369.9" y1="867.7" x2="461.0" y2="867.7" stroke="#31983f" stroke-width="2.0"/>
<line x1="369.9" y1="871.0" x2="527.0" y2="871.0" stroke="#31983f" stroke-width="2.0"/>
<line x1="365.8" y1="874.4" x2="447.0" y2="874.4" stroke="#31983f" stroke-width="2.0"/>
<line x1="365.8" y1="877.5" x2="646.0" y2="877.5" stroke="#31983f" stroke-width="2.0"/>
<line x1="330.9" y1="880.8" x2="729.0" y2="880.8" stroke="#31983f" stroke-width="2.0"/>
<line x1="339.0" y1="884.0" x2="493.0" y2="884.0" stroke="#95bfd6" stroke-width="2.0"/>
<line x1="339.0" y1="887.3" x2="404.0" y2="887.3" stroke="#3f6b5b" stroke-width="2.0"/>
<line x1="310.3" y1="890.5" x2="561.0" y2="890.5" stroke="#31983f" stroke-width="2.0"/>
<line x1="345.3" y1="894.0" x2="498.0" y2="894.0" stroke="#31983f" stroke-width="2.0"/>
<line x1="345.3" y1="897.3" x2="608.0" y2="897.3" stroke="#31983f" stroke-width="2.0"/>
<line x1="290.8" y1="900.5" x2="412.0" y2="900.5" stroke="#31983f" stroke-width="2.0"/>
<line x1="280.6" y1="903.8" x2="562.0" y2="903.8" stroke="#31983f" stroke-width="2.0"/>
<line x1="268.3" y1="907.2" x2="312.6" y2="907.2" stroke="#3f6b5b" stroke-width="2.0"/>
<line x1="257.2" y1="910.8" x2="525.0" y2="910.8" stroke="#31983f" stroke-width="2.0"/>
<line x1="276.5" y1="914.0" x2="345.0" y2="914.0" stroke="#151515" stroke-width="2.0"/>
<line x1="345.0" y1="914.0" x2="496.0" y2="914.0" stroke="#f7884f" stroke-width="2.0"/>
<line x1="276.5" y1="917.3" x2="508.0" y2="917.3" stroke="#31983f" stroke-width="2.0"/>
<line x1="280.2" y1="920.4" x2="463.0" y2="920.4" stroke="#31983f" stroke-width="2.0"/>
<line x1="280.2" y1="923.6" x2="437.0" y2="923.6" stroke="#31983f" stroke-width="2.0"/>
<line x1="298.2" y1="927.2" x2="502.0" y2="927.2" stroke="#31983f" stroke-width="2.0"/>
<line x1="298.2" y1="930.1" x2="522.0" y2="930.1" stroke="#31983f" stroke-width="2.0"/>
<line x1="280.2" y1="933.5" x2="511.0" y2="933.5" stroke="#31983f" stroke-width="2.0"/>
<line x1="279.0" y1="936.7" x2="394.0" y2="936.7" stroke="#3f6b5b" stroke-width="2.0"/>
<line x1="279.0" y1="939.9" x2="455.0" y2="939.9" stroke="#e99e98" stroke-width="2.0"/>
<line x1="250.0" y1="943.2" x2="398.0" y2="943.2" stroke="#31983f" stroke-width="2.0"/>
<line x1="399.0" y1="946.8" x2="426.0" y2="946.8" stroke="#151515" stroke-width="2.0"/>
<line x1="426.0" y1="946.8" x2="616.0" y2="946.8" stroke="#31983f" stroke-width="2.0"/>
<line x1="397.5" y1="950.1" x2="426.0" y2="950.1" stroke="#151515" stroke-width="2.0"/>
<line x1="426.0" y1="950.1" x2="642.0" y2="950.1" stroke="#31983f" stroke-width="2.0"/>
<line x1="388.0" y1="953.0" x2="609.0" y2="953.0" stroke="#31983f" stroke-width="2.0"/>
<line x1="388.0" y1="956.3" x2="680.0" y2="956.3" stroke="#31983f" stroke-width="2.0"/>
<line x1="388.0" y1="959.6" x2="506.0" y2="959.6" stroke="#31983f" stroke-width="2.0"/>
<line x1="388.0" y1="963.0" x2="581.0" y2="963.0" stroke="#31983f" stroke-width="2.0"/>
<line x1="361.0" y1="966.3" x2="611.0" y2="966.3" stroke="#151515" stroke-width="2.0"/>
<line x1="611.0" y1="966.3" x2="635.0" y2="966.3" stroke="#31983f" stroke-width="2.0"/>
<line x1="611.0" y1="969.5" x2="641.0" y2="969.5" stroke="#31983f" stroke-width="2.0"/>
<line x1="361.4" y1="972.8" x2="411.0" y2="972.8" stroke="#151515" stroke-width="2.0"/>
<line x1="411.0" y1="972.8" x2="629.0" y2="972.8" stroke="#31983f" stroke-width="2.0"/>
<line x1="361.0" y1="976.0" x2="558.0" y2="976.0" stroke="#e99e98" stroke-width="2.0"/>
<line x1="353.0" y1="979.3" x2="741.0" y2="979.3" stroke="#31983f" stroke-width="2.0"/>
<line x1="313.8" y1="982.6" x2="577.0" y2="982.6" stroke="#151515" stroke-width="2.0"/>
<line x1="577.0" y1="982.6" x2="598.0" y2="982.6" stroke="#31983f" stroke-width="2.0"/>
<line x1="577.0" y1="986.0" x2="599.0" y2="986.0" stroke="#31983f" stroke-width="2.0"/>
<line x1="325.0" y1="989.2" x2="575.0" y2="989.2" stroke="#151515" stroke-width="2.0"/>
<line x1="575.0" y1="989.2" x2="612.0" y2="989.2" stroke="#31983f" stroke-width="2.0"/>
<line x1="343.0" y1="992.5" x2="494.0" y2="992.5" stroke="#31983f" stroke-width="2.0"/>
<line x1="343.0" y1="995.8" x2="536.0" y2="995.8" stroke="#31983f" stroke-width="2.0"/>
<line x1="343.0" y1="999.0" x2="669.0" y2="999.0" stroke="#31983f" stroke-width="2.0"/>
<line x1="325.0" y1="1002.3" x2="435.0" y2="1002.3" stroke="#151515" stroke-width="2.0"/>
<line x1="435.0" y1="1002.3" x2="649.0" y2="1002.3" stroke="#f7884f" stroke-width="2.0"/>
<line x1="317.0" y1="1005.6" x2="381.0" y2="1005.6" stroke="#151515" stroke-width="2.0"/>
<line x1="381.0" y1="1005.6" x2="517.0" y2="1005.6" stroke="#3f6b5b" stroke-width="2.0"/>
<line x1="317.0" y1="1009.0" x2="694.0" y2="1009.0" stroke="#31983f" stroke-width="2.0"/>
<line x1="317.0" y1="1012.2" x2="669.0" y2="1012.2" stroke="#31983f" stroke-width="2.0"/>
<line x1="332.0" y1="1015.5" x2="616.0" y2="1015.5" stroke="#31983f" stroke-width="2.0"/>
<line x1="332.0" y1="1018.8" x2="682.0" y2="1018.8" stroke="#31983f" stroke-width="2.0"/>
<line x1="289.0" y1="1022.0" x2="396.0" y2="1022.0" stroke="#3f6b5b" stroke-width="2.0"/>
<line x1="301.0" y1="1025.3" x2="562.0" y2="1025.3" stroke="#31983f" stroke-width="2.0"/>
<line x1="301.0" y1="1028.6" x2="648.0" y2="1028.6" stroke="#31983f" stroke-width="2.0"/>
<line x1="274.0" y1="1032.0" x2="445.0" y2="1032.0" stroke="#3f6b5b" stroke-width="2.0"/>
<line x1="319.0" y1="1035.2" x2="559.0" y2="1035.2" stroke="#31983f" stroke-width="2.0"/>
<line x1="319.0" y1="1038.5" x2="618.0" y2="1038.5" stroke="#31983f" stroke-width="2.0"/>
<line x1="260.0" y1="1041.8" x2="552.0" y2="1041.8" stroke="#31983f" stroke-width="2.0"/>
<line x1="351.0" y1="1046.6" x2="367.5" y2="1046.6" stroke="#151515" stroke-width="2.0"/>
<line x1="367.5" y1="1046.6" x2="382.0" y2="1046.6" stroke="#31983f" stroke-width="2.0"/>
<line x1="238.7" y1="1048.3" x2="351.0" y2="1048.3" stroke="#151515" stroke-width="2.0"/>
<line x1="351.0" y1="1051.2" x2="506.0" y2="1051.2" stroke="#31983f" stroke-width="2.0"/>
<line x1="230.0" y1="1054.9" x2="442.0" y2="1054.9" stroke="#31983f" stroke-width="2.0"/>
<line x1="345.3" y1="1058.2" x2="373.2" y2="1058.2" stroke="#151515" stroke-width="2.0"/>
<line x1="373.2" y1="1058.2" x2="508.0" y2="1058.2" stroke="#31983f" stroke-width="2.0"/>
<line x1="373.2" y1="1061.5" x2="468.0" y2="1061.5" stroke="#3f6b5b" stroke-width="2.0"/>
<line x1="345.3" y1="1064.7" x2="573.0" y2="1064.7" stroke="#31983f" stroke-width="2.0"/>
<line x1="345.3" y1="1068.0" x2="391.0" y2="1068.0" stroke="#3f6b5b" stroke-width="2.0"/>
<line x1="328.8" y1="1071.3" x2="341.0" y2="1071.3" stroke="#151515" stroke-width="2.0"/>
<line x1="341.0" y1="1071.3" x2="470.0" y2="1071.3" stroke="#31983f" stroke-width="2.0"/>
<line x1="341.0" y1="1074.6" x2="592.0" y2="1074.6" stroke="#31983f" stroke-width="2.0"/>
<line x1="348.6" y1="1077.9" x2="386.3" y2="1077.9" stroke="#151515" stroke-width="2.0"/>
<line x1="386.3" y1="1077.9" x2="618.0" y2="1077.9" stroke="#31983f" stroke-width="2.0"/>
<line x1="348.6" y1="1081.2" x2="571.0" y2="1081.2" stroke="#31983f" stroke-width="2.0"/>
<line x1="340.3" y1="1084.5" x2="604.0" y2="1084.5" stroke="#31983f" stroke-width="2.0"/>
<line x1="340.3" y1="1087.7" x2="467.0" y2="1087.7" stroke="#3f6b5b" stroke-width="2.0"/>
<line x1="330.5" y1="1091.0" x2="407.0" y2="1091.0" stroke="#95bfd6" stroke-width="2.0"/>
<line x1="341.2" y1="1094.0" x2="468.0" y2="1094.0" stroke="#95bfd6" stroke-width="2.0"/>
<line x1="324.0" y1="1097.2" x2="533.0" y2="1097.2" stroke="#31983f" stroke-width="2.0"/>
<line x1="324.0" y1="1100.5" x2="516.0" y2="1100.5" stroke="#31983f" stroke-width="2.0"/>
<line x1="327.2" y1="1105.8" x2="366.6" y2="1105.8" stroke="#151515" stroke-width="2.0"/>
<line x1="366.6" y1="1105.8" x2="632.0" y2="1105.8" stroke="#31983f" stroke-width="2.0"/>
<line x1="366.6" y1="1108.6" x2="474.0" y2="1108.6" stroke="#31983f" stroke-width="2.0"/>
<line x1="327.2" y1="1111.6" x2="406.9" y2="1111.6" stroke="#151515" stroke-width="2.0"/>
<line x1="406.9" y1="1111.6" x2="495.0" y2="1111.6" stroke="#3f6b5b" stroke-width="2.0"/>
<line x1="319.0" y1="1114.2" x2="704.0" y2="1114.2" stroke="#31983f" stroke-width="2.0"/>
<line x1="319.0" y1="1117.2" x2="438.0" y2="1117.2" stroke="#31983f" stroke-width="2.0"/>
<line x1="319.0" y1="1120.4" x2="540.0" y2="1120.4" stroke="#31983f" stroke-width="2.0"/>
<line x1="269.7" y1="1123.7" x2="361.0" y2="1123.7" stroke="#3f6b5b" stroke-width="2.0"/>
<line x1="258.2" y1="1127.0" x2="353.0" y2="1127.0" stroke="#31983f" stroke-width="2.0"/>
<line x1="398.7" y1="1130.0" x2="602.0" y2="1130.0" stroke="#31983f" stroke-width="2.0"/>
<line x1="399.0" y1="1133.4" x2="720.0" y2="1133.4" stroke="#31983f" stroke-width="2.0"/>
<line x1="299.0" y1="1136.6" x2="374.0" y2="1136.6" stroke="#151515" stroke-width="2.0"/>
<line x1="374.0" y1="1136.6" x2="486.0" y2="1136.6" stroke="#3f6b5b" stroke-width="2.0"/>
<line x1="308.0" y1="1140.0" x2="488.0" y2="1140.0" stroke="#3f6b5b" stroke-width="2.0"/>
<line x1="308.0" y1="1143.2" x2="419.0" y2="1143.2" stroke="#31983f" stroke-width="2.0"/>
<line x1="289.0" y1="1146.5" x2="577.0" y2="1146.5" stroke="#31983f" stroke-width="2.0"/>
<line x1="323.0" y1="1149.8" x2="343.0" y2="1149.8" stroke="#151515" stroke-width="2.0"/>
<line x1="343.0" y1="1149.8" x2="373.0" y2="1149.8" stroke="#3f6b5b" stroke-width="2.0"/>
<line x1="323.0" y1="1153.0" x2="471.0" y2="1153.0" stroke="#31983f" stroke-width="2.0"/>
<line x1="289.0" y1="1156.4" x2="516.0" y2="1156.4" stroke="#31983f" stroke-width="2.0"/>
<line x1="249.0" y1="1159.6" x2="358.0" y2="1159.6" stroke="#31983f" stroke-width="2.0"/>
<line x1="279.0" y1="1163.0" x2="331.0" y2="1163.0" stroke="#151515" stroke-width="2.0"/>
<line x1="331.0" y1="1163.0" x2="371.0" y2="1163.0" stroke="#31983f" stroke-width="2.0"/>
<line x1="279.0" y1="1166.2" x2="616.0" y2="1166.2" stroke="#31983f" stroke-width="2.0"/>
<line x1="279.0" y1="1169.5" x2="351.0" y2="1169.5" stroke="#31983f" stroke-width="2.0"/>
<line x1="269.0" y1="1172.8" x2="573.0" y2="1172.8" stroke="#31983f" stroke-width="2.0"/>
<line x1="269.0" y1="1176.0" x2="396.0" y2="1176.0" stroke="#95bfd6" stroke-width="2.0"/>
<line x1="269.0" y1="1179.4" x2="351.0" y2="1179.4" stroke="#f7884f" stroke-width="2.0"/>
<line x1="249.0" y1="1182.6" x2="322.0" y2="1182.6" stroke="#31983f" stroke-width="2.0"/>
<line x1="266.0" y1="1186.0" x2="333.0" y2="1186.0" stroke="#151515" stroke-width="2.0"/>
<line x1="333.0" y1="1186.0" x2="389.0" y2="1186.0" stroke="#95bfd6" stroke-width="2.0"/>
<line x1="333.0" y1="1189.2" x2="364.0" y2="1189.2" stroke="#95bfd6" stroke-width="2.0"/>
<line x1="266.0" y1="1192.5" x2="368.0" y2="1192.5" stroke="#31983f" stroke-width="2.0"/>
<line x1="239.0" y1="1195.8" x2="432.0" y2="1195.8" stroke="#31983f" stroke-width="2.0"/>
<line x1="230.0" y1="1199.0" x2="492.0" y2="1199.0" stroke="#31983f" stroke-width="2.0"/>
<line x1="230.0" y1="1202.3" x2="236.0" y2="1202.3" stroke="#151515" stroke-width="2.0"/>
<line x1="236.0" y1="1202.3" x2="354.0" y2="1202.3" stroke="#95bfd6" stroke-width="2.0"/>
<line x1="229.0" y1="1205.6" x2="236.0" y2="1205.6" stroke="#151515" stroke-width="2.0"/>
<line x1="236.0" y1="1205.6" x2="379.0" y2="1205.6" stroke="#95bfd6" stroke-width="2.0"/>
<line x1="200.0" y1="1209.0" x2="361.0" y2="1209.0" stroke="#c2332b" stroke-width="2.0"/>
<line x1="200.0" y1="1212.2" x2="726.0" y2="1212.2" stroke="#31983f" stroke-width="2.0"/>
<line x1="277.0" y1="1215.5" x2="366.0" y2="1215.5" stroke="#c2332b" stroke-width="2.0"/>
<line x1="277.0" y1="1218.8" x2="409.0" y2="1218.8" stroke="#c2332b" stroke-width="2.0"/>
<line x1="251.0" y1="1222.0" x2="295.0" y2="1222.0" stroke="#c2332b" stroke-width="2.0"/>
<line x1="251.0" y1="1225.3" x2="394.0" y2="1225.3" stroke="#c2332b" stroke-width="2.0"/>
<line x1="239.0" y1="1228.6" x2="430.0" y2="1228.6" stroke="#151515" stroke-width="2.0"/>
<line x1="207.0" y1="1232.0" x2="399.0" y2="1232.0" stroke="#31983f" stroke-width="2.0"/>
<line x1="207.0" y1="1235.2" x2="519.0" y2="1235.2" stroke="#31983f" stroke-width="2.0"/>
<line x1="244.0" y1="1238.5" x2="392.0" y2="1238.5" stroke="#c2332b" stroke-width="2.0"/>
<line x1="244.0" y1="1241.8" x2="407.0" y2="1241.8" stroke="#c2332b" stroke-width="2.0"/>
<line x1="200.0" y1="1245.0" x2="266.0" y2="1245.0" stroke="#c2332b" stroke-width="2.0"/>
<line x1="201.6" y1="1248.3" x2="239.0" y2="1248.3" stroke="#151515" stroke-width="2.0"/>
<line x1="239.0" y1="1248.3" x2="377.0" y2="1248.3" stroke="#c2332b" stroke-width="2.0"/>
<line x1="191.0" y1="1251.0" x2="239.0" y2="1251.0" stroke="#151515" stroke-width="2.0"/>
<line x1="239.0" y1="1251.0" x2="367.0" y2="1251.0" stroke="#31983f" stroke-width="2.0"/>
<line x1="191.0" y1="1254.5" x2="393.0" y2="1254.5" stroke="#31983f" stroke-width="2.0"/>
<line x1="204.2" y1="1258.0" x2="221.0" y2="1258.0" stroke="#151515" stroke-width="2.0"/>
<line x1="221.0" y1="1258.0" x2="327.0" y2="1258.0" stroke="#c2332b" stroke-width="2.0"/>
<line x1="206.0" y1="1260.8" x2="490.0" y2="1260.8" stroke="#c2332b" stroke-width="2.0"/>
<line x1="255.0" y1="1264.0" x2="383.0" y2="1264.0" stroke="#c2332b" stroke-width="2.0"/>
<line x1="255.0" y1="1267.3" x2="380.0" y2="1267.3" stroke="#c2332b" stroke-width="2.0"/>
<line x1="249.0" y1="1270.6" x2="406.0" y2="1270.6" stroke="#c2332b" stroke-width="2.0"/>
<line x1="249.0" y1="1274.0" x2="400.0" y2="1274.0" stroke="#22604c" stroke-width="2.0"/>
<line x1="249.0" y1="1277.2" x2="319.0" y2="1277.2" stroke="#c2332b" stroke-width="2.0"/>
<line x1="249.0" y1="1280.5" x2="318.0" y2="1280.5" stroke="#c2332b" stroke-width="2.0"/>
<line x1="206.3" y1="1283.8" x2="209.0" y2="1283.8" stroke="#151515" stroke-width="2.0"/>
<line x1="209.0" y1="1283.8" x2="364.0" y2="1283.8" stroke="#c2332b" stroke-width="2.0"/>
<line x1="204.0" y1="1287.0" x2="337.0" y2="1287.0" stroke="#151515" stroke-width="2.0"/>
<line x1="337.0" y1="1287.0" x2="357.0" y2="1287.0" stroke="#c2332b" stroke-width="2.0"/>
<line x1="337.0" y1="1290.3" x2="349.0" y2="1290.3" stroke="#c2332b" stroke-width="2.0"/>
<line x1="160.0" y1="1293.6" x2="362.0" y2="1293.6" stroke="#95bfd6" stroke-width="2.0"/>
<line x1="160.0" y1="1297.0" x2="410.0" y2="1297.0" stroke="#c2332b" stroke-width="2.0"/>
<line x1="185.0" y1="1300.2" x2="255.0" y2="1300.2" stroke="#c2332b" stroke-width="2.0"/>
<line x1="186.0" y1="1303.5" x2="387.0" y2="1303.5" stroke="#c2332b" stroke-width="2.0"/>
<line x1="270.0" y1="1306.8" x2="293.0" y2="1306.8" stroke="#151515" stroke-width="2.0"/>
<line x1="293.0" y1="1306.8" x2="607.0" y2="1306.8" stroke="#31983f" stroke-width="2.0"/>
<line x1="270.0" y1="1310.0" x2="293.0" y2="1310.0" stroke="#151515" stroke-width="2.0"/>
<line x1="293.0" y1="1310.0" x2="489.0" y2="1310.0" stroke="#c2332b" stroke-width="2.0"/>
<line x1="270.0" y1="1313.3" x2="424.0" y2="1313.3" stroke="#c2332b" stroke-width="2.0"/>
<line x1="275.0" y1="1316.6" x2="398.0" y2="1316.6" stroke="#22604c" stroke-width="2.0"/>
<line x1="275.0" y1="1320.0" x2="580.0" y2="1320.0" stroke="#151515" stroke-width="2.0"/>
<line x1="212.0" y1="1323.8" x2="349.0" y2="1323.8" stroke="#c2332b" stroke-width="2.0"/>
<line x1="212.0" y1="1326.5" x2="405.0" y2="1326.5" stroke="#c2332b" stroke-width="2.0"/>
<line x1="201.0" y1="1329.8" x2="257.0" y2="1329.8" stroke="#31983f" stroke-width="2.0"/>
<line x1="257.0" y1="1333.7" x2="377.0" y2="1333.7" stroke="#31983f" stroke-width="2.0"/>
<line x1="239.0" y1="1336.3" x2="755.0" y2="1336.3" stroke="#31983f" stroke-width="2.0"/>
<line x1="239.0" y1="1339.6" x2="403.0" y2="1339.6" stroke="#31983f" stroke-width="2.0"/>
<line x1="191.0" y1="1343.0" x2="216.0" y2="1343.0" stroke="#151515" stroke-width="2.0"/>
<line x1="216.0" y1="1343.0" x2="272.0" y2="1343.0" stroke="#31983f" stroke-width="2.0"/>
<line x1="247.0" y1="1346.2" x2="337.0" y2="1346.2" stroke="#151515" stroke-width="2.0"/>
<line x1="337.0" y1="1346.2" x2="553.0" y2="1346.2" stroke="#31983f" stroke-width="2.0"/>
<line x1="337.0" y1="1349.5" x2="550.0" y2="1349.5" stroke="#31983f" stroke-width="2.0"/>
<line x1="247.0" y1="1352.8" x2="456.0" y2="1352.8" stroke="#31983f" stroke-width="2.0"/>
<line x1="212.0" y1="1356.0" x2="355.0" y2="1356.0" stroke="#151515" stroke-width="2.0"/>
<line x1="355.0" y1="1356.0" x2="456.0" y2="1356.0" stroke="#31983f" stroke-width="2.0"/>
<line x1="355.8" y1="1359.2" x2="364.4" y2="1359.2" stroke="#31983f" stroke-width="2.0"/>
<line x1="212.0" y1="1362.3" x2="365.0" y2="1362.3" stroke="#31983f" stroke-width="2.0"/>
<line x1="150.3" y1="1365.3" x2="171.0" y2="1365.3" stroke="#151515" stroke-width="2.0"/>
<line x1="171.0" y1="1365.3" x2="559.0" y2="1365.3" stroke="#31983f" stroke-width="2.0"/>
<line x1="237.0" y1="1369.8" x2="357.0" y2="1369.8" stroke="#c2332b" stroke-width="2.0"/>
<line x1="237.5" y1="1372.8" x2="375.0" y2="1372.8" stroke="#c2332b" stroke-width="2.0"/>
<line x1="201.0" y1="1376.4" x2="252.0" y2="1376.4" stroke="#c2332b" stroke-width="2.0"/>
<line x1="201.0" y1="1379.7" x2="445.0" y2="1379.7" stroke="#151515" stroke-width="2.0"/>
<line x1="190.7" y1="1382.6" x2="396.0" y2="1382.6" stroke="#c2332b" stroke-width="2.0"/>
<line x1="160.0" y1="1386.3" x2="285.0" y2="1386.3" stroke="#c2332b" stroke-width="2.0"/>
<line x1="211.0" y1="1394.5" x2="278.0" y2="1394.5" stroke="#151515" stroke-width="2.0"/>
<line x1="278.0" y1="1394.5" x2="410.0" y2="1394.5" stroke="#31983f" stroke-width="2.0"/>
<line x1="278.0" y1="1396.8" x2="465.0" y2="1396.8" stroke="#95bfd6" stroke-width="2.0"/>
<line x1="211.0" y1="1399.4" x2="296.0" y2="1399.4" stroke="#c2332b" stroke-width="2.0"/>
<line x1="165.0" y1="1402.7" x2="298.0" y2="1402.7" stroke="#151515" stroke-width="2.0"/>
<line x1="298.0" y1="1402.7" x2="339.0" y2="1402.7" stroke="#c2332b" stroke-width="2.0"/>
<line x1="298.0" y1="1405.5" x2="320.0" y2="1405.5" stroke="#c2332b" stroke-width="2.0"/>
<line x1="120.4" y1="1408.8" x2="324.0" y2="1408.8" stroke="#31983f" stroke-width="2.0"/>
<line x1="78.8" y1="1412.5" x2="236.0" y2="1412.5" stroke="#c2332b" stroke-width="2.0"/>
<line x1="270.0" y1="1415.8" x2="313.0" y2="1415.8" stroke="#151515" stroke-width="2.0"/>
<line x1="313.0" y1="1415.8" x2="332.0" y2="1415.8" stroke="#c2332b" stroke-width="2.0"/>
<line x1="313.0" y1="1419.0" x2="332.0" y2="1419.0" stroke="#c2332b" stroke-width="2.0"/>
<line x1="270.0" y1="1422.3" x2="343.0" y2="1422.3" stroke="#c2332b" stroke-width="2.0"/>
<line x1="208.0" y1="1425.6" x2="250.0" y2="1425.6" stroke="#151515" stroke-width="2.0"/>
<line x1="250.0" y1="1425.6" x2="361.0" y2="1425.6" stroke="#c2332b" stroke-width="2.0"/>
<line x1="250.0" y1="1429.0" x2="614.0" y2="1429.0" stroke="#31983f" stroke-width="2.0"/>
<line x1="252.0" y1="1432.2" x2="448.0" y2="1432.2" stroke="#151515" stroke-width="2.0"/>
<line x1="252.0" y1="1435.5" x2="272.0" y2="1435.5" stroke="#151515" stroke-width="2.0"/>
<line x1="272.0" y1="1435.5" x2="402.0" y2="1435.5" stroke="#c2332b" stroke-width="2.0"/>
<line x1="252.0" y1="1438.8" x2="458.0" y2="1438.8" stroke="#151515" stroke-width="2.0"/>
<line x1="161.0" y1="1442.0" x2="568.0" y2="1442.0" stroke="#c2332b" stroke-width="2.0"/>
<line x1="239.0" y1="1445.3" x2="394.0" y2="1445.3" stroke="#c2332b" stroke-width="2.0"/>
<line x1="212.0" y1="1448.6" x2="435.0" y2="1448.6" stroke="#c2332b" stroke-width="2.0"/>
<line x1="239.0" y1="1452.0" x2="441.0" y2="1452.0" stroke="#c2332b" stroke-width="2.0"/>
<line x1="184.0" y1="1455.2" x2="290.0" y2="1455.2" stroke="#151515" stroke-width="2.0"/>
<line x1="290.0" y1="1455.2" x2="660.0" y2="1455.2" stroke="#f7884f" stroke-width="2.0"/>
<line x1="184.0" y1="1458.5" x2="445.0" y2="1458.5" stroke="#151515" stroke-width="2.0"/>
<line x1="186.0" y1="1461.8" x2="237.0" y2="1461.8" stroke="#151515" stroke-width="2.0"/>
<line x1="237.0" y1="1461.8" x2="487.0" y2="1461.8" stroke="#f7884f" stroke-width="2.0"/>
<line x1="186.0" y1="1465.0" x2="204.0" y2="1465.0" stroke="#151515" stroke-width="2.0"/>
<line x1="204.0" y1="1465.0" x2="339.0" y2="1465.0" stroke="#c2332b" stroke-width="2.0"/>
<line x1="94.0" y1="1468.3" x2="413.0" y2="1468.3" stroke="#c2332b" stroke-width="2.0"/>
<line x1="94.0" y1="1471.6" x2="303.0" y2="1471.6" stroke="#c2332b" stroke-width="2.0"/>
<line x1="81.0" y1="1475.0" x2="211.0" y2="1475.0" stroke="#151515" stroke-width="2.0"/>
<line x1="211.0" y1="1475.0" x2="222.0" y2="1475.0" stroke="#c2332b" stroke-width="2.0"/>
<line x1="104.0" y1="1478.2" x2="211.0" y2="1478.2" stroke="#c2332b" stroke-width="2.0"/>
<line x1="104.0" y1="1481.5" x2="394.0" y2="1481.5" stroke="#c2332b" stroke-width="2.0"/>
<line x1="81.0" y1="1484.8" x2="217.0" y2="1484.8" stroke="#c2332b" stroke-width="2.0"/>
<line x1="71.0" y1="1488.0" x2="155.0" y2="1488.0" stroke="#c2332b" stroke-width="2.0"/>
<line x1="60.0" y1="1491.3" x2="204.0" y2="1491.3" stroke="#c2332b" stroke-width="2.0"/>
<line x1="170.0" y1="1495.3" x2="178.0" y2="1495.3" stroke="#151515" stroke-width="2.0"/>
<line x1="178.0" y1="1495.3" x2="324.0" y2="1495.3" stroke="#c2332b" stroke-width="2.0"/>
<line x1="169.8" y1="1498.0" x2="178.0" y2="1498.0" stroke="#151515" stroke-width="2.0"/>
<line x1="178.0" y1="1498.0" x2="342.0" y2="1498.0" stroke="#c2332b" stroke-width="2.0"/>
<line x1="170.0" y1="1501.2" x2="270.0" y2="1501.2" stroke="#c2332b" stroke-width="2.0"/>
<line x1="160.0" y1="1504.5" x2="239.0" y2="1504.5" stroke="#c2332b" stroke-width="2.0"/>
<line x1="158.0" y1="1507.8" x2="311.0" y2="1507.8" stroke="#c2332b" stroke-width="2.0"/>
<line x1="160.0" y1="1511.0" x2="173.0" y2="1511.0" stroke="#151515" stroke-width="2.0"/>
<line x1="173.0" y1="1511.0" x2="300.0" y2="1511.0" stroke="#c2332b" stroke-width="2.0"/>
<line x1="150.0" y1="1514.3" x2="520.0" y2="1514.3" stroke="#c2332b" stroke-width="2.0"/>
<line x1="148.0" y1="1517.6" x2="283.0" y2="1517.6" stroke="#c2332b" stroke-width="2.0"/>
<line x1="138.6" y1="1521.0" x2="165.0" y2="1521.0" stroke="#151515" stroke-width="2.0"/>
<line x1="165.0" y1="1521.0" x2="283.0" y2="1521.0" stroke="#c2332b" stroke-width="2.0"/>
<line x1="129.0" y1="1524.2" x2="201.0" y2="1524.2" stroke="#151515" stroke-width="2.0"/>
<line x1="201.0" y1="1524.2" x2="374.0" y2="1524.2" stroke="#151515" stroke-width="2.0"/>
<line x1="129.0" y1="1529.0" x2="202.0" y2="1529.0" stroke="#151515" stroke-width="2.0"/>
<line x1="202.0" y1="1529.0" x2="474.0" y2="1529.0" stroke="#c2332b" stroke-width="2.0"/>
<line x1="129.0" y1="1533.0" x2="479.0" y2="1533.0" stroke="#c2332b" stroke-width="2.0"/>
<line x1="109.5" y1="1537.3" x2="342.0" y2="1537.3" stroke="#c2332b" stroke-width="2.0"/>
<line x1="133.2" y1="1541.4" x2="151.6" y2="1541.4" stroke="#151515" stroke-width="2.0"/>
<line x1="151.6" y1="1541.4" x2="257.0" y2="1541.4" stroke="#c2332b" stroke-width="2.0"/>
<line x1="133.2" y1="1544.4" x2="350.0" y2="1544.4" stroke="#c2332b" stroke-width="2.0"/>
<line x1="110.6" y1="1547.3" x2="369.0" y2="1547.3" stroke="#c2332b" stroke-width="2.0"/>
<line x1="110.6" y1="1550.4" x2="208.0" y2="1550.4" stroke="#c2332b" stroke-width="2.0"/>
<line x1="120.8" y1="1553.7" x2="217.0" y2="1553.7" stroke="#c2332b" stroke-width="2.0"/>
<line x1="120.8" y1="1556.8" x2="380.0" y2="1556.8" stroke="#151515" stroke-width="2.0"/>
<line x1="178.3" y1="1559.6" x2="265.0" y2="1559.6" stroke="#c2332b" stroke-width="2.0"/>
<line x1="90.0" y1="1562.6" x2="178.3" y2="1562.6" stroke="#151515" stroke-width="2.0"/>
<line x1="178.3" y1="1562.6" x2="209.0" y2="1562.6" stroke="#c2332b" stroke-width="2.0"/>
<line x1="90.0" y1="1566.0" x2="237.0" y2="1566.0" stroke="#3f6b5b" stroke-width="2.0"/>
<line x1="80.8" y1="1569.4" x2="227.0" y2="1569.4" stroke="#3f6b5b" stroke-width="2.0"/>
<line x1="178.0" y1="1573.0" x2="188.0" y2="1573.0" stroke="#151515" stroke-width="2.0"/>
<line x1="188.0" y1="1573.0" x2="239.0" y2="1573.0" stroke="#c2332b" stroke-width="2.0"/>
<line x1="178.0" y1="1576.4" x2="309.0" y2="1576.4" stroke="#c2332b" stroke-width="2.0"/>
<line x1="178.0" y1="1579.6" x2="446.0" y2="1579.6" stroke="#c2332b" stroke-width="2.0"/>
<line x1="102.4" y1="1583.0" x2="142.0" y2="1583.0" stroke="#151515" stroke-width="2.0"/>
<line x1="142.0" y1="1583.0" x2="231.0" y2="1583.0" stroke="#c2332b" stroke-width="2.0"/>
<line x1="125.0" y1="1586.2" x2="399.0" y2="1586.2" stroke="#c2332b" stroke-width="2.0"/>
<line x1="125.0" y1="1589.5" x2="283.0" y2="1589.5" stroke="#c2332b" stroke-width="2.0"/>
<line x1="129.0" y1="1592.8" x2="227.0" y2="1592.8" stroke="#c2332b" stroke-width="2.0"/>
<line x1="129.0" y1="1596.0" x2="317.0" y2="1596.0" stroke="#95bfd6" stroke-width="2.0"/>
<line x1="101.0" y1="1599.3" x2="259.0" y2="1599.3" stroke="#c2332b" stroke-width="2.0"/>
<line x1="91.0" y1="1603.6" x2="183.0" y2="1603.6" stroke="#151515" stroke-width="2.0"/>
<line x1="183.0" y1="1603.6" x2="295.0" y2="1603.6" stroke="#3f6b5b" stroke-width="2.0"/>
<line x1="183.0" y1="1606.0" x2="488.0" y2="1606.0" stroke="#151515" stroke-width="2.0"/>
<line x1="79.0" y1="1609.2" x2="277.0" y2="1609.2" stroke="#c2332b" stroke-width="2.0"/>
<line x1="125.4" y1="1612.5" x2="165.0" y2="1612.5" stroke="#151515" stroke-width="2.0"/>
<line x1="165.0" y1="1612.5" x2="330.0" y2="1612.5" stroke="#c2332b" stroke-width="2.0"/>
<line x1="124.0" y1="1615.8" x2="334.0" y2="1615.8" stroke="#c2332b" stroke-width="2.0"/>
<line x1="124.0" y1="1619.0" x2="285.0" y2="1619.0" stroke="#c2332b" stroke-width="2.0"/>
<line x1="106.0" y1="1622.3" x2="270.0" y2="1622.3" stroke="#151515" stroke-width="2.0"/>
<line x1="270.0" y1="1622.3" x2="282.0" y2="1622.3" stroke="#c2332b" stroke-width="2.0"/>
<line x1="270.0" y1="1625.6" x2="282.0" y2="1625.6" stroke="#c2332b" stroke-width="2.0"/>
<line x1="106.0" y1="1629.0" x2="313.0" y2="1629.0" stroke="#c2332b" stroke-width="2.0"/>
<line x1="79.0" y1="1632.2" x2="242.0" y2="1632.2" stroke="#95bfd6" stroke-width="2.0"/>
<line x1="79.0" y1="1635.5" x2="249.0" y2="1635.5" stroke="#c2332b" stroke-width="2.0"/>
<line x1="201.0" y1="1639.8" x2="211.0" y2="1639.8" stroke="#151515" stroke-width="2.0"/>
<line x1="211.0" y1="1639.8" x2="290.0" y2="1639.8" stroke="#e99e98" stroke-width="2.0"/>
<line x1="211.0" y1="1642.0" x2="323.0" y2="1642.0" stroke="#151515" stroke-width="2.0"/>
<line x1="211.0" y1="1645.3" x2="250.0" y2="1645.3" stroke="#e99e98" stroke-width="2.0"/>
<line x1="211.0" y1="1648.6" x2="291.0" y2="1648.6" stroke="#e99e98" stroke-width="2.0"/>
<line x1="201.0" y1="1652.0" x2="265.0" y2="1652.0" stroke="#e99e98" stroke-width="2.0"/>
<line x1="198.0" y1="1655.2" x2="273.0" y2="1655.2" stroke="#e99e98" stroke-width="2.0"/>
<line x1="198.0" y1="1658.5" x2="313.0" y2="1658.5" stroke="#e99e98" stroke-width="2.0"/>
<line x1="161.5" y1="1661.8" x2="242.0" y2="1661.8" stroke="#151515" stroke-width="2.0"/>
<line x1="242.0" y1="1661.8" x2="286.0" y2="1661.8" stroke="#e99e98" stroke-width="2.0"/>
<line x1="178.0" y1="1665.0" x2="206.0" y2="1665.0" stroke="#151515" stroke-width="2.0"/>
<line x1="206.0" y1="1665.0" x2="298.0" y2="1665.0" stroke="#e99e98" stroke-width="2.0"/>
<line x1="178.0" y1="1668.3" x2="250.0" y2="1668.3" stroke="#e99e98" stroke-width="2.0"/>
<line x1="178.0" y1="1671.6" x2="307.0" y2="1671.6" stroke="#e99e98" stroke-width="2.0"/>
<line x1="171.0" y1="1675.0" x2="362.0" y2="1675.0" stroke="#e99e98" stroke-width="2.0"/>
<line x1="148.0" y1="1678.2" x2="198.0" y2="1678.2" stroke="#151515" stroke-width="2.0"/>
<line x1="198.0" y1="1678.2" x2="268.0" y2="1678.2" stroke="#c2332b" stroke-width="2.0"/>
<line x1="198.0" y1="1681.5" x2="307.0" y2="1681.5" stroke="#151515" stroke-width="2.0"/>
<line x1="168.0" y1="1684.8" x2="285.0" y2="1684.8" stroke="#c2332b" stroke-width="2.0"/>
<line x1="168.0" y1="1688.0" x2="410.0" y2="1688.0" stroke="#c2332b" stroke-width="2.0"/>
<line x1="119.0" y1="1690.3" x2="234.0" y2="1690.3" stroke="#3f6b5b" stroke-width="2.0"/>
<line x1="130.3" y1="1694.6" x2="135.0" y2="1694.6" stroke="#151515" stroke-width="2.0"/>
<line x1="135.0" y1="1694.6" x2="244.0" y2="1694.6" stroke="#c2332b" stroke-width="2.0"/>
<line x1="130.0" y1="1698.0" x2="288.0" y2="1698.0" stroke="#c2332b" stroke-width="2.0"/>
<line x1="130.0" y1="1701.2" x2="347.0" y2="1701.2" stroke="#c2332b" stroke-width="2.0"/>
<line x1="152.0" y1="1704.5" x2="359.0" y2="1704.5" stroke="#3f6b5b" stroke-width="2.0"/>
<line x1="152.0" y1="1707.8" x2="329.0" y2="1707.8" stroke="#c2332b" stroke-width="2.0"/>
<line x1="114.0" y1="1711.0" x2="214.0" y2="1711.0" stroke="#c2332b" stroke-width="2.0"/>
<line x1="114.0" y1="1714.3" x2="280.0" y2="1714.3" stroke="#c2332b" stroke-width="2.0"/>
<line x1="332.0" y1="1717.0" x2="373.0" y2="1717.0" stroke="#151515" stroke-width="2.0"/>
<line x1="373.0" y1="1717.0" x2="595.0" y2="1717.0" stroke="#151515" stroke-width="2.0"/>
<line x1="172.5" y1="1719.0" x2="332.0" y2="1719.0" stroke="#151515" stroke-width="2.0"/>
<line x1="373.0" y1="1720.4" x2="619.0" y2="1720.4" stroke="#c2332b" stroke-width="2.0"/>
<line x1="332.0" y1="1723.7" x2="467.0" y2="1723.7" stroke="#c2332b" stroke-width="2.0"/>
<line x1="173.0" y1="1727.0" x2="349.0" y2="1727.0" stroke="#c2332b" stroke-width="2.0"/>
<line x1="107.0" y1="1730.3" x2="306.0" y2="1730.3" stroke="#c2332b" stroke-width="2.0"/>
<line x1="90.0" y1="1733.5" x2="256.0" y2="1733.5" stroke="#c2332b" stroke-width="2.0"/>
<line x1="90.0" y1="1737.0" x2="179.0" y2="1737.0" stroke="#151515" stroke-width="2.0"/>
<line x1="179.0" y1="1737.0" x2="699.0" y2="1737.0" stroke="#31983f" stroke-width="2.0"/>
<line x1="90.0" y1="1740.2" x2="253.0" y2="1740.2" stroke="#c2332b" stroke-width="2.0"/>
<line x1="113.7" y1="1743.4" x2="292.0" y2="1743.4" stroke="#c2332b" stroke-width="2.0"/>
<line x1="113.0" y1="1746.7" x2="368.0" y2="1746.7" stroke="#151515" stroke-width="2.0"/>
<line x1="113.0" y1="1749.8" x2="207.0" y2="1749.8" stroke="#c2332b" stroke-width="2.0"/>
<line x1="99.0" y1="1752.8" x2="258.0" y2="1752.8" stroke="#c2332b" stroke-width="2.0"/>
<line x1="99.0" y1="1756.6" x2="209.0" y2="1756.6" stroke="#95bfd6" stroke-width="2.0"/>
<line x1="53.0" y1="1760.0" x2="184.0" y2="1760.0" stroke="#c2332b" stroke-width="2.0"/>
<line x1="53.0" y1="1763.0" x2="287.0" y2="1763.0" stroke="#c2332b" stroke-width="2.0"/>
<line x1="246.5" y1="1766.2" x2="390.0" y2="1766.2" stroke="#151515" stroke-width="2.0"/>
<line x1="246.5" y1="1769.6" x2="382.0" y2="1769.6" stroke="#151515" stroke-width="2.0"/>
<line x1="239.0" y1="1772.9" x2="395.0" y2="1772.9" stroke="#151515" stroke-width="2.0"/>
<line x1="239.0" y1="1776.6" x2="514.0" y2="1776.6" stroke="#151515" stroke-width="2.0"/>
<line x1="183.6" y1="1779.6" x2="336.0" y2="1779.6" stroke="#151515" stroke-width="2.0"/>
<line x1="221.8" y1="1783.1" x2="456.0" y2="1783.1" stroke="#151515" stroke-width="2.0"/>
<line x1="221.8" y1="1786.3" x2="403.0" y2="1786.3" stroke="#151515" stroke-width="2.0"/>
<line x1="192.3" y1="1789.5" x2="441.0" y2="1789.5" stroke="#151515" stroke-width="2.0"/>
<line x1="156.5" y1="1792.4" x2="215.0" y2="1792.4" stroke="#151515" stroke-width="2.0"/>
<line x1="173.8" y1="1795.8" x2="333.0" y2="1795.8" stroke="#151515" stroke-width="2.0"/>
<line x1="173.8" y1="1799.3" x2="276.0" y2="1799.3" stroke="#151515" stroke-width="2.0"/>
<line x1="189.8" y1="1802.8" x2="262.0" y2="1802.8" stroke="#151515" stroke-width="2.0"/>
<line x1="189.8" y1="1806.2" x2="466.0" y2="1806.2" stroke="#151515" stroke-width="2.0"/>
<line x1="177.5" y1="1809.2" x2="272.0" y2="1809.2" stroke="#151515" stroke-width="2.0"/>
<line x1="177.5" y1="1812.3" x2="422.0" y2="1812.3" stroke="#151515" stroke-width="2.0"/>
<line x1="147.9" y1="1815.5" x2="197.0" y2="1815.5" stroke="#151515" stroke-width="2.0"/>
<line x1="136.8" y1="1819.0" x2="187.0" y2="1819.0" stroke="#151515" stroke-width="2.0"/>
<line x1="173.8" y1="1822.2" x2="361.0" y2="1822.2" stroke="#151515" stroke-width="2.0"/>
<line x1="173.8" y1="1825.4" x2="434.0" y2="1825.4" stroke="#151515" stroke-width="2.0"/>
<line x1="150.4" y1="1828.9" x2="323.0" y2="1828.9" stroke="#151515" stroke-width="2.0"/>
<line x1="133.1" y1="1832.0" x2="256.0" y2="1832.0" stroke="#151515" stroke-width="2.0"/>
<line x1="133.1" y1="1835.2" x2="317.0" y2="1835.2" stroke="#151515" stroke-width="2.0"/>
<line x1="139.3" y1="1838.7" x2="229.0" y2="1838.7" stroke="#151515" stroke-width="2.0"/>
<line x1="139.3" y1="1841.8" x2="353.0" y2="1841.8" stroke="#151515" stroke-width="2.0"/>
<line x1="104.8" y1="1845.2" x2="478.0" y2="1845.2" stroke="#151515" stroke-width="2.0"/>
<line x1="165.2" y1="1848.3" x2="322.0" y2="1848.3" stroke="#151515" stroke-width="2.0"/>
<line x1="165.2" y1="1851.6" x2="444.0" y2="1851.6" stroke="#151515" stroke-width="2.0"/>
<line x1="151.6" y1="1854.9" x2="417.0" y2="1854.9" stroke="#151515" stroke-width="2.0"/>
<line x1="141.7" y1="1858.4" x2="330.0" y2="1858.4" stroke="#151515" stroke-width="2.0"/>
<line x1="141.7" y1="1861.7" x2="332.0" y2="1861.7" stroke="#151515" stroke-width="2.0"/>
<line x1="125.7" y1="1864.6" x2="221.0" y2="1864.6" stroke="#151515" stroke-width="2.0"/>
<line x1="245.2" y1="1867.8" x2="428.0" y2="1867.8" stroke="#151515" stroke-width="2.0"/>
<line x1="245.2" y1="1871.1" x2="435.0" y2="1871.1" stroke="#151515" stroke-width="2.0"/>
<line x1="212.0" y1="1874.4" x2="381.0" y2="1874.4" stroke="#151515" stroke-width="2.0"/>
<line x1="235.4" y1="1877.9" x2="397.0" y2="1877.9" stroke="#151515" stroke-width="2.0"/>
<line x1="235.4" y1="1881.3" x2="457.0" y2="1881.3" stroke="#151515" stroke-width="2.0"/>
<line x1="202.1" y1="1884.3" x2="264.0" y2="1884.3" stroke="#151515" stroke-width="2.0"/>
<line x1="202.1" y1="1887.8" x2="421.0" y2="1887.8" stroke="#151515" stroke-width="2.0"/>
<line x1="189.8" y1="1890.8" x2="330.0" y2="1890.8" stroke="#151515" stroke-width="2.0"/>
<line x1="165.2" y1="1894.1" x2="349.0" y2="1894.1" stroke="#151515" stroke-width="2.0"/>
<line x1="152.8" y1="1897.2" x2="465.0" y2="1897.2" stroke="#151515" stroke-width="2.0"/>
<line x1="122.0" y1="1900.5" x2="400.0" y2="1900.5" stroke="#151515" stroke-width="2.0"/>
<line x1="49.3" y1="1904.0" x2="221.4" y2="1904.0" stroke="#151515" stroke-width="2.0"/>
</g>
<g id="purple" shape-rendering="geometricPrecision">
<line x1="248.6" y1="337.8" x2="248.6" y2="471" stroke="#6a1865" stroke-width="6.4"/>
<line x1="245.4" y1="341" x2="278" y2="341" stroke="#6a1865" stroke-width="6.4"/>
<circle cx="265.2" cy="341" r="7.1" fill="#000"/>
<line x1="160.8" y1="1227.8" x2="160.8" y2="1266" stroke="#6a1865" stroke-width="6.4"/>
<line x1="157.6" y1="1231" x2="179.5" y2="1231" stroke="#6a1865" stroke-width="6.4"/>
<circle cx="168.2" cy="1230.5" r="7.1" fill="#000"/>
<line x1="79.3" y1="1359.4" x2="79.3" y2="1388" stroke="#6a1865" stroke-width="6.4"/>
<line x1="76.1" y1="1362.6" x2="120.4" y2="1362.6" stroke="#6a1865" stroke-width="6.4"/>
<circle cx="96.6" cy="1362.6" r="7.3" fill="#000"/>
</g>
<g>
<line x1="16" y1="88" x2="60" y2="88" stroke="#d7302a" stroke-width="3"/>
<line x1="16" y1="110.3" x2="60" y2="110.3" stroke="#3aa64a" stroke-width="3"/>
<line x1="16" y1="131.2" x2="60" y2="131.2" stroke="#1a7a5e" stroke-width="3"/>
<line x1="16" y1="152" x2="60" y2="152" stroke="#4e7f6c" stroke-width="3"/>
<line x1="16" y1="170.6" x2="60" y2="170.6" stroke="#8fc3e0" stroke-width="3"/>
<line x1="16" y1="192.3" x2="60" y2="192.3" stroke="#f2a0a0" stroke-width="3"/>
<line x1="16" y1="214" x2="60" y2="214" stroke="#111" stroke-width="3"/>
<text class="lg" x="75" y="90">S.Africa</text>
<text class="lg" x="75" y="110.5">Ethiopia</text>
<text class="lg" x="75" y="131">W.Africa</text>
<text class="lg" x="75" y="151.5">Europe</text>
<text class="lg" x="75" y="172">N.America</text>
<text class="lg" x="75" y="192.5">Asia</text>
<text class="lg" x="75" y="213">Outgroup refs.</text>
<text x="846.5" y="259.3" style="font-weight:bold;font-size:31.5px;" fill="#000" textLength="124.5" lengthAdjust="spacingAndGlyphs">C’-ET-153</text>
<line x1="229.5" y1="1928" x2="279" y2="1928" stroke="#000" stroke-width="5.3" stroke-linecap="round" shape-rendering="geometricPrecision"/>
<text x="236.7" y="1962.6" style="font-size:28.5px;" fill="#000" textLength="47.7" lengthAdjust="spacingAndGlyphs">0.02</text>
</g>
</svg>
</body></html>
